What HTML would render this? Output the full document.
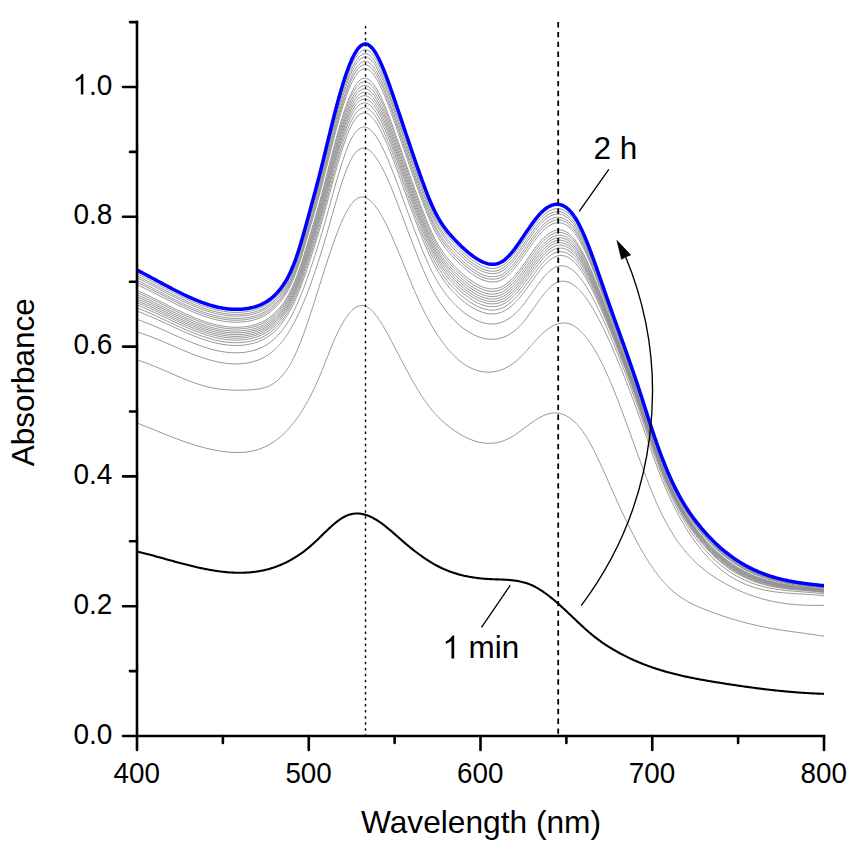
<!DOCTYPE html>
<html><head><meta charset="utf-8"><style>html,body{margin:0;padding:0;background:#fff;width:859px;height:849px;overflow:hidden}svg{display:block}text{font-family:"Liberation Sans",sans-serif}</style></head>
<body><svg width="859" height="849" viewBox="0 0 859 849">
<rect width="859" height="849" fill="#fff"/>
<g fill="none" stroke="#8e8e8e" stroke-width="0.9">
<path d="M137,273.55 L138,274.04 L139,274.54 L140,275.04 L141,275.55 L142,276.05 L143,276.57 L144,277.08 L145,277.60 L146,278.11 L147,278.64 L148,279.16 L149,279.68 L150,280.21 L151,280.74 L152,281.27 L153,281.80 L154,282.33 L155,282.86 L156,283.39 L157,283.92 L158,284.46 L159,284.99 L160,285.52 L161,286.06 L162,286.59 L163,287.12 L164,287.65 L165,288.18 L166,288.71 L167,289.24 L168,289.76 L169,290.29 L170,290.81 L171,291.33 L172,291.85 L173,292.37 L174,292.88 L175,293.39 L176,293.90 L177,294.40 L178,294.90 L179,295.40 L180,295.89 L181,296.39 L182,296.87 L183,297.35 L184,297.83 L185,298.31 L186,298.77 L187,299.24 L188,299.70 L189,300.15 L190,300.60 L191,301.04 L192,301.48 L193,301.91 L194,302.34 L195,302.76 L196,303.17 L197,303.57 L198,303.97 L199,304.37 L200,304.75 L201,305.13 L202,305.50 L203,305.86 L204,306.22 L205,306.56 L206,306.90 L207,307.23 L208,307.55 L209,307.87 L210,308.17 L211,308.47 L212,308.75 L213,309.03 L214,309.30 L215,309.55 L216,309.80 L217,310.04 L218,310.27 L219,310.48 L220,310.69 L221,310.88 L222,311.07 L223,311.24 L224,311.40 L225,311.55 L226,311.69 L227,311.82 L228,311.93 L229,312.03 L230,312.12 L231,312.20 L232,312.27 L233,312.32 L234,312.36 L235,312.38 L236,312.39 L237,312.39 L238,312.38 L239,312.35 L240,312.30 L241,312.25 L242,312.17 L243,312.09 L244,311.99 L245,311.87 L246,311.74 L247,311.59 L248,311.43 L249,311.25 L250,311.06 L251,310.84 L252,310.62 L253,310.37 L254,310.11 L255,309.83 L256,309.52 L257,309.20 L258,308.85 L259,308.47 L260,308.07 L261,307.64 L262,307.18 L263,306.69 L264,306.16 L265,305.61 L266,305.02 L267,304.39 L268,303.73 L269,303.03 L270,302.29 L271,301.50 L272,300.68 L273,299.81 L274,298.90 L275,297.94 L276,296.93 L277,295.88 L278,294.77 L279,293.61 L280,292.40 L281,291.12 L282,289.78 L283,288.37 L284,286.89 L285,285.32 L286,283.68 L287,281.94 L288,280.12 L289,278.19 L290,276.17 L291,274.04 L292,271.79 L293,269.44 L294,266.96 L295,264.36 L296,261.63 L297,258.77 L298,255.80 L299,252.71 L300,249.53 L301,246.26 L302,242.91 L303,239.50 L304,236.02 L305,232.50 L306,228.94 L307,225.36 L308,221.76 L309,218.15 L310,214.54 L311,210.93 L312,207.32 L313,203.70 L314,200.06 L315,196.40 L316,192.72 L317,189.00 L318,185.24 L319,181.44 L320,177.59 L321,173.69 L322,169.74 L323,165.76 L324,161.74 L325,157.70 L326,153.63 L327,149.56 L328,145.49 L329,141.41 L330,137.35 L331,133.31 L332,129.29 L333,125.31 L334,121.37 L335,117.47 L336,113.64 L337,109.86 L338,106.16 L339,102.53 L340,98.99 L341,95.54 L342,92.18 L343,88.92 L344,85.75 L345,82.69 L346,79.74 L347,76.91 L348,74.19 L349,71.59 L350,69.12 L351,66.78 L352,64.57 L353,62.50 L354,60.57 L355,58.79 L356,57.16 L357,55.68 L358,54.35 L359,53.19 L360,52.19 L361,51.36 L362,50.70 L363,50.21 L364,49.90 L365,49.77 L366,49.83 L367,50.06 L368,50.48 L369,51.06 L370,51.81 L371,52.71 L372,53.77 L373,54.98 L374,56.32 L375,57.80 L376,59.41 L377,61.14 L378,62.98 L379,64.94 L380,67.00 L381,69.16 L382,71.41 L383,73.75 L384,76.18 L385,78.67 L386,81.24 L387,83.86 L388,86.55 L389,89.28 L390,92.06 L391,94.89 L392,97.74 L393,100.62 L394,103.52 L395,106.44 L396,109.37 L397,112.31 L398,115.25 L399,118.20 L400,121.15 L401,124.11 L402,127.07 L403,130.03 L404,132.99 L405,135.95 L406,138.91 L407,141.86 L408,144.81 L409,147.75 L410,150.68 L411,153.61 L412,156.52 L413,159.43 L414,162.32 L415,165.20 L416,168.06 L417,170.91 L418,173.74 L419,176.56 L420,179.35 L421,182.12 L422,184.87 L423,187.58 L424,190.26 L425,192.90 L426,195.50 L427,198.05 L428,200.55 L429,203.00 L430,205.39 L431,207.72 L432,209.99 L433,212.18 L434,214.31 L435,216.35 L436,218.32 L437,220.21 L438,222.01 L439,223.74 L440,225.40 L441,227.00 L442,228.53 L443,230.00 L444,231.41 L445,232.78 L446,234.09 L447,235.36 L448,236.59 L449,237.79 L450,238.95 L451,240.09 L452,241.20 L453,242.29 L454,243.36 L455,244.42 L456,245.46 L457,246.49 L458,247.51 L459,248.51 L460,249.49 L461,250.46 L462,251.40 L463,252.34 L464,253.25 L465,254.14 L466,255.02 L467,255.87 L468,256.70 L469,257.52 L470,258.30 L471,259.07 L472,259.82 L473,260.54 L474,261.23 L475,261.90 L476,262.55 L477,263.17 L478,263.76 L479,264.32 L480,264.86 L481,265.37 L482,265.84 L483,266.28 L484,266.69 L485,267.06 L486,267.39 L487,267.68 L488,267.93 L489,268.13 L490,268.29 L491,268.40 L492,268.46 L493,268.46 L494,268.42 L495,268.31 L496,268.15 L497,267.93 L498,267.65 L499,267.31 L500,266.90 L501,266.42 L502,265.88 L503,265.26 L504,264.57 L505,263.81 L506,262.98 L507,262.09 L508,261.14 L509,260.13 L510,259.07 L511,257.95 L512,256.79 L513,255.58 L514,254.33 L515,253.05 L516,251.73 L517,250.37 L518,248.99 L519,247.59 L520,246.17 L521,244.73 L522,243.27 L523,241.80 L524,240.33 L525,238.85 L526,237.37 L527,235.89 L528,234.43 L529,232.97 L530,231.52 L531,230.10 L532,228.69 L533,227.31 L534,225.96 L535,224.64 L536,223.35 L537,222.11 L538,220.91 L539,219.75 L540,218.64 L541,217.58 L542,216.58 L543,215.62 L544,214.73 L545,213.88 L546,213.10 L547,212.37 L548,211.70 L549,211.10 L550,210.56 L551,210.08 L552,209.67 L553,209.32 L554,209.05 L555,208.84 L556,208.71 L557,208.64 L558,208.65 L559,208.74 L560,208.90 L561,209.14 L562,209.46 L563,209.86 L564,210.34 L565,210.90 L566,211.54 L567,212.27 L568,213.08 L569,213.98 L570,214.96 L571,216.04 L572,217.20 L573,218.46 L574,219.81 L575,221.25 L576,222.79 L577,224.42 L578,226.14 L579,227.96 L580,229.86 L581,231.85 L582,233.92 L583,236.06 L584,238.27 L585,240.55 L586,242.89 L587,245.29 L588,247.75 L589,250.26 L590,252.82 L591,255.42 L592,258.06 L593,260.74 L594,263.44 L595,266.18 L596,268.94 L597,271.72 L598,274.53 L599,277.34 L600,280.17 L601,283.01 L602,285.85 L603,288.70 L604,291.55 L605,294.40 L606,297.24 L607,300.08 L608,302.91 L609,305.72 L610,308.53 L611,311.32 L612,314.11 L613,316.89 L614,319.66 L615,322.43 L616,325.20 L617,327.96 L618,330.72 L619,333.48 L620,336.25 L621,339.01 L622,341.78 L623,344.56 L624,347.34 L625,350.12 L626,352.92 L627,355.73 L628,358.55 L629,361.38 L630,364.22 L631,367.08 L632,369.95 L633,372.84 L634,375.75 L635,378.68 L636,381.63 L637,384.60 L638,387.60 L639,390.62 L640,393.67 L641,396.73 L642,399.82 L643,402.92 L644,406.03 L645,409.14 L646,412.25 L647,415.36 L648,418.46 L649,421.55 L650,424.61 L651,427.66 L652,430.67 L653,433.66 L654,436.61 L655,439.52 L656,442.40 L657,445.24 L658,448.03 L659,450.79 L660,453.50 L661,456.18 L662,458.81 L663,461.39 L664,463.93 L665,466.43 L666,468.88 L667,471.28 L668,473.64 L669,475.95 L670,478.21 L671,480.42 L672,482.58 L673,484.69 L674,486.76 L675,488.78 L676,490.76 L677,492.69 L678,494.59 L679,496.44 L680,498.25 L681,500.02 L682,501.75 L683,503.45 L684,505.11 L685,506.74 L686,508.33 L687,509.89 L688,511.42 L689,512.91 L690,514.38 L691,515.82 L692,517.23 L693,518.61 L694,519.97 L695,521.30 L696,522.61 L697,523.90 L698,525.17 L699,526.41 L700,527.64 L701,528.85 L702,530.04 L703,531.21 L704,532.36 L705,533.50 L706,534.62 L707,535.72 L708,536.80 L709,537.87 L710,538.92 L711,539.95 L712,540.97 L713,541.97 L714,542.95 L715,543.92 L716,544.87 L717,545.81 L718,546.73 L719,547.63 L720,548.52 L721,549.39 L722,550.25 L723,551.10 L724,551.93 L725,552.74 L726,553.54 L727,554.33 L728,555.10 L729,555.86 L730,556.61 L731,557.34 L732,558.06 L733,558.77 L734,559.46 L735,560.14 L736,560.81 L737,561.46 L738,562.10 L739,562.73 L740,563.35 L741,563.95 L742,564.55 L743,565.13 L744,565.70 L745,566.26 L746,566.80 L747,567.34 L748,567.86 L749,568.38 L750,568.88 L751,569.37 L752,569.86 L753,570.33 L754,570.79 L755,571.24 L756,571.68 L757,572.11 L758,572.54 L759,572.95 L760,573.35 L761,573.75 L762,574.13 L763,574.51 L764,574.87 L765,575.23 L766,575.58 L767,575.92 L768,576.26 L769,576.58 L770,576.90 L771,577.21 L772,577.51 L773,577.81 L774,578.10 L775,578.38 L776,578.65 L777,578.91 L778,579.17 L779,579.43 L780,579.67 L781,579.91 L782,580.15 L783,580.37 L784,580.60 L785,580.81 L786,581.02 L787,581.23 L788,581.43 L789,581.62 L790,581.81 L791,581.99 L792,582.17 L793,582.35 L794,582.52 L795,582.68 L796,582.85 L797,583.00 L798,583.16 L799,583.31 L800,583.45 L801,583.60 L802,583.74 L803,583.87 L804,584.00 L805,584.13 L806,584.26 L807,584.39 L808,584.51 L809,584.63 L810,584.75 L811,584.86 L812,584.98 L813,585.09 L814,585.20 L815,585.31 L816,585.41 L817,585.52 L818,585.62 L819,585.73 L820,585.83 L821,585.93 L822,586.04 L823,586.14 L824,586.24"/>
<path d="M137,275.84 L138,276.33 L139,276.82 L140,277.31 L141,277.81 L142,278.31 L143,278.81 L144,279.32 L145,279.83 L146,280.34 L147,280.86 L148,281.37 L149,281.89 L150,282.41 L151,282.93 L152,283.46 L153,283.98 L154,284.51 L155,285.03 L156,285.56 L157,286.09 L158,286.62 L159,287.15 L160,287.67 L161,288.20 L162,288.73 L163,289.26 L164,289.78 L165,290.31 L166,290.84 L167,291.36 L168,291.88 L169,292.40 L170,292.92 L171,293.44 L172,293.95 L173,294.46 L174,294.97 L175,295.48 L176,295.99 L177,296.49 L178,296.99 L179,297.48 L180,297.97 L181,298.46 L182,298.95 L183,299.43 L184,299.90 L185,300.37 L186,300.84 L187,301.30 L188,301.76 L189,302.21 L190,302.66 L191,303.10 L192,303.53 L193,303.96 L194,304.39 L195,304.80 L196,305.21 L197,305.62 L198,306.02 L199,306.41 L200,306.79 L201,307.17 L202,307.54 L203,307.90 L204,308.25 L205,308.60 L206,308.94 L207,309.27 L208,309.59 L209,309.90 L210,310.20 L211,310.50 L212,310.78 L213,311.06 L214,311.33 L215,311.58 L216,311.83 L217,312.07 L218,312.29 L219,312.51 L220,312.71 L221,312.91 L222,313.09 L223,313.27 L224,313.43 L225,313.58 L226,313.71 L227,313.84 L228,313.96 L229,314.06 L230,314.15 L231,314.22 L232,314.29 L233,314.34 L234,314.38 L235,314.40 L236,314.42 L237,314.41 L238,314.40 L239,314.37 L240,314.32 L241,314.27 L242,314.19 L243,314.11 L244,314.00 L245,313.89 L246,313.75 L247,313.61 L248,313.44 L249,313.26 L250,313.07 L251,312.86 L252,312.63 L253,312.39 L254,312.12 L255,311.84 L256,311.53 L257,311.21 L258,310.85 L259,310.48 L260,310.07 L261,309.64 L262,309.18 L263,308.69 L264,308.17 L265,307.61 L266,307.02 L267,306.40 L268,305.74 L269,305.04 L270,304.30 L271,303.51 L272,302.69 L273,301.82 L274,300.91 L275,299.96 L276,298.95 L277,297.90 L278,296.79 L279,295.64 L280,294.43 L281,293.16 L282,291.82 L283,290.42 L284,288.94 L285,287.38 L286,285.74 L287,284.02 L288,282.20 L289,280.29 L290,278.28 L291,276.17 L292,273.95 L293,271.61 L294,269.16 L295,266.58 L296,263.88 L297,261.06 L298,258.12 L299,255.07 L300,251.93 L301,248.70 L302,245.39 L303,242.01 L304,238.58 L305,235.10 L306,231.59 L307,228.04 L308,224.48 L309,220.91 L310,217.33 L311,213.76 L312,210.18 L313,206.59 L314,202.98 L315,199.35 L316,195.69 L317,192.00 L318,188.27 L319,184.50 L320,180.68 L321,176.81 L322,172.89 L323,168.93 L324,164.94 L325,160.92 L326,156.89 L327,152.84 L328,148.79 L329,144.74 L330,140.70 L331,136.68 L332,132.68 L333,128.72 L334,124.79 L335,120.92 L336,117.09 L337,113.34 L338,109.65 L339,106.04 L340,102.51 L341,99.07 L342,95.72 L343,92.46 L344,89.31 L345,86.26 L346,83.32 L347,80.50 L348,77.79 L349,75.20 L350,72.74 L351,70.41 L352,68.22 L353,66.17 L354,64.26 L355,62.49 L356,60.88 L357,59.42 L358,58.11 L359,56.97 L360,55.98 L361,55.17 L362,54.52 L363,54.05 L364,53.75 L365,53.63 L366,53.70 L367,53.94 L368,54.36 L369,54.94 L370,55.69 L371,56.59 L372,57.65 L373,58.85 L374,60.18 L375,61.66 L376,63.25 L377,64.97 L378,66.81 L379,68.75 L380,70.80 L381,72.94 L382,75.18 L383,77.50 L384,79.91 L385,82.39 L386,84.93 L387,87.54 L388,90.21 L389,92.93 L390,95.69 L391,98.50 L392,101.33 L393,104.20 L394,107.09 L395,109.99 L396,112.90 L397,115.83 L398,118.76 L399,121.69 L400,124.64 L401,127.58 L402,130.53 L403,133.48 L404,136.43 L405,139.37 L406,142.32 L407,145.26 L408,148.20 L409,151.13 L410,154.05 L411,156.97 L412,159.87 L413,162.76 L414,165.64 L415,168.51 L416,171.36 L417,174.20 L418,177.02 L419,179.82 L420,182.60 L421,185.36 L422,188.09 L423,190.79 L424,193.45 L425,196.08 L426,198.66 L427,201.20 L428,203.69 L429,206.12 L430,208.50 L431,210.81 L432,213.06 L433,215.25 L434,217.36 L435,219.40 L436,221.36 L437,223.23 L438,225.04 L439,226.76 L440,228.42 L441,230.01 L442,231.54 L443,233.01 L444,234.42 L445,235.79 L446,237.10 L447,238.37 L448,239.61 L449,240.80 L450,241.96 L451,243.10 L452,244.21 L453,245.30 L454,246.37 L455,247.43 L456,248.47 L457,249.49 L458,250.51 L459,251.50 L460,252.48 L461,253.44 L462,254.38 L463,255.31 L464,256.21 L465,257.10 L466,257.97 L467,258.81 L468,259.64 L469,260.44 L470,261.22 L471,261.98 L472,262.72 L473,263.43 L474,264.12 L475,264.78 L476,265.42 L477,266.03 L478,266.61 L479,267.17 L480,267.70 L481,268.20 L482,268.67 L483,269.10 L484,269.50 L485,269.87 L486,270.19 L487,270.48 L488,270.72 L489,270.92 L490,271.07 L491,271.18 L492,271.23 L493,271.24 L494,271.19 L495,271.09 L496,270.93 L497,270.72 L498,270.44 L499,270.10 L500,269.70 L501,269.23 L502,268.69 L503,268.09 L504,267.41 L505,266.67 L506,265.85 L507,264.98 L508,264.04 L509,263.05 L510,262.00 L511,260.91 L512,259.76 L513,258.58 L514,257.35 L515,256.08 L516,254.78 L517,253.45 L518,252.08 L519,250.70 L520,249.29 L521,247.86 L522,246.42 L523,244.96 L524,243.50 L525,242.03 L526,240.56 L527,239.09 L528,237.63 L529,236.17 L530,234.73 L531,233.31 L532,231.90 L533,230.52 L534,229.16 L535,227.84 L536,226.55 L537,225.30 L538,224.09 L539,222.92 L540,221.80 L541,220.73 L542,219.71 L543,218.75 L544,217.84 L545,216.98 L546,216.18 L547,215.43 L548,214.75 L549,214.13 L550,213.57 L551,213.08 L552,212.65 L553,212.28 L554,211.99 L555,211.77 L556,211.62 L557,211.54 L558,211.53 L559,211.60 L560,211.75 L561,211.97 L562,212.28 L563,212.66 L564,213.12 L565,213.66 L566,214.28 L567,214.99 L568,215.79 L569,216.66 L570,217.63 L571,218.68 L572,219.82 L573,221.05 L574,222.38 L575,223.79 L576,225.30 L577,226.90 L578,228.60 L579,230.38 L580,232.25 L581,234.20 L582,236.23 L583,238.33 L584,240.51 L585,242.75 L586,245.05 L587,247.42 L588,249.83 L589,252.30 L590,254.82 L591,257.38 L592,259.98 L593,262.62 L594,265.29 L595,267.99 L596,270.71 L597,273.45 L598,276.22 L599,279.00 L600,281.79 L601,284.59 L602,287.41 L603,290.22 L604,293.04 L605,295.86 L606,298.68 L607,301.49 L608,304.29 L609,307.08 L610,309.86 L611,312.63 L612,315.40 L613,318.16 L614,320.92 L615,323.67 L616,326.42 L617,329.17 L618,331.92 L619,334.66 L620,337.41 L621,340.17 L622,342.93 L623,345.69 L624,348.46 L625,351.24 L626,354.02 L627,356.82 L628,359.63 L629,362.45 L630,365.29 L631,368.14 L632,371.00 L633,373.88 L634,376.79 L635,379.71 L636,382.65 L637,385.61 L638,388.60 L639,391.61 L640,394.65 L641,397.70 L642,400.78 L643,403.87 L644,406.97 L645,410.07 L646,413.18 L647,416.27 L648,419.37 L649,422.44 L650,425.50 L651,428.54 L652,431.55 L653,434.53 L654,437.47 L655,440.38 L656,443.25 L657,446.08 L658,448.87 L659,451.62 L660,454.33 L661,457.00 L662,459.62 L663,462.20 L664,464.74 L665,467.23 L666,469.67 L667,472.07 L668,474.43 L669,476.73 L670,478.98 L671,481.19 L672,483.35 L673,485.46 L674,487.53 L675,489.55 L676,491.53 L677,493.46 L678,495.35 L679,497.20 L680,499.02 L681,500.79 L682,502.52 L683,504.22 L684,505.89 L685,507.51 L686,509.11 L687,510.67 L688,512.20 L689,513.70 L690,515.17 L691,516.61 L692,518.02 L693,519.41 L694,520.77 L695,522.10 L696,523.41 L697,524.70 L698,525.97 L699,527.22 L700,528.45 L701,529.66 L702,530.85 L703,532.02 L704,533.17 L705,534.31 L706,535.43 L707,536.53 L708,537.61 L709,538.68 L710,539.73 L711,540.76 L712,541.78 L713,542.77 L714,543.76 L715,544.72 L716,545.67 L717,546.61 L718,547.53 L719,548.43 L720,549.32 L721,550.19 L722,551.04 L723,551.89 L724,552.71 L725,553.53 L726,554.32 L727,555.11 L728,555.88 L729,556.63 L730,557.38 L731,558.10 L732,558.82 L733,559.52 L734,560.21 L735,560.88 L736,561.55 L737,562.20 L738,562.83 L739,563.46 L740,564.07 L741,564.67 L742,565.26 L743,565.84 L744,566.40 L745,566.95 L746,567.50 L747,568.03 L748,568.55 L749,569.06 L750,569.55 L751,570.04 L752,570.52 L753,570.98 L754,571.44 L755,571.88 L756,572.32 L757,572.75 L758,573.16 L759,573.57 L760,573.97 L761,574.35 L762,574.73 L763,575.10 L764,575.47 L765,575.82 L766,576.16 L767,576.50 L768,576.83 L769,577.15 L770,577.46 L771,577.76 L772,578.06 L773,578.35 L774,578.63 L775,578.90 L776,579.17 L777,579.43 L778,579.69 L779,579.93 L780,580.17 L781,580.41 L782,580.64 L783,580.86 L784,581.08 L785,581.29 L786,581.49 L787,581.69 L788,581.89 L789,582.08 L790,582.26 L791,582.44 L792,582.62 L793,582.79 L794,582.95 L795,583.11 L796,583.27 L797,583.43 L798,583.57 L799,583.72 L800,583.86 L801,584.00 L802,584.14 L803,584.27 L804,584.40 L805,584.53 L806,584.65 L807,584.78 L808,584.90 L809,585.01 L810,585.13 L811,585.24 L812,585.36 L813,585.47 L814,585.58 L815,585.68 L816,585.79 L817,585.89 L818,586.00 L819,586.10 L820,586.21 L821,586.31 L822,586.41 L823,586.51 L824,586.62"/>
<path d="M137,277.84 L138,278.32 L139,278.81 L140,279.30 L141,279.79 L142,280.28 L143,280.78 L144,281.28 L145,281.79 L146,282.29 L147,282.80 L148,283.31 L149,283.82 L150,284.34 L151,284.86 L152,285.37 L153,285.89 L154,286.42 L155,286.94 L156,287.46 L157,287.98 L158,288.51 L159,289.03 L160,289.56 L161,290.08 L162,290.60 L163,291.13 L164,291.65 L165,292.17 L166,292.69 L167,293.21 L168,293.73 L169,294.25 L170,294.77 L171,295.28 L172,295.79 L173,296.30 L174,296.81 L175,297.31 L176,297.82 L177,298.31 L178,298.81 L179,299.30 L180,299.79 L181,300.28 L182,300.76 L183,301.24 L184,301.71 L185,302.18 L186,302.65 L187,303.11 L188,303.56 L189,304.01 L190,304.46 L191,304.90 L192,305.33 L193,305.76 L194,306.18 L195,306.60 L196,307.01 L197,307.41 L198,307.81 L199,308.20 L200,308.58 L201,308.95 L202,309.32 L203,309.68 L204,310.04 L205,310.38 L206,310.72 L207,311.05 L208,311.37 L209,311.68 L210,311.98 L211,312.28 L212,312.56 L213,312.84 L214,313.10 L215,313.36 L216,313.61 L217,313.84 L218,314.07 L219,314.28 L220,314.49 L221,314.68 L222,314.87 L223,315.04 L224,315.20 L225,315.35 L226,315.49 L227,315.61 L228,315.73 L229,315.83 L230,315.92 L231,315.99 L232,316.06 L233,316.11 L234,316.15 L235,316.17 L236,316.18 L237,316.18 L238,316.17 L239,316.14 L240,316.09 L241,316.03 L242,315.96 L243,315.87 L244,315.77 L245,315.65 L246,315.52 L247,315.37 L248,315.21 L249,315.03 L250,314.83 L251,314.62 L252,314.39 L253,314.15 L254,313.88 L255,313.60 L256,313.29 L257,312.97 L258,312.61 L259,312.24 L260,311.83 L261,311.40 L262,310.94 L263,310.45 L264,309.93 L265,309.37 L266,308.78 L267,308.16 L268,307.49 L269,306.79 L270,306.05 L271,305.27 L272,304.45 L273,303.59 L274,302.68 L275,301.72 L276,300.72 L277,299.67 L278,298.56 L279,297.41 L280,296.20 L281,294.94 L282,293.60 L283,292.20 L284,290.73 L285,289.18 L286,287.55 L287,285.84 L288,284.03 L289,282.13 L290,280.14 L291,278.04 L292,275.83 L293,273.51 L294,271.08 L295,268.53 L296,265.85 L297,263.06 L298,260.15 L299,257.13 L300,254.02 L301,250.83 L302,247.55 L303,244.22 L304,240.82 L305,237.38 L306,233.90 L307,230.39 L308,226.86 L309,223.32 L310,219.78 L311,216.23 L312,212.68 L313,209.12 L314,205.54 L315,201.93 L316,198.30 L317,194.63 L318,190.93 L319,187.18 L320,183.38 L321,179.53 L322,175.64 L323,171.70 L324,167.74 L325,163.75 L326,159.73 L327,155.71 L328,151.68 L329,147.65 L330,143.63 L331,139.63 L332,135.65 L333,131.70 L334,127.79 L335,123.93 L336,120.12 L337,116.38 L338,112.70 L339,109.10 L340,105.58 L341,102.15 L342,98.81 L343,95.57 L344,92.42 L345,89.38 L346,86.45 L347,83.64 L348,80.94 L349,78.36 L350,75.91 L351,73.60 L352,71.42 L353,69.38 L354,67.48 L355,65.73 L356,64.13 L357,62.69 L358,61.40 L359,60.27 L360,59.30 L361,58.50 L362,57.87 L363,57.41 L364,57.12 L365,57.01 L366,57.08 L367,57.33 L368,57.75 L369,58.34 L370,59.09 L371,59.99 L372,61.04 L373,62.23 L374,63.56 L375,65.03 L376,66.62 L377,68.33 L378,70.15 L379,72.08 L380,74.12 L381,76.25 L382,78.48 L383,80.78 L384,83.17 L385,85.64 L386,88.17 L387,90.77 L388,93.42 L389,96.12 L390,98.87 L391,101.66 L392,104.48 L393,107.33 L394,110.20 L395,113.09 L396,115.99 L397,118.91 L398,121.82 L399,124.75 L400,127.68 L401,130.62 L402,133.55 L403,136.49 L404,139.43 L405,142.37 L406,145.31 L407,148.24 L408,151.16 L409,154.08 L410,157.00 L411,159.90 L412,162.80 L413,165.68 L414,168.55 L415,171.41 L416,174.25 L417,177.08 L418,179.89 L419,182.68 L420,185.44 L421,188.19 L422,190.91 L423,193.60 L424,196.25 L425,198.86 L426,201.43 L427,203.96 L428,206.43 L429,208.85 L430,211.22 L431,213.52 L432,215.76 L433,217.93 L434,220.03 L435,222.06 L436,224.01 L437,225.88 L438,227.68 L439,229.40 L440,231.06 L441,232.65 L442,234.17 L443,235.64 L444,237.05 L445,238.42 L446,239.73 L447,241.01 L448,242.24 L449,243.44 L450,244.60 L451,245.74 L452,246.85 L453,247.93 L454,249.00 L455,250.06 L456,251.10 L457,252.12 L458,253.13 L459,254.12 L460,255.09 L461,256.05 L462,256.99 L463,257.91 L464,258.81 L465,259.69 L466,260.55 L467,261.39 L468,262.21 L469,263.00 L470,263.78 L471,264.53 L472,265.26 L473,265.97 L474,266.65 L475,267.30 L476,267.93 L477,268.54 L478,269.11 L479,269.66 L480,270.19 L481,270.68 L482,271.14 L483,271.57 L484,271.96 L485,272.32 L486,272.64 L487,272.92 L488,273.16 L489,273.35 L490,273.51 L491,273.61 L492,273.66 L493,273.67 L494,273.62 L495,273.52 L496,273.36 L497,273.15 L498,272.88 L499,272.54 L500,272.15 L501,271.69 L502,271.16 L503,270.56 L504,269.90 L505,269.16 L506,268.37 L507,267.50 L508,266.58 L509,265.61 L510,264.58 L511,263.50 L512,262.37 L513,261.20 L514,259.99 L515,258.74 L516,257.45 L517,256.13 L518,254.79 L519,253.42 L520,252.02 L521,250.61 L522,249.18 L523,247.73 L524,246.28 L525,244.81 L526,243.35 L527,241.89 L528,240.43 L529,238.98 L530,237.54 L531,236.11 L532,234.71 L533,233.32 L534,231.97 L535,230.64 L536,229.34 L537,228.09 L538,226.87 L539,225.70 L540,224.57 L541,223.49 L542,222.46 L543,221.48 L544,220.56 L545,219.69 L546,218.87 L547,218.12 L548,217.42 L549,216.78 L550,216.21 L551,215.70 L552,215.25 L553,214.88 L554,214.57 L555,214.33 L556,214.16 L557,214.07 L558,214.05 L559,214.11 L560,214.24 L561,214.45 L562,214.74 L563,215.10 L564,215.55 L565,216.08 L566,216.69 L567,217.38 L568,218.15 L569,219.01 L570,219.96 L571,220.99 L572,222.11 L573,223.32 L574,224.62 L575,226.02 L576,227.50 L577,229.07 L578,230.74 L579,232.50 L580,234.34 L581,236.26 L582,238.26 L583,240.33 L584,242.47 L585,244.68 L586,246.95 L587,249.27 L588,251.66 L589,254.09 L590,256.57 L591,259.10 L592,261.66 L593,264.27 L594,266.90 L595,269.57 L596,272.26 L597,274.97 L598,277.70 L599,280.45 L600,283.21 L601,285.98 L602,288.77 L603,291.55 L604,294.35 L605,297.14 L606,299.93 L607,302.72 L608,305.50 L609,308.27 L610,311.03 L611,313.78 L612,316.53 L613,319.28 L614,322.02 L615,324.75 L616,327.49 L617,330.22 L618,332.96 L619,335.70 L620,338.44 L621,341.18 L622,343.93 L623,346.68 L624,349.44 L625,352.21 L626,354.99 L627,357.78 L628,360.58 L629,363.39 L630,366.22 L631,369.06 L632,371.92 L633,374.80 L634,377.69 L635,380.60 L636,383.54 L637,386.49 L638,389.47 L639,392.48 L640,395.50 L641,398.55 L642,401.62 L643,404.70 L644,407.79 L645,410.89 L646,413.98 L647,417.07 L648,420.16 L649,423.23 L650,426.28 L651,429.31 L652,432.31 L653,435.28 L654,438.22 L655,441.12 L656,443.99 L657,446.81 L658,449.60 L659,452.35 L660,455.05 L661,457.71 L662,460.33 L663,462.91 L664,465.44 L665,467.93 L666,470.37 L667,472.76 L668,475.11 L669,477.41 L670,479.66 L671,481.87 L672,484.03 L673,486.14 L674,488.20 L675,490.22 L676,492.20 L677,494.13 L678,496.02 L679,497.88 L680,499.69 L681,501.46 L682,503.20 L683,504.90 L684,506.56 L685,508.19 L686,509.79 L687,511.35 L688,512.88 L689,514.38 L690,515.85 L691,517.30 L692,518.71 L693,520.10 L694,521.46 L695,522.80 L696,524.11 L697,525.40 L698,526.67 L699,527.92 L700,529.15 L701,530.36 L702,531.55 L703,532.73 L704,533.88 L705,535.02 L706,536.14 L707,537.24 L708,538.32 L709,539.39 L710,540.44 L711,541.47 L712,542.48 L713,543.48 L714,544.46 L715,545.43 L716,546.38 L717,547.31 L718,548.23 L719,549.13 L720,550.01 L721,550.88 L722,551.74 L723,552.58 L724,553.40 L725,554.21 L726,555.01 L727,555.79 L728,556.55 L729,557.31 L730,558.05 L731,558.77 L732,559.48 L733,560.18 L734,560.87 L735,561.54 L736,562.20 L737,562.84 L738,563.48 L739,564.10 L740,564.70 L741,565.30 L742,565.88 L743,566.46 L744,567.02 L745,567.57 L746,568.10 L747,568.63 L748,569.14 L749,569.65 L750,570.14 L751,570.62 L752,571.09 L753,571.56 L754,572.01 L755,572.45 L756,572.88 L757,573.30 L758,573.71 L759,574.11 L760,574.50 L761,574.89 L762,575.26 L763,575.63 L764,575.98 L765,576.33 L766,576.67 L767,577.00 L768,577.32 L769,577.64 L770,577.95 L771,578.24 L772,578.54 L773,578.82 L774,579.10 L775,579.37 L776,579.63 L777,579.88 L778,580.13 L779,580.38 L780,580.61 L781,580.84 L782,581.07 L783,581.28 L784,581.50 L785,581.70 L786,581.90 L787,582.10 L788,582.29 L789,582.47 L790,582.66 L791,582.83 L792,583.00 L793,583.17 L794,583.33 L795,583.49 L796,583.64 L797,583.79 L798,583.94 L799,584.08 L800,584.22 L801,584.36 L802,584.49 L803,584.62 L804,584.75 L805,584.88 L806,585.00 L807,585.12 L808,585.24 L809,585.35 L810,585.47 L811,585.58 L812,585.69 L813,585.80 L814,585.91 L815,586.01 L816,586.12 L817,586.22 L818,586.33 L819,586.43 L820,586.53 L821,586.64 L822,586.74 L823,586.84 L824,586.95"/>
<path d="M137,280.42 L138,280.89 L139,281.37 L140,281.85 L141,282.33 L142,282.82 L143,283.31 L144,283.80 L145,284.30 L146,284.80 L147,285.30 L148,285.80 L149,286.31 L150,286.82 L151,287.33 L152,287.84 L153,288.35 L154,288.87 L155,289.38 L156,289.90 L157,290.42 L158,290.94 L159,291.46 L160,291.97 L161,292.49 L162,293.01 L163,293.53 L164,294.05 L165,294.57 L166,295.08 L167,295.60 L168,296.11 L169,296.63 L170,297.14 L171,297.65 L172,298.16 L173,298.66 L174,299.17 L175,299.67 L176,300.17 L177,300.66 L178,301.15 L179,301.64 L180,302.13 L181,302.61 L182,303.09 L183,303.57 L184,304.04 L185,304.51 L186,304.97 L187,305.43 L188,305.88 L189,306.33 L190,306.77 L191,307.21 L192,307.64 L193,308.07 L194,308.49 L195,308.90 L196,309.31 L197,309.71 L198,310.11 L199,310.49 L200,310.88 L201,311.25 L202,311.62 L203,311.98 L204,312.33 L205,312.67 L206,313.01 L207,313.34 L208,313.66 L209,313.97 L210,314.27 L211,314.56 L212,314.85 L213,315.12 L214,315.39 L215,315.64 L216,315.89 L217,316.12 L218,316.35 L219,316.56 L220,316.77 L221,316.96 L222,317.15 L223,317.32 L224,317.48 L225,317.63 L226,317.76 L227,317.89 L228,318.00 L229,318.10 L230,318.19 L231,318.27 L232,318.33 L233,318.38 L234,318.42 L235,318.45 L236,318.46 L237,318.45 L238,318.44 L239,318.41 L240,318.36 L241,318.30 L242,318.23 L243,318.14 L244,318.04 L245,317.92 L246,317.79 L247,317.64 L248,317.48 L249,317.30 L250,317.10 L251,316.89 L252,316.66 L253,316.41 L254,316.15 L255,315.86 L256,315.56 L257,315.23 L258,314.87 L259,314.50 L260,314.09 L261,313.66 L262,313.20 L263,312.71 L264,312.19 L265,311.63 L266,311.04 L267,310.42 L268,309.75 L269,309.05 L270,308.32 L271,307.54 L272,306.72 L273,305.85 L274,304.94 L275,303.99 L276,302.99 L277,301.94 L278,300.84 L279,299.69 L280,298.49 L281,297.22 L282,295.90 L283,294.50 L284,293.04 L285,291.50 L286,289.88 L287,288.17 L288,286.38 L289,284.50 L290,282.52 L291,280.44 L292,278.25 L293,275.96 L294,273.55 L295,271.03 L296,268.39 L297,265.63 L298,262.76 L299,259.78 L300,256.72 L301,253.57 L302,250.34 L303,247.05 L304,243.70 L305,240.30 L306,236.87 L307,233.41 L308,229.92 L309,226.42 L310,222.92 L311,219.42 L312,215.90 L313,212.37 L314,208.82 L315,205.25 L316,201.65 L317,198.01 L318,194.34 L319,190.62 L320,186.85 L321,183.04 L322,179.17 L323,175.27 L324,171.34 L325,167.38 L326,163.39 L327,159.40 L328,155.40 L329,151.39 L330,147.40 L331,143.42 L332,139.46 L333,135.53 L334,131.65 L335,127.80 L336,124.01 L337,120.28 L338,116.62 L339,113.04 L340,109.53 L341,106.11 L342,102.79 L343,99.56 L344,96.42 L345,93.40 L346,90.48 L347,87.67 L348,84.99 L349,82.43 L350,79.99 L351,77.69 L352,75.53 L353,73.51 L354,71.63 L355,69.90 L356,68.32 L357,66.90 L358,65.63 L359,64.52 L360,63.57 L361,62.79 L362,62.17 L363,61.73 L364,61.45 L365,61.36 L366,61.44 L367,61.69 L368,62.12 L369,62.71 L370,63.45 L371,64.35 L372,65.40 L373,66.59 L374,67.91 L375,69.36 L376,70.94 L377,72.64 L378,74.45 L379,76.37 L380,78.39 L381,80.50 L382,82.71 L383,85.00 L384,87.37 L385,89.82 L386,92.33 L387,94.91 L388,97.54 L389,100.22 L390,102.95 L391,105.72 L392,108.53 L393,111.36 L394,114.21 L395,117.09 L396,119.97 L397,122.87 L398,125.77 L399,128.68 L400,131.60 L401,134.52 L402,137.44 L403,140.37 L404,143.30 L405,146.22 L406,149.14 L407,152.06 L408,154.98 L409,157.89 L410,160.79 L411,163.68 L412,166.56 L413,169.43 L414,172.29 L415,175.13 L416,177.96 L417,180.78 L418,183.57 L419,186.35 L420,189.10 L421,191.83 L422,194.53 L423,197.20 L424,199.84 L425,202.44 L426,204.99 L427,207.50 L428,209.96 L429,212.36 L430,214.71 L431,217.00 L432,219.22 L433,221.38 L434,223.47 L435,225.49 L436,227.43 L437,229.29 L438,231.08 L439,232.80 L440,234.45 L441,236.03 L442,237.56 L443,239.03 L444,240.44 L445,241.80 L446,243.12 L447,244.39 L448,245.63 L449,246.82 L450,247.99 L451,249.12 L452,250.23 L453,251.32 L454,252.39 L455,253.44 L456,254.48 L457,255.50 L458,256.50 L459,257.49 L460,258.46 L461,259.41 L462,260.34 L463,261.25 L464,262.14 L465,263.01 L466,263.87 L467,264.70 L468,265.51 L469,266.30 L470,267.06 L471,267.81 L472,268.53 L473,269.22 L474,269.89 L475,270.54 L476,271.16 L477,271.76 L478,272.33 L479,272.87 L480,273.38 L481,273.87 L482,274.32 L483,274.74 L484,275.13 L485,275.48 L486,275.79 L487,276.06 L488,276.30 L489,276.49 L490,276.63 L491,276.74 L492,276.79 L493,276.79 L494,276.75 L495,276.65 L496,276.49 L497,276.28 L498,276.01 L499,275.69 L500,275.30 L501,274.85 L502,274.33 L503,273.75 L504,273.09 L505,272.38 L506,271.59 L507,270.75 L508,269.85 L509,268.89 L510,267.88 L511,266.82 L512,265.72 L513,264.57 L514,263.38 L515,262.15 L516,260.89 L517,259.59 L518,258.26 L519,256.91 L520,255.53 L521,254.14 L522,252.72 L523,251.29 L524,249.85 L525,248.39 L526,246.94 L527,245.48 L528,244.03 L529,242.58 L530,241.15 L531,239.72 L532,238.32 L533,236.93 L534,235.57 L535,234.24 L536,232.94 L537,231.67 L538,230.45 L539,229.26 L540,228.13 L541,227.03 L542,225.99 L543,225.00 L544,224.06 L545,223.17 L546,222.34 L547,221.56 L548,220.85 L549,220.19 L550,219.60 L551,219.07 L552,218.60 L553,218.21 L554,217.88 L555,217.63 L556,217.44 L557,217.33 L558,217.29 L559,217.33 L560,217.45 L561,217.64 L562,217.90 L563,218.25 L564,218.68 L565,219.19 L566,219.77 L567,220.44 L568,221.20 L569,222.03 L570,222.96 L571,223.97 L572,225.06 L573,226.24 L574,227.51 L575,228.87 L576,230.33 L577,231.87 L578,233.50 L579,235.22 L580,237.02 L581,238.90 L582,240.86 L583,242.89 L584,244.99 L585,247.15 L586,249.38 L587,251.66 L588,254.00 L589,256.39 L590,258.83 L591,261.31 L592,263.83 L593,266.39 L594,268.98 L595,271.60 L596,274.24 L597,276.91 L598,279.60 L599,282.31 L600,285.03 L601,287.77 L602,290.51 L603,293.27 L604,296.02 L605,298.78 L606,301.54 L607,304.30 L608,307.05 L609,309.79 L610,312.53 L611,315.26 L612,317.99 L613,320.71 L614,323.43 L615,326.15 L616,328.87 L617,331.58 L618,334.30 L619,337.03 L620,339.75 L621,342.48 L622,345.21 L623,347.96 L624,350.71 L625,353.46 L626,356.23 L627,359.01 L628,361.80 L629,364.60 L630,367.42 L631,370.25 L632,373.10 L633,375.97 L634,378.85 L635,381.76 L636,384.68 L637,387.63 L638,390.60 L639,393.59 L640,396.61 L641,399.65 L642,402.70 L643,405.77 L644,408.85 L645,411.94 L646,415.02 L647,418.10 L648,421.18 L649,424.24 L650,427.28 L651,430.30 L652,433.29 L653,436.26 L654,439.19 L655,442.08 L656,444.94 L657,447.76 L658,450.54 L659,453.28 L660,455.98 L661,458.63 L662,461.25 L663,463.82 L664,466.34 L665,468.82 L666,471.26 L667,473.65 L668,475.99 L669,478.29 L670,480.54 L671,482.74 L672,484.89 L673,487.00 L674,489.07 L675,491.09 L676,493.06 L677,494.99 L678,496.89 L679,498.74 L680,500.55 L681,502.33 L682,504.07 L683,505.77 L684,507.43 L685,509.06 L686,510.66 L687,512.23 L688,513.76 L689,515.26 L690,516.74 L691,518.18 L692,519.60 L693,520.99 L694,522.35 L695,523.70 L696,525.01 L697,526.31 L698,527.58 L699,528.83 L700,530.06 L701,531.27 L702,532.46 L703,533.64 L704,534.79 L705,535.93 L706,537.05 L707,538.15 L708,539.23 L709,540.30 L710,541.35 L711,542.38 L712,543.39 L713,544.39 L714,545.37 L715,546.33 L716,547.28 L717,548.21 L718,549.13 L719,550.02 L720,550.91 L721,551.77 L722,552.63 L723,553.46 L724,554.28 L725,555.09 L726,555.88 L727,556.66 L728,557.42 L729,558.17 L730,558.91 L731,559.63 L732,560.34 L733,561.03 L734,561.71 L735,562.38 L736,563.03 L737,563.67 L738,564.30 L739,564.91 L740,565.52 L741,566.11 L742,566.69 L743,567.25 L744,567.81 L745,568.35 L746,568.88 L747,569.40 L748,569.91 L749,570.41 L750,570.90 L751,571.37 L752,571.84 L753,572.29 L754,572.74 L755,573.17 L756,573.60 L757,574.01 L758,574.42 L759,574.81 L760,575.20 L761,575.57 L762,575.94 L763,576.30 L764,576.65 L765,576.99 L766,577.32 L767,577.65 L768,577.96 L769,578.27 L770,578.57 L771,578.86 L772,579.15 L773,579.43 L774,579.70 L775,579.96 L776,580.22 L777,580.47 L778,580.71 L779,580.95 L780,581.18 L781,581.40 L782,581.62 L783,581.83 L784,582.04 L785,582.24 L786,582.43 L787,582.62 L788,582.81 L789,582.99 L790,583.16 L791,583.33 L792,583.50 L793,583.66 L794,583.82 L795,583.97 L796,584.12 L797,584.27 L798,584.41 L799,584.55 L800,584.69 L801,584.82 L802,584.95 L803,585.08 L804,585.20 L805,585.32 L806,585.44 L807,585.56 L808,585.67 L809,585.79 L810,585.90 L811,586.01 L812,586.12 L813,586.23 L814,586.33 L815,586.44 L816,586.54 L817,586.65 L818,586.75 L819,586.85 L820,586.96 L821,587.06 L822,587.16 L823,587.27 L824,587.37"/>
<path d="M137,282.43 L138,282.89 L139,283.36 L140,283.84 L141,284.31 L142,284.79 L143,285.28 L144,285.76 L145,286.25 L146,286.75 L147,287.24 L148,287.74 L149,288.24 L150,288.75 L151,289.25 L152,289.76 L153,290.27 L154,290.78 L155,291.29 L156,291.80 L157,292.31 L158,292.83 L159,293.34 L160,293.86 L161,294.37 L162,294.89 L163,295.40 L164,295.91 L165,296.43 L166,296.94 L167,297.45 L168,297.97 L169,298.48 L170,298.98 L171,299.49 L172,300.00 L173,300.50 L174,301.00 L175,301.50 L176,301.99 L177,302.49 L178,302.98 L179,303.47 L180,303.95 L181,304.43 L182,304.91 L183,305.38 L184,305.85 L185,306.31 L186,306.77 L187,307.23 L188,307.68 L189,308.13 L190,308.57 L191,309.01 L192,309.44 L193,309.86 L194,310.28 L195,310.69 L196,311.10 L197,311.50 L198,311.90 L199,312.28 L200,312.66 L201,313.04 L202,313.40 L203,313.76 L204,314.11 L205,314.46 L206,314.79 L207,315.12 L208,315.44 L209,315.75 L210,316.05 L211,316.34 L212,316.62 L213,316.90 L214,317.16 L215,317.42 L216,317.66 L217,317.90 L218,318.12 L219,318.34 L220,318.54 L221,318.74 L222,318.92 L223,319.09 L224,319.25 L225,319.40 L226,319.54 L227,319.66 L228,319.77 L229,319.87 L230,319.96 L231,320.04 L232,320.10 L233,320.15 L234,320.19 L235,320.22 L236,320.23 L237,320.22 L238,320.21 L239,320.18 L240,320.13 L241,320.07 L242,320.00 L243,319.91 L244,319.81 L245,319.69 L246,319.55 L247,319.40 L248,319.24 L249,319.06 L250,318.86 L251,318.65 L252,318.42 L253,318.17 L254,317.91 L255,317.62 L256,317.31 L257,316.99 L258,316.63 L259,316.25 L260,315.85 L261,315.42 L262,314.96 L263,314.46 L264,313.94 L265,313.39 L266,312.80 L267,312.17 L268,311.51 L269,310.81 L270,310.07 L271,309.30 L272,308.48 L273,307.61 L274,306.71 L275,305.75 L276,304.76 L277,303.71 L278,302.61 L279,301.47 L280,300.26 L281,299.00 L282,297.68 L283,296.29 L284,294.83 L285,293.30 L286,291.69 L287,289.99 L288,288.21 L289,286.34 L290,284.37 L291,282.30 L292,280.13 L293,277.86 L294,275.47 L295,272.98 L296,270.36 L297,267.63 L298,264.79 L299,261.84 L300,258.81 L301,255.70 L302,252.51 L303,249.25 L304,245.94 L305,242.58 L306,239.18 L307,235.75 L308,232.30 L309,228.84 L310,225.37 L311,221.89 L312,218.40 L313,214.90 L314,211.38 L315,207.83 L316,204.25 L317,200.64 L318,196.99 L319,193.29 L320,189.55 L321,185.76 L322,181.92 L323,178.05 L324,174.14 L325,170.20 L326,166.24 L327,162.27 L328,158.29 L329,154.30 L330,150.33 L331,146.37 L332,142.43 L333,138.52 L334,134.64 L335,130.82 L336,127.04 L337,123.32 L338,119.67 L339,116.10 L340,112.61 L341,109.20 L342,105.88 L343,102.66 L344,99.54 L345,96.52 L346,93.61 L347,90.81 L348,88.14 L349,85.59 L350,83.16 L351,80.87 L352,78.72 L353,76.72 L354,74.85 L355,73.14 L356,71.58 L357,70.17 L358,68.92 L359,67.82 L360,66.89 L361,66.12 L362,65.52 L363,65.09 L364,64.82 L365,64.74 L366,64.82 L367,65.08 L368,65.51 L369,66.10 L370,66.85 L371,67.75 L372,68.79 L373,69.97 L374,71.29 L375,72.74 L376,74.31 L377,75.99 L378,77.79 L379,79.70 L380,81.71 L381,83.81 L382,86.01 L383,88.28 L384,90.64 L385,93.07 L386,95.57 L387,98.13 L388,100.75 L389,103.41 L390,106.13 L391,108.88 L392,111.67 L393,114.49 L394,117.33 L395,120.19 L396,123.06 L397,125.95 L398,128.84 L399,131.74 L400,134.64 L401,137.56 L402,140.47 L403,143.39 L404,146.30 L405,149.22 L406,152.13 L407,155.04 L408,157.94 L409,160.84 L410,163.74 L411,166.62 L412,169.49 L413,172.35 L414,175.20 L415,178.03 L416,180.85 L417,183.65 L418,186.44 L419,189.20 L420,191.94 L421,194.66 L422,197.35 L423,200.01 L424,202.63 L425,205.22 L426,207.76 L427,210.25 L428,212.70 L429,215.09 L430,217.43 L431,219.70 L432,221.92 L433,224.06 L434,226.14 L435,228.15 L436,230.08 L437,231.94 L438,233.73 L439,235.44 L440,237.09 L441,238.67 L442,240.19 L443,241.66 L444,243.07 L445,244.44 L446,245.75 L447,247.03 L448,248.26 L449,249.46 L450,250.63 L451,251.76 L452,252.87 L453,253.96 L454,255.02 L455,256.08 L456,257.11 L457,258.13 L458,259.13 L459,260.11 L460,261.07 L461,262.02 L462,262.94 L463,263.85 L464,264.73 L465,265.60 L466,266.45 L467,267.27 L468,268.08 L469,268.86 L470,269.62 L471,270.35 L472,271.07 L473,271.76 L474,272.42 L475,273.06 L476,273.68 L477,274.26 L478,274.83 L479,275.36 L480,275.87 L481,276.34 L482,276.79 L483,277.21 L484,277.59 L485,277.93 L486,278.24 L487,278.51 L488,278.74 L489,278.93 L490,279.07 L491,279.17 L492,279.22 L493,279.22 L494,279.17 L495,279.08 L496,278.92 L497,278.72 L498,278.45 L499,278.13 L500,277.75 L501,277.30 L502,276.79 L503,276.22 L504,275.58 L505,274.87 L506,274.11 L507,273.28 L508,272.39 L509,271.45 L510,270.46 L511,269.41 L512,268.32 L513,267.19 L514,266.02 L515,264.81 L516,263.56 L517,262.28 L518,260.97 L519,259.63 L520,258.26 L521,256.88 L522,255.48 L523,254.05 L524,252.62 L525,251.18 L526,249.73 L527,248.28 L528,246.83 L529,245.39 L530,243.95 L531,242.53 L532,241.13 L533,239.74 L534,238.38 L535,237.04 L536,235.74 L537,234.46 L538,233.23 L539,232.04 L540,230.89 L541,229.79 L542,228.74 L543,227.73 L544,226.78 L545,225.88 L546,225.03 L547,224.24 L548,223.51 L549,222.84 L550,222.23 L551,221.69 L552,221.21 L553,220.80 L554,220.46 L555,220.19 L556,219.99 L557,219.86 L558,219.81 L559,219.84 L560,219.94 L561,220.11 L562,220.37 L563,220.70 L564,221.11 L565,221.60 L566,222.17 L567,222.83 L568,223.57 L569,224.38 L570,225.29 L571,226.28 L572,227.35 L573,228.51 L574,229.76 L575,231.10 L576,232.52 L577,234.04 L578,235.65 L579,237.34 L580,239.11 L581,240.96 L582,242.88 L583,244.88 L584,246.95 L585,249.08 L586,251.27 L587,253.52 L588,255.82 L589,258.18 L590,260.58 L591,263.02 L592,265.51 L593,268.03 L594,270.59 L595,273.18 L596,275.79 L597,278.43 L598,281.08 L599,283.76 L600,286.45 L601,289.16 L602,291.87 L603,294.60 L604,297.33 L605,300.06 L606,302.80 L607,305.53 L608,308.26 L609,310.98 L610,313.70 L611,316.41 L612,319.12 L613,321.82 L614,324.53 L615,327.23 L616,329.94 L617,332.64 L618,335.35 L619,338.06 L620,340.77 L621,343.49 L622,346.22 L623,348.95 L624,351.69 L625,354.44 L626,357.20 L627,359.97 L628,362.75 L629,365.54 L630,368.35 L631,371.18 L632,374.02 L633,376.88 L634,379.76 L635,382.65 L636,385.57 L637,388.51 L638,391.47 L639,394.46 L640,397.46 L641,400.49 L642,403.54 L643,406.60 L644,409.68 L645,412.75 L646,415.83 L647,418.90 L648,421.97 L649,425.02 L650,428.05 L651,431.07 L652,434.06 L653,437.02 L654,439.94 L655,442.83 L656,445.68 L657,448.50 L658,451.27 L659,454.01 L660,456.70 L661,459.35 L662,461.96 L663,464.52 L664,467.04 L665,469.52 L666,471.95 L667,474.34 L668,476.68 L669,478.97 L670,481.22 L671,483.42 L672,485.57 L673,487.68 L674,489.74 L675,491.76 L676,493.73 L677,495.67 L678,497.56 L679,499.41 L680,501.23 L681,503.00 L682,504.74 L683,506.44 L684,508.11 L685,509.74 L686,511.34 L687,512.91 L688,514.44 L689,515.95 L690,517.42 L691,518.87 L692,520.29 L693,521.68 L694,523.05 L695,524.39 L696,525.71 L697,527.01 L698,528.28 L699,529.53 L700,530.76 L701,531.98 L702,533.17 L703,534.35 L704,535.50 L705,536.64 L706,537.76 L707,538.86 L708,539.94 L709,541.01 L710,542.06 L711,543.09 L712,544.10 L713,545.10 L714,546.08 L715,547.04 L716,547.98 L717,548.91 L718,549.83 L719,550.72 L720,551.60 L721,552.47 L722,553.32 L723,554.15 L724,554.97 L725,555.78 L726,556.57 L727,557.34 L728,558.10 L729,558.85 L730,559.58 L731,560.30 L732,561.00 L733,561.69 L734,562.37 L735,563.03 L736,563.68 L737,564.32 L738,564.94 L739,565.55 L740,566.15 L741,566.74 L742,567.31 L743,567.87 L744,568.42 L745,568.96 L746,569.49 L747,570.01 L748,570.51 L749,571.00 L750,571.48 L751,571.96 L752,572.42 L753,572.87 L754,573.31 L755,573.74 L756,574.15 L757,574.56 L758,574.96 L759,575.35 L760,575.73 L761,576.11 L762,576.47 L763,576.82 L764,577.17 L765,577.50 L766,577.83 L767,578.15 L768,578.46 L769,578.76 L770,579.06 L771,579.35 L772,579.63 L773,579.90 L774,580.16 L775,580.42 L776,580.67 L777,580.92 L778,581.16 L779,581.39 L780,581.61 L781,581.83 L782,582.05 L783,582.25 L784,582.46 L785,582.65 L786,582.84 L787,583.03 L788,583.21 L789,583.39 L790,583.56 L791,583.72 L792,583.89 L793,584.04 L794,584.20 L795,584.35 L796,584.50 L797,584.64 L798,584.78 L799,584.91 L800,585.05 L801,585.18 L802,585.30 L803,585.43 L804,585.55 L805,585.67 L806,585.79 L807,585.90 L808,586.01 L809,586.13 L810,586.24 L811,586.34 L812,586.45 L813,586.56 L814,586.66 L815,586.77 L816,586.87 L817,586.97 L818,587.08 L819,587.18 L820,587.28 L821,587.39 L822,587.49 L823,587.59 L824,587.70"/>
<path d="M137,284.72 L138,285.18 L139,285.64 L140,286.11 L141,286.57 L142,287.05 L143,287.52 L144,288.01 L145,288.49 L146,288.98 L147,289.46 L148,289.96 L149,290.45 L150,290.95 L151,291.45 L152,291.95 L153,292.45 L154,292.96 L155,293.46 L156,293.97 L157,294.48 L158,294.99 L159,295.50 L160,296.01 L161,296.52 L162,297.03 L163,297.54 L164,298.05 L165,298.56 L166,299.07 L167,299.57 L168,300.08 L169,300.59 L170,301.09 L171,301.60 L172,302.10 L173,302.60 L174,303.10 L175,303.59 L176,304.08 L177,304.57 L178,305.06 L179,305.55 L180,306.03 L181,306.51 L182,306.98 L183,307.45 L184,307.92 L185,308.38 L186,308.84 L187,309.29 L188,309.74 L189,310.19 L190,310.63 L191,311.06 L192,311.49 L193,311.91 L194,312.33 L195,312.74 L196,313.15 L197,313.55 L198,313.94 L199,314.33 L200,314.71 L201,315.08 L202,315.44 L203,315.80 L204,316.15 L205,316.49 L206,316.83 L207,317.15 L208,317.47 L209,317.78 L210,318.08 L211,318.37 L212,318.66 L213,318.93 L214,319.19 L215,319.45 L216,319.69 L217,319.93 L218,320.15 L219,320.37 L220,320.57 L221,320.76 L222,320.94 L223,321.11 L224,321.27 L225,321.42 L226,321.56 L227,321.68 L228,321.80 L229,321.90 L230,321.99 L231,322.06 L232,322.13 L233,322.18 L234,322.21 L235,322.24 L236,322.25 L237,322.24 L238,322.23 L239,322.20 L240,322.15 L241,322.09 L242,322.02 L243,321.93 L244,321.82 L245,321.70 L246,321.57 L247,321.42 L248,321.25 L249,321.07 L250,320.88 L251,320.66 L252,320.43 L253,320.19 L254,319.92 L255,319.63 L256,319.33 L257,319.00 L258,318.64 L259,318.26 L260,317.86 L261,317.43 L262,316.96 L263,316.47 L264,315.95 L265,315.39 L266,314.80 L267,314.18 L268,313.52 L269,312.82 L270,312.08 L271,311.31 L272,310.49 L273,309.63 L274,308.72 L275,307.77 L276,306.77 L277,305.73 L278,304.64 L279,303.49 L280,302.29 L281,301.04 L282,299.72 L283,298.34 L284,296.88 L285,295.36 L286,293.75 L287,292.07 L288,290.30 L289,288.44 L290,286.49 L291,284.44 L292,282.29 L293,280.03 L294,277.67 L295,275.20 L296,272.61 L297,269.91 L298,267.11 L299,264.20 L300,261.21 L301,258.13 L302,254.98 L303,251.77 L304,248.50 L305,245.18 L306,241.82 L307,238.43 L308,235.02 L309,231.60 L310,228.16 L311,224.72 L312,221.26 L313,217.79 L314,214.30 L315,210.78 L316,207.23 L317,203.64 L318,200.02 L319,196.35 L320,192.64 L321,188.87 L322,185.07 L323,181.22 L324,177.34 L325,173.43 L326,169.49 L327,165.55 L328,161.59 L329,157.63 L330,153.68 L331,149.74 L332,145.82 L333,141.93 L334,138.07 L335,134.26 L336,130.50 L337,126.80 L338,123.16 L339,119.60 L340,116.12 L341,112.72 L342,109.42 L343,106.20 L344,103.09 L345,100.08 L346,97.19 L347,94.40 L348,91.74 L349,89.20 L350,86.79 L351,84.51 L352,82.38 L353,80.38 L354,78.54 L355,76.84 L356,75.30 L357,73.91 L358,72.68 L359,71.60 L360,70.68 L361,69.93 L362,69.35 L363,68.93 L364,68.68 L365,68.60 L366,68.69 L367,68.96 L368,69.39 L369,69.98 L370,70.73 L371,71.63 L372,72.66 L373,73.84 L374,75.15 L375,76.59 L376,78.15 L377,79.83 L378,81.62 L379,83.51 L380,85.50 L381,87.59 L382,89.77 L383,92.03 L384,94.37 L385,96.79 L386,99.27 L387,101.81 L388,104.41 L389,107.06 L390,109.76 L391,112.50 L392,115.27 L393,118.07 L394,120.89 L395,123.74 L396,126.60 L397,129.47 L398,132.34 L399,135.23 L400,138.13 L401,141.02 L402,143.93 L403,146.83 L404,149.74 L405,152.64 L406,155.54 L407,158.44 L408,161.34 L409,164.22 L410,167.10 L411,169.97 L412,172.84 L413,175.69 L414,178.52 L415,181.34 L416,184.15 L417,186.94 L418,189.71 L419,192.46 L420,195.19 L421,197.90 L422,200.57 L423,203.22 L424,205.83 L425,208.40 L426,210.92 L427,213.40 L428,215.83 L429,218.21 L430,220.53 L431,222.79 L432,224.99 L433,227.13 L434,229.20 L435,231.20 L436,233.12 L437,234.97 L438,236.75 L439,238.46 L440,240.10 L441,241.68 L442,243.20 L443,244.67 L444,246.08 L445,247.45 L446,248.76 L447,250.04 L448,251.27 L449,252.47 L450,253.64 L451,254.77 L452,255.88 L453,256.97 L454,258.04 L455,259.08 L456,260.12 L457,261.13 L458,262.12 L459,263.10 L460,264.06 L461,265.00 L462,265.92 L463,266.82 L464,267.70 L465,268.56 L466,269.40 L467,270.21 L468,271.01 L469,271.78 L470,272.54 L471,273.26 L472,273.97 L473,274.65 L474,275.31 L475,275.94 L476,276.55 L477,277.13 L478,277.68 L479,278.21 L480,278.71 L481,279.18 L482,279.62 L483,280.02 L484,280.40 L485,280.74 L486,281.04 L487,281.30 L488,281.53 L489,281.71 L490,281.85 L491,281.95 L492,282.00 L493,282.00 L494,281.95 L495,281.85 L496,281.70 L497,281.50 L498,281.24 L499,280.92 L500,280.55 L501,280.11 L502,279.61 L503,279.05 L504,278.42 L505,277.73 L506,276.98 L507,276.16 L508,275.29 L509,274.37 L510,273.40 L511,272.37 L512,271.30 L513,270.19 L514,269.03 L515,267.84 L516,266.61 L517,265.35 L518,264.06 L519,262.73 L520,261.39 L521,260.02 L522,258.63 L523,257.22 L524,255.79 L525,254.36 L526,252.92 L527,251.48 L528,250.03 L529,248.59 L530,247.16 L531,245.74 L532,244.33 L533,242.95 L534,241.58 L535,240.24 L536,238.93 L537,237.65 L538,236.41 L539,235.21 L540,234.05 L541,232.94 L542,231.87 L543,230.86 L544,229.89 L545,228.97 L546,228.11 L547,227.31 L548,226.56 L549,225.87 L550,225.25 L551,224.69 L552,224.19 L553,223.76 L554,223.40 L555,223.12 L556,222.90 L557,222.76 L558,222.69 L559,222.70 L560,222.78 L561,222.94 L562,223.18 L563,223.50 L564,223.89 L565,224.36 L566,224.92 L567,225.55 L568,226.27 L569,227.07 L570,227.95 L571,228.92 L572,229.97 L573,231.11 L574,232.33 L575,233.64 L576,235.04 L577,236.52 L578,238.10 L579,239.75 L580,241.49 L581,243.31 L582,245.20 L583,247.16 L584,249.19 L585,251.28 L586,253.43 L587,255.64 L588,257.91 L589,260.22 L590,262.58 L591,264.99 L592,267.43 L593,269.92 L594,272.43 L595,274.98 L596,277.56 L597,280.15 L598,282.78 L599,285.42 L600,288.07 L601,290.74 L602,293.43 L603,296.12 L604,298.82 L605,301.52 L606,304.23 L607,306.93 L608,309.64 L609,312.34 L610,315.03 L611,317.72 L612,320.41 L613,323.10 L614,325.79 L615,328.47 L616,331.16 L617,333.85 L618,336.54 L619,339.24 L620,341.94 L621,344.65 L622,347.36 L623,350.08 L624,352.81 L625,355.55 L626,358.30 L627,361.06 L628,363.83 L629,366.62 L630,369.42 L631,372.24 L632,375.07 L633,377.92 L634,380.79 L635,383.68 L636,386.59 L637,389.52 L638,392.47 L639,395.45 L640,398.44 L641,401.47 L642,404.50 L643,407.56 L644,410.62 L645,413.68 L646,416.75 L647,419.82 L648,422.87 L649,425.92 L650,428.94 L651,431.95 L652,434.93 L653,437.88 L654,440.80 L655,443.68 L656,446.53 L657,449.34 L658,452.11 L659,454.84 L660,457.52 L661,460.17 L662,462.77 L663,465.33 L664,467.85 L665,470.32 L666,472.75 L667,475.13 L668,477.46 L669,479.75 L670,482.00 L671,484.19 L672,486.34 L673,488.45 L674,490.51 L675,492.53 L676,494.50 L677,496.43 L678,498.33 L679,500.18 L680,501.99 L681,503.77 L682,505.51 L683,507.21 L684,508.88 L685,510.52 L686,512.12 L687,513.69 L688,515.22 L689,516.73 L690,518.21 L691,519.66 L692,521.08 L693,522.48 L694,523.84 L695,525.19 L696,526.51 L697,527.81 L698,529.08 L699,530.34 L700,531.57 L701,532.78 L702,533.98 L703,535.16 L704,536.31 L705,537.45 L706,538.57 L707,539.67 L708,540.75 L709,541.82 L710,542.87 L711,543.90 L712,544.91 L713,545.90 L714,546.88 L715,547.84 L716,548.79 L717,549.71 L718,550.63 L719,551.52 L720,552.40 L721,553.26 L722,554.11 L723,554.94 L724,555.76 L725,556.56 L726,557.34 L727,558.12 L728,558.87 L729,559.62 L730,560.34 L731,561.06 L732,561.76 L733,562.44 L734,563.12 L735,563.77 L736,564.42 L737,565.05 L738,565.67 L739,566.28 L740,566.87 L741,567.46 L742,568.03 L743,568.58 L744,569.13 L745,569.66 L746,570.18 L747,570.69 L748,571.19 L749,571.68 L750,572.16 L751,572.62 L752,573.08 L753,573.52 L754,573.96 L755,574.38 L756,574.79 L757,575.20 L758,575.59 L759,575.98 L760,576.35 L761,576.72 L762,577.07 L763,577.42 L764,577.76 L765,578.09 L766,578.41 L767,578.72 L768,579.03 L769,579.33 L770,579.62 L771,579.90 L772,580.17 L773,580.44 L774,580.70 L775,580.95 L776,581.20 L777,581.44 L778,581.67 L779,581.90 L780,582.12 L781,582.33 L782,582.54 L783,582.74 L784,582.94 L785,583.13 L786,583.31 L787,583.49 L788,583.67 L789,583.84 L790,584.01 L791,584.17 L792,584.33 L793,584.48 L794,584.63 L795,584.78 L796,584.92 L797,585.06 L798,585.19 L799,585.33 L800,585.46 L801,585.58 L802,585.71 L803,585.83 L804,585.95 L805,586.06 L806,586.18 L807,586.29 L808,586.40 L809,586.51 L810,586.62 L811,586.73 L812,586.83 L813,586.94 L814,587.04 L815,587.14 L816,587.25 L817,587.35 L818,587.45 L819,587.56 L820,587.66 L821,587.76 L822,587.87 L823,587.97 L824,588.08"/>
<path d="M137,290.45 L138,290.89 L139,291.33 L140,291.78 L141,292.23 L142,292.69 L143,293.15 L144,293.61 L145,294.07 L146,294.54 L147,295.02 L148,295.49 L149,295.97 L150,296.46 L151,296.94 L152,297.43 L153,297.92 L154,298.41 L155,298.90 L156,299.39 L157,299.89 L158,300.38 L159,300.88 L160,301.38 L161,301.88 L162,302.38 L163,302.88 L164,303.38 L165,303.88 L166,304.38 L167,304.87 L168,305.37 L169,305.87 L170,306.37 L171,306.86 L172,307.35 L173,307.85 L174,308.33 L175,308.82 L176,309.31 L177,309.79 L178,310.27 L179,310.75 L180,311.22 L181,311.70 L182,312.16 L183,312.63 L184,313.09 L185,313.55 L186,314.00 L187,314.45 L188,314.89 L189,315.33 L190,315.77 L191,316.20 L192,316.62 L193,317.04 L194,317.46 L195,317.86 L196,318.27 L197,318.66 L198,319.05 L199,319.43 L200,319.81 L201,320.18 L202,320.54 L203,320.90 L204,321.24 L205,321.58 L206,321.92 L207,322.24 L208,322.56 L209,322.86 L210,323.16 L211,323.45 L212,323.73 L213,324.01 L214,324.27 L215,324.52 L216,324.76 L217,325.00 L218,325.22 L219,325.43 L220,325.64 L221,325.83 L222,326.01 L223,326.18 L224,326.34 L225,326.49 L226,326.62 L227,326.75 L228,326.86 L229,326.96 L230,327.04 L231,327.12 L232,327.18 L233,327.23 L234,327.27 L235,327.29 L236,327.30 L237,327.30 L238,327.28 L239,327.25 L240,327.20 L241,327.14 L242,327.06 L243,326.97 L244,326.87 L245,326.75 L246,326.61 L247,326.46 L248,326.29 L249,326.11 L250,325.91 L251,325.70 L252,325.47 L253,325.22 L254,324.95 L255,324.66 L256,324.35 L257,324.02 L258,323.67 L259,323.28 L260,322.88 L261,322.45 L262,321.98 L263,321.49 L264,320.97 L265,320.41 L266,319.82 L267,319.20 L268,318.54 L269,317.84 L270,317.11 L271,316.33 L272,315.52 L273,314.66 L274,313.76 L275,312.81 L276,311.82 L277,310.78 L278,309.70 L279,308.56 L280,307.37 L281,306.12 L282,304.82 L283,303.45 L284,302.01 L285,300.50 L286,298.92 L287,297.26 L288,295.52 L289,293.69 L290,291.78 L291,289.77 L292,287.67 L293,285.47 L294,283.17 L295,280.76 L296,278.25 L297,275.63 L298,272.91 L299,270.09 L300,267.19 L301,264.22 L302,261.17 L303,258.06 L304,254.90 L305,251.68 L306,248.43 L307,245.14 L308,241.83 L309,238.49 L310,235.15 L311,231.79 L312,228.41 L313,225.02 L314,221.60 L315,218.15 L316,214.67 L317,211.15 L318,207.60 L319,204.00 L320,200.35 L321,196.66 L322,192.92 L323,189.14 L324,185.33 L325,181.49 L326,177.63 L327,173.74 L328,169.85 L329,165.95 L330,162.05 L331,158.16 L332,154.29 L333,150.45 L334,146.64 L335,142.87 L336,139.15 L337,135.48 L338,131.88 L339,128.35 L340,124.90 L341,121.53 L342,118.26 L343,115.07 L344,111.98 L345,109.00 L346,106.13 L347,103.38 L348,100.74 L349,98.23 L350,95.85 L351,93.61 L352,91.51 L353,89.56 L354,87.75 L355,86.10 L356,84.60 L357,83.26 L358,82.07 L359,81.04 L360,80.17 L361,79.46 L362,78.91 L363,78.52 L364,78.30 L365,78.25 L366,78.37 L367,78.65 L368,79.09 L369,79.69 L370,80.43 L371,81.32 L372,82.35 L373,83.52 L374,84.81 L375,86.23 L376,87.76 L377,89.41 L378,91.17 L379,93.03 L380,94.99 L381,97.05 L382,99.18 L383,101.41 L384,103.71 L385,106.08 L386,108.51 L387,111.01 L388,113.57 L389,116.18 L390,118.83 L391,121.53 L392,124.26 L393,127.02 L394,129.80 L395,132.61 L396,135.43 L397,138.27 L398,141.11 L399,143.97 L400,146.83 L401,149.70 L402,152.57 L403,155.45 L404,158.32 L405,161.20 L406,164.07 L407,166.94 L408,169.81 L409,172.67 L410,175.52 L411,178.37 L412,181.20 L413,184.02 L414,186.83 L415,189.62 L416,192.40 L417,195.16 L418,197.90 L419,200.62 L420,203.31 L421,205.99 L422,208.63 L423,211.24 L424,213.81 L425,216.34 L426,218.83 L427,221.28 L428,223.67 L429,226.01 L430,228.29 L431,230.52 L432,232.69 L433,234.79 L434,236.84 L435,238.81 L436,240.71 L437,242.54 L438,244.31 L439,246.00 L440,247.64 L441,249.21 L442,250.73 L443,252.19 L444,253.60 L445,254.97 L446,256.29 L447,257.56 L448,258.80 L449,260.00 L450,261.17 L451,262.31 L452,263.41 L453,264.50 L454,265.56 L455,266.61 L456,267.63 L457,268.64 L458,269.62 L459,270.59 L460,271.53 L461,272.46 L462,273.36 L463,274.25 L464,275.11 L465,275.95 L466,276.77 L467,277.57 L468,278.35 L469,279.10 L470,279.83 L471,280.54 L472,281.23 L473,281.89 L474,282.53 L475,283.14 L476,283.73 L477,284.29 L478,284.82 L479,285.33 L480,285.81 L481,286.26 L482,286.68 L483,287.07 L484,287.43 L485,287.75 L486,288.04 L487,288.29 L488,288.50 L489,288.67 L490,288.81 L491,288.89 L492,288.94 L493,288.94 L494,288.89 L495,288.80 L496,288.65 L497,288.46 L498,288.21 L499,287.90 L500,287.55 L501,287.13 L502,286.66 L503,286.12 L504,285.52 L505,284.87 L506,284.15 L507,283.38 L508,282.55 L509,281.67 L510,280.74 L511,279.77 L512,278.74 L513,277.68 L514,276.57 L515,275.43 L516,274.25 L517,273.03 L518,271.78 L519,270.50 L520,269.19 L521,267.86 L522,266.50 L523,265.12 L524,263.73 L525,262.32 L526,260.90 L527,259.47 L528,258.04 L529,256.61 L530,255.18 L531,253.76 L532,252.36 L533,250.97 L534,249.59 L535,248.24 L536,246.92 L537,245.62 L538,244.36 L539,243.14 L540,241.96 L541,240.81 L542,239.72 L543,238.67 L544,237.66 L545,236.71 L546,235.81 L547,234.97 L548,234.18 L549,233.45 L550,232.78 L551,232.18 L552,231.64 L553,231.17 L554,230.77 L555,230.44 L556,230.18 L557,230.00 L558,229.89 L559,229.86 L560,229.90 L561,230.02 L562,230.22 L563,230.49 L564,230.84 L565,231.27 L566,231.78 L567,232.37 L568,233.04 L569,233.78 L570,234.61 L571,235.52 L572,236.52 L573,237.59 L574,238.75 L575,239.99 L576,241.32 L577,242.73 L578,244.23 L579,245.80 L580,247.46 L581,249.19 L582,250.98 L583,252.85 L584,254.79 L585,256.78 L586,258.84 L587,260.95 L588,263.11 L589,265.33 L590,267.59 L591,269.90 L592,272.24 L593,274.63 L594,277.04 L595,279.49 L596,281.97 L597,284.48 L598,287.01 L599,289.56 L600,292.13 L601,294.71 L602,297.31 L603,299.92 L604,302.55 L605,305.18 L606,307.81 L607,310.45 L608,313.09 L609,315.73 L610,318.36 L611,321.00 L612,323.64 L613,326.28 L614,328.93 L615,331.57 L616,334.22 L617,336.87 L618,339.53 L619,342.19 L620,344.86 L621,347.54 L622,350.22 L623,352.91 L624,355.62 L625,358.33 L626,361.06 L627,363.79 L628,366.55 L629,369.31 L630,372.09 L631,374.89 L632,377.70 L633,380.53 L634,383.38 L635,386.24 L636,389.13 L637,392.04 L638,394.97 L639,397.92 L640,400.90 L641,403.89 L642,406.91 L643,409.93 L644,412.97 L645,416.02 L646,419.06 L647,422.10 L648,425.13 L649,428.16 L650,431.16 L651,434.15 L652,437.11 L653,440.05 L654,442.95 L655,445.82 L656,448.65 L657,451.44 L658,454.20 L659,456.91 L660,459.59 L661,462.22 L662,464.81 L663,467.35 L664,469.85 L665,472.31 L666,474.73 L667,477.10 L668,479.43 L669,481.71 L670,483.94 L671,486.13 L672,488.27 L673,490.37 L674,492.43 L675,494.45 L676,496.42 L677,498.35 L678,500.24 L679,502.10 L680,503.91 L681,505.69 L682,507.44 L683,509.14 L684,510.81 L685,512.45 L686,514.06 L687,515.63 L688,517.18 L689,518.69 L690,520.17 L691,521.63 L692,523.06 L693,524.46 L694,525.83 L695,527.18 L696,528.51 L697,529.81 L698,531.09 L699,532.35 L700,533.59 L701,534.80 L702,536.00 L703,537.18 L704,538.34 L705,539.48 L706,540.60 L707,541.70 L708,542.78 L709,543.85 L710,544.89 L711,545.92 L712,546.93 L713,547.92 L714,548.90 L715,549.86 L716,550.80 L717,551.72 L718,552.63 L719,553.52 L720,554.39 L721,555.25 L722,556.09 L723,556.91 L724,557.72 L725,558.52 L726,559.29 L727,560.06 L728,560.81 L729,561.54 L730,562.26 L731,562.96 L732,563.65 L733,564.33 L734,564.99 L735,565.64 L736,566.27 L737,566.90 L738,567.50 L739,568.10 L740,568.68 L741,569.25 L742,569.81 L743,570.35 L744,570.89 L745,571.41 L746,571.92 L747,572.41 L748,572.90 L749,573.37 L750,573.84 L751,574.29 L752,574.73 L753,575.16 L754,575.58 L755,575.99 L756,576.39 L757,576.78 L758,577.16 L759,577.53 L760,577.89 L761,578.24 L762,578.58 L763,578.91 L764,579.24 L765,579.55 L766,579.86 L767,580.16 L768,580.45 L769,580.73 L770,581.01 L771,581.28 L772,581.54 L773,581.79 L774,582.03 L775,582.27 L776,582.50 L777,582.73 L778,582.95 L779,583.16 L780,583.37 L781,583.57 L782,583.76 L783,583.95 L784,584.14 L785,584.32 L786,584.49 L787,584.66 L788,584.82 L789,584.98 L790,585.14 L791,585.29 L792,585.43 L793,585.58 L794,585.72 L795,585.85 L796,585.98 L797,586.11 L798,586.24 L799,586.36 L800,586.48 L801,586.60 L802,586.72 L803,586.83 L804,586.94 L805,587.05 L806,587.16 L807,587.27 L808,587.37 L809,587.48 L810,587.58 L811,587.68 L812,587.78 L813,587.89 L814,587.99 L815,588.09 L816,588.19 L817,588.29 L818,588.39 L819,588.49 L820,588.60 L821,588.70 L822,588.80 L823,588.91 L824,589.02"/>
<path d="M137,292.46 L138,292.89 L139,293.33 L140,293.77 L141,294.21 L142,294.66 L143,295.11 L144,295.57 L145,296.03 L146,296.49 L147,296.96 L148,297.43 L149,297.91 L150,298.38 L151,298.86 L152,299.34 L153,299.83 L154,300.31 L155,300.80 L156,301.29 L157,301.78 L158,302.27 L159,302.77 L160,303.26 L161,303.76 L162,304.25 L163,304.75 L164,305.24 L165,305.74 L166,306.23 L167,306.73 L168,307.22 L169,307.72 L170,308.21 L171,308.70 L172,309.19 L173,309.68 L174,310.17 L175,310.65 L176,311.14 L177,311.62 L178,312.10 L179,312.57 L180,313.04 L181,313.51 L182,313.98 L183,314.44 L184,314.90 L185,315.36 L186,315.81 L187,316.25 L188,316.70 L189,317.14 L190,317.57 L191,318.00 L192,318.42 L193,318.84 L194,319.25 L195,319.66 L196,320.06 L197,320.45 L198,320.84 L199,321.22 L200,321.60 L201,321.97 L202,322.33 L203,322.68 L204,323.03 L205,323.37 L206,323.70 L207,324.02 L208,324.34 L209,324.64 L210,324.94 L211,325.23 L212,325.51 L213,325.78 L214,326.04 L215,326.30 L216,326.54 L217,326.77 L218,327.00 L219,327.21 L220,327.41 L221,327.60 L222,327.78 L223,327.95 L224,328.11 L225,328.26 L226,328.39 L227,328.52 L228,328.63 L229,328.73 L230,328.81 L231,328.89 L232,328.95 L233,329.00 L234,329.04 L235,329.06 L236,329.07 L237,329.06 L238,329.05 L239,329.01 L240,328.97 L241,328.91 L242,328.83 L243,328.74 L244,328.63 L245,328.51 L246,328.38 L247,328.23 L248,328.06 L249,327.87 L250,327.68 L251,327.46 L252,327.23 L253,326.98 L254,326.71 L255,326.42 L256,326.11 L257,325.78 L258,325.42 L259,325.04 L260,324.64 L261,324.20 L262,323.74 L263,323.25 L264,322.72 L265,322.17 L266,321.58 L267,320.96 L268,320.30 L269,319.60 L270,318.87 L271,318.09 L272,317.28 L273,316.42 L274,315.52 L275,314.58 L276,313.59 L277,312.55 L278,311.47 L279,310.33 L280,309.15 L281,307.90 L282,306.60 L283,305.24 L284,303.80 L285,302.30 L286,300.73 L287,299.08 L288,297.34 L289,295.53 L290,293.63 L291,291.64 L292,289.55 L293,287.37 L294,285.09 L295,282.71 L296,280.22 L297,277.63 L298,274.93 L299,272.15 L300,269.29 L301,266.35 L302,263.34 L303,260.26 L304,257.14 L305,253.96 L306,250.74 L307,247.49 L308,244.21 L309,240.91 L310,237.59 L311,234.26 L312,230.91 L313,227.55 L314,224.15 L315,220.73 L316,217.27 L317,213.78 L318,210.25 L319,206.68 L320,203.05 L321,199.39 L322,195.67 L323,191.92 L324,188.13 L325,184.31 L326,180.47 L327,176.61 L328,172.74 L329,168.86 L330,164.98 L331,161.11 L332,157.26 L333,153.43 L334,149.64 L335,145.88 L336,142.17 L337,138.52 L338,134.93 L339,131.42 L340,127.98 L341,124.62 L342,121.35 L343,118.17 L344,115.10 L345,112.12 L346,109.26 L347,106.52 L348,103.89 L349,101.39 L350,99.02 L351,96.79 L352,94.71 L353,92.77 L354,90.98 L355,89.34 L356,87.86 L357,86.53 L358,85.36 L359,84.34 L360,83.49 L361,82.79 L362,82.26 L363,81.88 L364,81.67 L365,81.63 L366,81.75 L367,82.04 L368,82.48 L369,83.08 L370,83.83 L371,84.72 L372,85.74 L373,86.90 L374,88.19 L375,89.60 L376,91.13 L377,92.77 L378,94.52 L379,96.37 L380,98.31 L381,100.35 L382,102.48 L383,104.69 L384,106.97 L385,109.33 L386,111.75 L387,114.24 L388,116.78 L389,119.37 L390,122.01 L391,124.69 L392,127.40 L393,130.15 L394,132.92 L395,135.71 L396,138.52 L397,141.34 L398,144.18 L399,147.02 L400,149.88 L401,152.73 L402,155.60 L403,158.46 L404,161.33 L405,164.19 L406,167.06 L407,169.92 L408,172.78 L409,175.63 L410,178.47 L411,181.31 L412,184.13 L413,186.94 L414,189.74 L415,192.52 L416,195.29 L417,198.04 L418,200.77 L419,203.47 L420,206.16 L421,208.82 L422,211.45 L423,214.04 L424,216.60 L425,219.12 L426,221.60 L427,224.03 L428,226.41 L429,228.74 L430,231.01 L431,233.23 L432,235.38 L433,237.48 L434,239.51 L435,241.47 L436,243.37 L437,245.19 L438,246.95 L439,248.64 L440,250.28 L441,251.85 L442,253.36 L443,254.83 L444,256.24 L445,257.60 L446,258.92 L447,260.20 L448,261.44 L449,262.64 L450,263.80 L451,264.94 L452,266.05 L453,267.14 L454,268.20 L455,269.24 L456,270.26 L457,271.26 L458,272.25 L459,273.21 L460,274.15 L461,275.07 L462,275.97 L463,276.85 L464,277.70 L465,278.54 L466,279.35 L467,280.14 L468,280.91 L469,281.66 L470,282.39 L471,283.09 L472,283.77 L473,284.42 L474,285.05 L475,285.66 L476,286.24 L477,286.79 L478,287.32 L479,287.82 L480,288.29 L481,288.74 L482,289.15 L483,289.54 L484,289.89 L485,290.21 L486,290.49 L487,290.73 L488,290.94 L489,291.11 L490,291.24 L491,291.33 L492,291.37 L493,291.37 L494,291.32 L495,291.23 L496,291.08 L497,290.89 L498,290.65 L499,290.35 L500,290.00 L501,289.59 L502,289.12 L503,288.60 L504,288.01 L505,287.36 L506,286.66 L507,285.90 L508,285.09 L509,284.23 L510,283.32 L511,282.36 L512,281.35 L513,280.30 L514,279.21 L515,278.08 L516,276.92 L517,275.72 L518,274.48 L519,273.22 L520,271.92 L521,270.60 L522,269.26 L523,267.89 L524,266.50 L525,265.10 L526,263.69 L527,262.26 L528,260.84 L529,259.41 L530,257.99 L531,256.57 L532,255.16 L533,253.77 L534,252.40 L535,251.04 L536,249.71 L537,248.41 L538,247.15 L539,245.91 L540,244.72 L541,243.57 L542,242.46 L543,241.40 L544,240.38 L545,239.42 L546,238.51 L547,237.65 L548,236.85 L549,236.10 L550,235.42 L551,234.80 L552,234.25 L553,233.76 L554,233.34 L555,233.00 L556,232.73 L557,232.53 L558,232.41 L559,232.36 L560,232.39 L561,232.50 L562,232.68 L563,232.94 L564,233.27 L565,233.69 L566,234.18 L567,234.75 L568,235.40 L569,236.13 L570,236.94 L571,237.84 L572,238.81 L573,239.86 L574,241.00 L575,242.22 L576,243.52 L577,244.91 L578,246.37 L579,247.92 L580,249.54 L581,251.24 L582,253.01 L583,254.85 L584,256.75 L585,258.71 L586,260.73 L587,262.81 L588,264.94 L589,267.12 L590,269.34 L591,271.61 L592,273.92 L593,276.27 L594,278.66 L595,281.07 L596,283.52 L597,285.99 L598,288.49 L599,291.01 L600,293.54 L601,296.10 L602,298.67 L603,301.26 L604,303.85 L605,306.45 L606,309.06 L607,311.68 L608,314.30 L609,316.91 L610,319.53 L611,322.15 L612,324.77 L613,327.40 L614,330.03 L615,332.66 L616,335.29 L617,337.93 L618,340.57 L619,343.22 L620,345.88 L621,348.55 L622,351.22 L623,353.91 L624,356.60 L625,359.31 L626,362.02 L627,364.75 L628,367.49 L629,370.25 L630,373.02 L631,375.81 L632,378.62 L633,381.44 L634,384.28 L635,387.14 L636,390.02 L637,392.92 L638,395.84 L639,398.79 L640,401.75 L641,404.74 L642,407.75 L643,410.77 L644,413.80 L645,416.83 L646,419.87 L647,422.90 L648,425.93 L649,428.94 L650,431.94 L651,434.92 L652,437.88 L653,440.80 L654,443.70 L655,446.56 L656,449.39 L657,452.18 L658,454.93 L659,457.64 L660,460.31 L661,462.93 L662,465.52 L663,468.06 L664,470.56 L665,473.01 L666,475.42 L667,477.79 L668,480.11 L669,482.39 L670,484.62 L671,486.81 L672,488.95 L673,491.05 L674,493.10 L675,495.12 L676,497.09 L677,499.02 L678,500.92 L679,502.77 L680,504.59 L681,506.37 L682,508.11 L683,509.82 L684,511.49 L685,513.13 L686,514.74 L687,516.32 L688,517.86 L689,519.38 L690,520.86 L691,522.32 L692,523.75 L693,525.15 L694,526.53 L695,527.88 L696,529.21 L697,530.51 L698,531.79 L699,533.05 L700,534.29 L701,535.51 L702,536.71 L703,537.89 L704,539.05 L705,540.19 L706,541.31 L707,542.41 L708,543.49 L709,544.56 L710,545.60 L711,546.63 L712,547.64 L713,548.63 L714,549.60 L715,550.56 L716,551.50 L717,552.42 L718,553.33 L719,554.21 L720,555.09 L721,555.94 L722,556.78 L723,557.60 L724,558.41 L725,559.20 L726,559.98 L727,560.74 L728,561.48 L729,562.21 L730,562.93 L731,563.63 L732,564.32 L733,564.99 L734,565.65 L735,566.29 L736,566.92 L737,567.54 L738,568.15 L739,568.74 L740,569.32 L741,569.88 L742,570.43 L743,570.97 L744,571.50 L745,572.02 L746,572.52 L747,573.02 L748,573.50 L749,573.97 L750,574.42 L751,574.87 L752,575.31 L753,575.73 L754,576.15 L755,576.55 L756,576.95 L757,577.33 L758,577.71 L759,578.07 L760,578.43 L761,578.77 L762,579.11 L763,579.44 L764,579.76 L765,580.07 L766,580.37 L767,580.66 L768,580.95 L769,581.23 L770,581.50 L771,581.76 L772,582.01 L773,582.26 L774,582.50 L775,582.74 L776,582.96 L777,583.18 L778,583.40 L779,583.60 L780,583.81 L781,584.00 L782,584.19 L783,584.38 L784,584.56 L785,584.73 L786,584.90 L787,585.07 L788,585.22 L789,585.38 L790,585.53 L791,585.68 L792,585.82 L793,585.96 L794,586.10 L795,586.23 L796,586.36 L797,586.48 L798,586.61 L799,586.73 L800,586.84 L801,586.96 L802,587.07 L803,587.18 L804,587.29 L805,587.40 L806,587.51 L807,587.61 L808,587.71 L809,587.82 L810,587.92 L811,588.02 L812,588.12 L813,588.22 L814,588.32 L815,588.42 L816,588.52 L817,588.62 L818,588.72 L819,588.82 L820,588.92 L821,589.03 L822,589.13 L823,589.24 L824,589.35"/>
<path d="M137,294.75 L138,295.18 L139,295.60 L140,296.04 L141,296.47 L142,296.91 L143,297.36 L144,297.81 L145,298.26 L146,298.72 L147,299.18 L148,299.65 L149,300.12 L150,300.59 L151,301.06 L152,301.54 L153,302.01 L154,302.49 L155,302.98 L156,303.46 L157,303.95 L158,304.43 L159,304.92 L160,305.41 L161,305.90 L162,306.39 L163,306.88 L164,307.38 L165,307.87 L166,308.36 L167,308.85 L168,309.34 L169,309.83 L170,310.32 L171,310.81 L172,311.30 L173,311.78 L174,312.26 L175,312.75 L176,313.23 L177,313.70 L178,314.18 L179,314.65 L180,315.12 L181,315.59 L182,316.05 L183,316.51 L184,316.97 L185,317.42 L186,317.87 L187,318.32 L188,318.76 L189,319.19 L190,319.63 L191,320.05 L192,320.47 L193,320.89 L194,321.30 L195,321.71 L196,322.10 L197,322.50 L198,322.88 L199,323.27 L200,323.64 L201,324.01 L202,324.37 L203,324.72 L204,325.07 L205,325.40 L206,325.73 L207,326.06 L208,326.37 L209,326.68 L210,326.97 L211,327.26 L212,327.54 L213,327.81 L214,328.07 L215,328.33 L216,328.57 L217,328.80 L218,329.02 L219,329.24 L220,329.44 L221,329.63 L222,329.81 L223,329.98 L224,330.14 L225,330.28 L226,330.42 L227,330.54 L228,330.65 L229,330.75 L230,330.84 L231,330.91 L232,330.97 L233,331.02 L234,331.06 L235,331.08 L236,331.09 L237,331.08 L238,331.07 L239,331.03 L240,330.99 L241,330.92 L242,330.85 L243,330.76 L244,330.65 L245,330.53 L246,330.39 L247,330.24 L248,330.07 L249,329.89 L250,329.69 L251,329.47 L252,329.24 L253,328.99 L254,328.72 L255,328.43 L256,328.12 L257,327.79 L258,327.43 L259,327.05 L260,326.64 L261,326.21 L262,325.75 L263,325.26 L264,324.73 L265,324.18 L266,323.59 L267,322.97 L268,322.31 L269,321.61 L270,320.88 L271,320.10 L272,319.29 L273,318.44 L274,317.54 L275,316.60 L276,315.61 L277,314.57 L278,313.49 L279,312.36 L280,311.18 L281,309.94 L282,308.64 L283,307.28 L284,305.85 L285,304.36 L286,302.79 L287,301.15 L288,299.43 L289,297.63 L290,295.74 L291,293.77 L292,291.70 L293,289.54 L294,287.29 L295,284.93 L296,282.47 L297,279.91 L298,277.25 L299,274.51 L300,271.68 L301,268.78 L302,265.81 L303,262.78 L304,259.69 L305,256.56 L306,253.38 L307,250.17 L308,246.93 L309,243.66 L310,240.39 L311,237.09 L312,233.77 L313,230.44 L314,227.07 L315,223.68 L316,220.25 L317,216.78 L318,213.28 L319,209.73 L320,206.14 L321,202.50 L322,198.81 L323,195.09 L324,191.33 L325,187.54 L326,183.73 L327,179.89 L328,176.04 L329,172.18 L330,168.33 L331,164.48 L332,160.65 L333,156.84 L334,153.06 L335,149.32 L336,145.63 L337,142.00 L338,138.42 L339,134.92 L340,131.49 L341,128.14 L342,124.89 L343,121.72 L344,118.65 L345,115.69 L346,112.84 L347,110.10 L348,107.49 L349,105.00 L350,102.65 L351,100.43 L352,98.36 L353,96.44 L354,94.67 L355,93.05 L356,91.58 L357,90.27 L358,89.12 L359,88.12 L360,87.28 L361,86.60 L362,86.08 L363,85.72 L364,85.53 L365,85.49 L366,85.62 L367,85.92 L368,86.36 L369,86.96 L370,87.71 L371,88.60 L372,89.62 L373,90.77 L374,92.05 L375,93.46 L376,94.97 L377,96.60 L378,98.34 L379,100.18 L380,102.11 L381,104.13 L382,106.24 L383,108.44 L384,110.70 L385,113.04 L386,115.45 L387,117.92 L388,120.44 L389,123.02 L390,125.64 L391,128.30 L392,131.00 L393,133.73 L394,136.48 L395,139.26 L396,142.06 L397,144.86 L398,147.69 L399,150.52 L400,153.36 L401,156.20 L402,159.05 L403,161.91 L404,164.76 L405,167.62 L406,170.47 L407,173.32 L408,176.17 L409,179.01 L410,181.84 L411,184.66 L412,187.48 L413,190.28 L414,193.06 L415,195.83 L416,198.59 L417,201.32 L418,204.04 L419,206.74 L420,209.41 L421,212.05 L422,214.67 L423,217.25 L424,219.80 L425,222.30 L426,224.76 L427,227.18 L428,229.54 L429,231.86 L430,234.12 L431,236.32 L432,238.46 L433,240.54 L434,242.56 L435,244.52 L436,246.40 L437,248.22 L438,249.97 L439,251.66 L440,253.29 L441,254.86 L442,256.37 L443,257.83 L444,259.25 L445,260.61 L446,261.93 L447,263.21 L448,264.45 L449,265.65 L450,266.82 L451,267.95 L452,269.06 L453,270.15 L454,271.21 L455,272.25 L456,273.27 L457,274.27 L458,275.24 L459,276.20 L460,277.14 L461,278.05 L462,278.94 L463,279.82 L464,280.67 L465,281.49 L466,282.30 L467,283.09 L468,283.85 L469,284.59 L470,285.31 L471,286.00 L472,286.67 L473,287.32 L474,287.94 L475,288.54 L476,289.11 L477,289.66 L478,290.18 L479,290.67 L480,291.14 L481,291.57 L482,291.98 L483,292.36 L484,292.70 L485,293.01 L486,293.29 L487,293.53 L488,293.73 L489,293.90 L490,294.02 L491,294.11 L492,294.15 L493,294.14 L494,294.10 L495,294.00 L496,293.86 L497,293.67 L498,293.43 L499,293.14 L500,292.80 L501,292.40 L502,291.94 L503,291.42 L504,290.85 L505,290.22 L506,289.53 L507,288.79 L508,287.99 L509,287.15 L510,286.25 L511,285.31 L512,284.33 L513,283.30 L514,282.23 L515,281.12 L516,279.97 L517,278.79 L518,277.57 L519,276.32 L520,275.05 L521,273.74 L522,272.41 L523,271.05 L524,269.68 L525,268.28 L526,266.88 L527,265.46 L528,264.04 L529,262.62 L530,261.20 L531,259.78 L532,258.37 L533,256.98 L534,255.60 L535,254.24 L536,252.91 L537,251.60 L538,250.33 L539,249.09 L540,247.88 L541,246.72 L542,245.60 L543,244.52 L544,243.49 L545,242.51 L546,241.59 L547,240.71 L548,239.89 L549,239.13 L550,238.43 L551,237.80 L552,237.23 L553,236.72 L554,236.29 L555,235.93 L556,235.64 L557,235.43 L558,235.29 L559,235.23 L560,235.24 L561,235.33 L562,235.49 L563,235.74 L564,236.05 L565,236.45 L566,236.93 L567,237.48 L568,238.11 L569,238.82 L570,239.61 L571,240.48 L572,241.43 L573,242.46 L574,243.57 L575,244.76 L576,246.03 L577,247.39 L578,248.83 L579,250.34 L580,251.93 L581,253.59 L582,255.32 L583,257.12 L584,258.99 L585,260.91 L586,262.89 L587,264.93 L588,267.02 L589,269.16 L590,271.35 L591,273.58 L592,275.85 L593,278.16 L594,280.50 L595,282.88 L596,285.29 L597,287.72 L598,290.18 L599,292.66 L600,295.16 L601,297.69 L602,300.22 L603,302.78 L604,305.34 L605,307.92 L606,310.50 L607,313.09 L608,315.68 L609,318.27 L610,320.87 L611,323.46 L612,326.07 L613,328.67 L614,331.28 L615,333.90 L616,336.51 L617,339.14 L618,341.77 L619,344.41 L620,347.05 L621,349.70 L622,352.37 L623,355.04 L624,357.72 L625,360.42 L626,363.13 L627,365.85 L628,368.58 L629,371.33 L630,374.09 L631,376.87 L632,379.67 L633,382.48 L634,385.31 L635,388.17 L636,391.04 L637,393.93 L638,396.84 L639,399.78 L640,402.73 L641,405.71 L642,408.71 L643,411.72 L644,414.74 L645,417.76 L646,420.79 L647,423.81 L648,426.83 L649,429.84 L650,432.83 L651,435.80 L652,438.75 L653,441.67 L654,444.56 L655,447.41 L656,450.24 L657,453.02 L658,455.76 L659,458.47 L660,461.13 L661,463.75 L662,466.33 L663,468.87 L664,471.36 L665,473.81 L666,476.22 L667,478.58 L668,480.90 L669,483.17 L670,485.40 L671,487.58 L672,489.72 L673,491.82 L674,493.87 L675,495.89 L676,497.86 L677,499.79 L678,501.68 L679,503.54 L680,505.35 L681,507.14 L682,508.88 L683,510.59 L684,512.26 L685,513.91 L686,515.52 L687,517.09 L688,518.64 L689,520.16 L690,521.65 L691,523.11 L692,524.54 L693,525.94 L694,527.32 L695,528.67 L696,530.00 L697,531.31 L698,532.59 L699,533.86 L700,535.10 L701,536.32 L702,537.52 L703,538.70 L704,539.86 L705,541.00 L706,542.12 L707,543.22 L708,544.30 L709,545.37 L710,546.41 L711,547.44 L712,548.45 L713,549.44 L714,550.41 L715,551.37 L716,552.30 L717,553.22 L718,554.13 L719,555.01 L720,555.88 L721,556.73 L722,557.57 L723,558.39 L724,559.19 L725,559.98 L726,560.76 L727,561.51 L728,562.25 L729,562.98 L730,563.69 L731,564.39 L732,565.07 L733,565.74 L734,566.40 L735,567.04 L736,567.67 L737,568.28 L738,568.88 L739,569.47 L740,570.04 L741,570.60 L742,571.15 L743,571.68 L744,572.21 L745,572.72 L746,573.22 L747,573.70 L748,574.18 L749,574.64 L750,575.10 L751,575.54 L752,575.97 L753,576.39 L754,576.80 L755,577.20 L756,577.59 L757,577.96 L758,578.33 L759,578.69 L760,579.04 L761,579.38 L762,579.71 L763,580.03 L764,580.35 L765,580.65 L766,580.95 L767,581.24 L768,581.52 L769,581.79 L770,582.05 L771,582.31 L772,582.56 L773,582.80 L774,583.04 L775,583.26 L776,583.49 L777,583.70 L778,583.91 L779,584.11 L780,584.31 L781,584.50 L782,584.68 L783,584.86 L784,585.04 L785,585.21 L786,585.37 L787,585.53 L788,585.69 L789,585.84 L790,585.98 L791,586.12 L792,586.26 L793,586.40 L794,586.53 L795,586.66 L796,586.78 L797,586.90 L798,587.02 L799,587.14 L800,587.25 L801,587.37 L802,587.48 L803,587.58 L804,587.69 L805,587.80 L806,587.90 L807,588.00 L808,588.10 L809,588.20 L810,588.30 L811,588.40 L812,588.50 L813,588.60 L814,588.70 L815,588.80 L816,588.89 L817,588.99 L818,589.10 L819,589.20 L820,589.30 L821,589.40 L822,589.51 L823,589.62 L824,589.72"/>
<path d="M137,296.76 L138,297.17 L139,297.60 L140,298.02 L141,298.45 L142,298.89 L143,299.33 L144,299.77 L145,300.22 L146,300.67 L147,301.13 L148,301.59 L149,302.05 L150,302.51 L151,302.98 L152,303.45 L153,303.93 L154,304.40 L155,304.88 L156,305.36 L157,305.84 L158,306.32 L159,306.81 L160,307.29 L161,307.78 L162,308.27 L163,308.75 L164,309.24 L165,309.73 L166,310.22 L167,310.71 L168,311.19 L169,311.68 L170,312.17 L171,312.65 L172,313.13 L173,313.62 L174,314.10 L175,314.58 L176,315.05 L177,315.53 L178,316.00 L179,316.47 L180,316.94 L181,317.41 L182,317.87 L183,318.33 L184,318.78 L185,319.23 L186,319.68 L187,320.12 L188,320.56 L189,321.00 L190,321.42 L191,321.85 L192,322.27 L193,322.68 L194,323.09 L195,323.50 L196,323.90 L197,324.29 L198,324.67 L199,325.05 L200,325.43 L201,325.79 L202,326.15 L203,326.50 L204,326.85 L205,327.19 L206,327.52 L207,327.84 L208,328.15 L209,328.46 L210,328.75 L211,329.04 L212,329.32 L213,329.59 L214,329.85 L215,330.10 L216,330.34 L217,330.58 L218,330.80 L219,331.01 L220,331.21 L221,331.40 L222,331.58 L223,331.75 L224,331.91 L225,332.05 L226,332.19 L227,332.31 L228,332.42 L229,332.52 L230,332.61 L231,332.68 L232,332.74 L233,332.79 L234,332.83 L235,332.85 L236,332.86 L237,332.85 L238,332.83 L239,332.80 L240,332.75 L241,332.69 L242,332.61 L243,332.52 L244,332.42 L245,332.30 L246,332.16 L247,332.01 L248,331.84 L249,331.65 L250,331.45 L251,331.24 L252,331.00 L253,330.75 L254,330.48 L255,330.19 L256,329.88 L257,329.55 L258,329.19 L259,328.81 L260,328.40 L261,327.97 L262,327.50 L263,327.01 L264,326.49 L265,325.93 L266,325.35 L267,324.72 L268,324.06 L269,323.37 L270,322.64 L271,321.86 L272,321.05 L273,320.20 L274,319.30 L275,318.36 L276,317.37 L277,316.34 L278,315.26 L279,314.13 L280,312.95 L281,311.72 L282,310.42 L283,309.07 L284,307.65 L285,306.16 L286,304.60 L287,302.97 L288,301.26 L289,299.47 L290,297.60 L291,295.64 L292,293.59 L293,291.45 L294,289.21 L295,286.88 L296,284.44 L297,281.91 L298,279.28 L299,276.57 L300,273.78 L301,270.91 L302,267.98 L303,264.98 L304,261.93 L305,258.83 L306,255.69 L307,252.52 L308,249.31 L309,246.08 L310,242.83 L311,239.56 L312,236.28 L313,232.97 L314,229.63 L315,226.26 L316,222.85 L317,219.41 L318,215.93 L319,212.41 L320,208.84 L321,205.22 L322,201.56 L323,197.86 L324,194.13 L325,190.36 L326,186.57 L327,182.76 L328,178.93 L329,175.10 L330,171.26 L331,167.43 L332,163.61 L333,159.82 L334,156.06 L335,152.34 L336,148.66 L337,145.04 L338,141.47 L339,137.98 L340,134.56 L341,131.23 L342,127.98 L343,124.82 L344,121.77 L345,118.81 L346,115.97 L347,113.24 L348,110.64 L349,108.16 L350,105.82 L351,103.62 L352,101.56 L353,99.65 L354,97.89 L355,96.29 L356,94.84 L357,93.55 L358,92.41 L359,91.43 L360,90.60 L361,89.94 L362,89.43 L363,89.08 L364,88.90 L365,88.87 L366,89.01 L367,89.31 L368,89.76 L369,90.36 L370,91.11 L371,91.99 L372,93.01 L373,94.16 L374,95.43 L375,96.83 L376,98.34 L377,99.96 L378,101.68 L379,103.51 L380,105.43 L381,107.44 L382,109.54 L383,111.72 L384,113.97 L385,116.30 L386,118.69 L387,121.14 L388,123.65 L389,126.21 L390,128.81 L391,131.46 L392,134.14 L393,136.86 L394,139.60 L395,142.37 L396,145.15 L397,147.94 L398,150.75 L399,153.57 L400,156.40 L401,159.24 L402,162.08 L403,164.92 L404,167.77 L405,170.61 L406,173.46 L407,176.30 L408,179.13 L409,181.96 L410,184.79 L411,187.60 L412,190.40 L413,193.19 L414,195.97 L415,198.73 L416,201.48 L417,204.20 L418,206.91 L419,209.59 L420,212.25 L421,214.88 L422,217.49 L423,220.06 L424,222.59 L425,225.08 L426,227.53 L427,229.93 L428,232.29 L429,234.59 L430,236.83 L431,239.02 L432,241.16 L433,243.23 L434,245.24 L435,247.18 L436,249.06 L437,250.87 L438,252.62 L439,254.30 L440,255.93 L441,257.49 L442,259.01 L443,260.47 L444,261.88 L445,263.24 L446,264.56 L447,265.84 L448,267.08 L449,268.28 L450,269.45 L451,270.59 L452,271.70 L453,272.78 L454,273.84 L455,274.88 L456,275.90 L457,276.89 L458,277.87 L459,278.82 L460,279.75 L461,280.66 L462,281.55 L463,282.42 L464,283.26 L465,284.08 L466,284.88 L467,285.66 L468,286.42 L469,287.15 L470,287.86 L471,288.55 L472,289.21 L473,289.85 L474,290.47 L475,291.06 L476,291.62 L477,292.16 L478,292.68 L479,293.16 L480,293.62 L481,294.05 L482,294.45 L483,294.82 L484,295.16 L485,295.47 L486,295.74 L487,295.97 L488,296.17 L489,296.33 L490,296.46 L491,296.54 L492,296.58 L493,296.57 L494,296.53 L495,296.43 L496,296.30 L497,296.11 L498,295.87 L499,295.58 L500,295.25 L501,294.85 L502,294.40 L503,293.90 L504,293.34 L505,292.72 L506,292.04 L507,291.31 L508,290.53 L509,289.70 L510,288.83 L511,287.90 L512,286.93 L513,285.92 L514,284.87 L515,283.77 L516,282.64 L517,281.48 L518,280.27 L519,279.04 L520,277.78 L521,276.48 L522,275.16 L523,273.82 L524,272.45 L525,271.07 L526,269.67 L527,268.26 L528,266.84 L529,265.42 L530,264.00 L531,262.59 L532,261.18 L533,259.79 L534,258.41 L535,257.04 L536,255.71 L537,254.39 L538,253.11 L539,251.86 L540,250.65 L541,249.48 L542,248.35 L543,247.26 L544,246.22 L545,245.22 L546,244.28 L547,243.39 L548,242.56 L549,241.78 L550,241.07 L551,240.42 L552,239.83 L553,239.31 L554,238.87 L555,238.49 L556,238.19 L557,237.96 L558,237.81 L559,237.73 L560,237.73 L561,237.81 L562,237.96 L563,238.18 L564,238.49 L565,238.87 L566,239.33 L567,239.86 L568,240.48 L569,241.17 L570,241.94 L571,242.79 L572,243.72 L573,244.73 L574,245.82 L575,246.98 L576,248.23 L577,249.56 L578,250.97 L579,252.46 L580,254.02 L581,255.65 L582,257.35 L583,259.12 L584,260.95 L585,262.84 L586,264.78 L587,266.79 L588,268.84 L589,270.95 L590,273.10 L591,275.29 L592,277.53 L593,279.80 L594,282.11 L595,284.46 L596,286.83 L597,289.23 L598,291.66 L599,294.11 L600,296.58 L601,299.07 L602,301.58 L603,304.11 L604,306.65 L605,309.19 L606,311.75 L607,314.32 L608,316.88 L609,319.46 L610,322.03 L611,324.61 L612,327.20 L613,329.79 L614,332.38 L615,334.98 L616,337.58 L617,340.20 L618,342.81 L619,345.44 L620,348.07 L621,350.72 L622,353.37 L623,356.03 L624,358.71 L625,361.39 L626,364.09 L627,366.80 L628,369.53 L629,372.27 L630,375.03 L631,377.80 L632,380.59 L633,383.39 L634,386.22 L635,389.06 L636,391.93 L637,394.81 L638,397.72 L639,400.64 L640,403.59 L641,406.56 L642,409.55 L643,412.55 L644,415.56 L645,418.58 L646,421.60 L647,424.61 L648,427.62 L649,430.62 L650,433.61 L651,436.57 L652,439.51 L653,442.43 L654,445.31 L655,448.16 L656,450.98 L657,453.76 L658,456.50 L659,459.20 L660,461.85 L661,464.47 L662,467.04 L663,469.57 L664,472.06 L665,474.51 L666,476.91 L667,479.27 L668,481.58 L669,483.85 L670,486.08 L671,488.26 L672,490.40 L673,492.49 L674,494.55 L675,496.56 L676,498.53 L677,500.46 L678,502.35 L679,504.21 L680,506.03 L681,507.81 L682,509.55 L683,511.26 L684,512.94 L685,514.59 L686,516.20 L687,517.78 L688,519.32 L689,520.84 L690,522.33 L691,523.79 L692,525.23 L693,526.64 L694,528.02 L695,529.37 L696,530.70 L697,532.01 L698,533.30 L699,534.56 L700,535.80 L701,537.02 L702,538.22 L703,539.40 L704,540.57 L705,541.71 L706,542.83 L707,543.93 L708,545.01 L709,546.08 L710,547.12 L711,548.15 L712,549.16 L713,550.14 L714,551.12 L715,552.07 L716,553.01 L717,553.92 L718,554.83 L719,555.71 L720,556.58 L721,557.43 L722,558.26 L723,559.08 L724,559.88 L725,560.67 L726,561.44 L727,562.19 L728,562.93 L729,563.65 L730,564.36 L731,565.06 L732,565.74 L733,566.40 L734,567.05 L735,567.69 L736,568.31 L737,568.92 L738,569.52 L739,570.10 L740,570.67 L741,571.23 L742,571.77 L743,572.30 L744,572.82 L745,573.33 L746,573.82 L747,574.31 L748,574.78 L749,575.24 L750,575.68 L751,576.12 L752,576.55 L753,576.96 L754,577.37 L755,577.76 L756,578.14 L757,578.52 L758,578.88 L759,579.23 L760,579.58 L761,579.91 L762,580.24 L763,580.56 L764,580.87 L765,581.17 L766,581.46 L767,581.74 L768,582.01 L769,582.28 L770,582.54 L771,582.79 L772,583.04 L773,583.27 L774,583.50 L775,583.73 L776,583.94 L777,584.15 L778,584.36 L779,584.55 L780,584.75 L781,584.93 L782,585.11 L783,585.29 L784,585.46 L785,585.62 L786,585.78 L787,585.94 L788,586.09 L789,586.23 L790,586.38 L791,586.52 L792,586.65 L793,586.78 L794,586.91 L795,587.03 L796,587.16 L797,587.27 L798,587.39 L799,587.50 L800,587.61 L801,587.72 L802,587.83 L803,587.94 L804,588.04 L805,588.14 L806,588.24 L807,588.34 L808,588.44 L809,588.54 L810,588.64 L811,588.74 L812,588.83 L813,588.93 L814,589.03 L815,589.13 L816,589.22 L817,589.32 L818,589.42 L819,589.52 L820,589.63 L821,589.73 L822,589.84 L823,589.95 L824,590.05"/>
<path d="M137,298.76 L138,299.17 L139,299.59 L140,300.01 L141,300.43 L142,300.86 L143,301.29 L144,301.73 L145,302.17 L146,302.62 L147,303.07 L148,303.52 L149,303.98 L150,304.44 L151,304.90 L152,305.37 L153,305.84 L154,306.31 L155,306.78 L156,307.26 L157,307.73 L158,308.21 L159,308.69 L160,309.17 L161,309.66 L162,310.14 L163,310.62 L164,311.11 L165,311.59 L166,312.08 L167,312.56 L168,313.04 L169,313.53 L170,314.01 L171,314.49 L172,314.97 L173,315.45 L174,315.93 L175,316.41 L176,316.88 L177,317.36 L178,317.83 L179,318.29 L180,318.76 L181,319.22 L182,319.68 L183,320.14 L184,320.59 L185,321.04 L186,321.48 L187,321.93 L188,322.36 L189,322.80 L190,323.22 L191,323.65 L192,324.07 L193,324.48 L194,324.89 L195,325.29 L196,325.69 L197,326.08 L198,326.46 L199,326.84 L200,327.21 L201,327.58 L202,327.94 L203,328.29 L204,328.63 L205,328.97 L206,329.30 L207,329.62 L208,329.93 L209,330.23 L210,330.53 L211,330.82 L212,331.10 L213,331.37 L214,331.63 L215,331.88 L216,332.12 L217,332.35 L218,332.57 L219,332.78 L220,332.98 L221,333.17 L222,333.35 L223,333.52 L224,333.68 L225,333.83 L226,333.96 L227,334.08 L228,334.19 L229,334.29 L230,334.38 L231,334.45 L232,334.51 L233,334.56 L234,334.60 L235,334.62 L236,334.63 L237,334.62 L238,334.60 L239,334.57 L240,334.52 L241,334.46 L242,334.38 L243,334.29 L244,334.18 L245,334.06 L246,333.92 L247,333.77 L248,333.60 L249,333.42 L250,333.22 L251,333.00 L252,332.76 L253,332.51 L254,332.24 L255,331.95 L256,331.64 L257,331.31 L258,330.95 L259,330.57 L260,330.16 L261,329.72 L262,329.26 L263,328.77 L264,328.25 L265,327.69 L266,327.10 L267,326.48 L268,325.82 L269,325.13 L270,324.40 L271,323.62 L272,322.81 L273,321.96 L274,321.06 L275,320.13 L276,319.14 L277,318.11 L278,317.03 L279,315.91 L280,314.73 L281,313.50 L282,312.21 L283,310.86 L284,309.44 L285,307.96 L286,306.41 L287,304.79 L288,303.09 L289,301.31 L290,299.45 L291,297.50 L292,295.47 L293,293.35 L294,291.13 L295,288.82 L296,286.41 L297,283.91 L298,281.31 L299,278.63 L300,275.88 L301,273.04 L302,270.15 L303,267.19 L304,264.17 L305,261.11 L306,258.00 L307,254.86 L308,251.69 L309,248.49 L310,245.28 L311,242.04 L312,238.78 L313,235.49 L314,232.18 L315,228.84 L316,225.46 L317,222.04 L318,218.59 L319,215.09 L320,211.54 L321,207.95 L322,204.31 L323,200.64 L324,196.93 L325,193.19 L326,189.42 L327,185.63 L328,181.82 L329,178.01 L330,174.19 L331,170.38 L332,166.58 L333,162.80 L334,159.06 L335,155.35 L336,151.69 L337,148.08 L338,144.53 L339,141.04 L340,137.64 L341,134.31 L342,131.07 L343,127.93 L344,124.88 L345,121.93 L346,119.10 L347,116.39 L348,113.79 L349,111.32 L350,108.99 L351,106.80 L352,104.75 L353,102.86 L354,101.12 L355,99.53 L356,98.10 L357,96.82 L358,95.70 L359,94.73 L360,93.92 L361,93.27 L362,92.78 L363,92.44 L364,92.27 L365,92.25 L366,92.40 L367,92.70 L368,93.15 L369,93.76 L370,94.50 L371,95.38 L372,96.40 L373,97.55 L374,98.81 L375,100.20 L376,101.70 L377,103.31 L378,105.03 L379,106.84 L380,108.75 L381,110.75 L382,112.83 L383,115.00 L384,117.24 L385,119.55 L386,121.92 L387,124.36 L388,126.85 L389,129.40 L390,131.99 L391,134.62 L392,137.29 L393,139.99 L394,142.72 L395,145.47 L396,148.24 L397,151.02 L398,153.82 L399,156.63 L400,159.45 L401,162.27 L402,165.10 L403,167.94 L404,170.77 L405,173.61 L406,176.44 L407,179.27 L408,182.10 L409,184.92 L410,187.73 L411,190.54 L412,193.33 L413,196.11 L414,198.88 L415,201.63 L416,204.36 L417,207.08 L418,209.77 L419,212.44 L420,215.09 L421,217.71 L422,220.31 L423,222.86 L424,225.38 L425,227.86 L426,230.30 L427,232.69 L428,235.03 L429,237.32 L430,239.55 L431,241.73 L432,243.85 L433,245.91 L434,247.91 L435,249.85 L436,251.72 L437,253.52 L438,255.26 L439,256.94 L440,258.57 L441,260.13 L442,261.64 L443,263.10 L444,264.51 L445,265.88 L446,267.20 L447,268.48 L448,269.72 L449,270.92 L450,272.09 L451,273.23 L452,274.34 L453,275.42 L454,276.48 L455,277.51 L456,278.53 L457,279.52 L458,280.49 L459,281.44 L460,282.37 L461,283.27 L462,284.15 L463,285.01 L464,285.85 L465,286.67 L466,287.46 L467,288.23 L468,288.98 L469,289.71 L470,290.42 L471,291.10 L472,291.75 L473,292.39 L474,293.00 L475,293.58 L476,294.14 L477,294.67 L478,295.18 L479,295.65 L480,296.11 L481,296.53 L482,296.93 L483,297.29 L484,297.62 L485,297.92 L486,298.19 L487,298.42 L488,298.61 L489,298.77 L490,298.89 L491,298.97 L492,299.01 L493,299.00 L494,298.96 L495,298.86 L496,298.73 L497,298.54 L498,298.31 L499,298.03 L500,297.70 L501,297.31 L502,296.87 L503,296.37 L504,295.82 L505,295.22 L506,294.55 L507,293.84 L508,293.07 L509,292.26 L510,291.40 L511,290.49 L512,289.54 L513,288.54 L514,287.51 L515,286.43 L516,285.31 L517,284.16 L518,282.98 L519,281.76 L520,280.51 L521,279.23 L522,277.92 L523,276.59 L524,275.23 L525,273.85 L526,272.46 L527,271.05 L528,269.64 L529,268.23 L530,266.81 L531,265.40 L532,263.99 L533,262.59 L534,261.21 L535,259.84 L536,258.50 L537,257.18 L538,255.89 L539,254.64 L540,253.42 L541,252.23 L542,251.09 L543,249.99 L544,248.94 L545,247.93 L546,246.98 L547,246.07 L548,245.23 L549,244.44 L550,243.71 L551,243.04 L552,242.44 L553,241.91 L554,241.44 L555,241.05 L556,240.74 L557,240.49 L558,240.33 L559,240.24 L560,240.22 L561,240.28 L562,240.42 L563,240.63 L564,240.92 L565,241.29 L566,241.73 L567,242.25 L568,242.84 L569,243.52 L570,244.27 L571,245.10 L572,246.01 L573,247.00 L574,248.06 L575,249.21 L576,250.43 L577,251.73 L578,253.12 L579,254.57 L580,256.10 L581,257.71 L582,259.37 L583,261.11 L584,262.91 L585,264.76 L586,266.68 L587,268.64 L588,270.67 L589,272.73 L590,274.85 L591,277.01 L592,279.21 L593,281.45 L594,283.73 L595,286.04 L596,288.38 L597,290.75 L598,293.14 L599,295.56 L600,298.00 L601,300.46 L602,302.94 L603,305.44 L604,307.95 L605,310.47 L606,313.01 L607,315.55 L608,318.09 L609,320.64 L610,323.20 L611,325.76 L612,328.33 L613,330.90 L614,333.48 L615,336.06 L616,338.65 L617,341.25 L618,343.86 L619,346.47 L620,349.09 L621,351.73 L622,354.37 L623,357.02 L624,359.69 L625,362.37 L626,365.06 L627,367.76 L628,370.48 L629,373.21 L630,375.96 L631,378.72 L632,381.51 L633,384.31 L634,387.12 L635,389.96 L636,392.82 L637,395.69 L638,398.59 L639,401.51 L640,404.45 L641,407.41 L642,410.39 L643,413.38 L644,416.39 L645,419.39 L646,422.41 L647,425.41 L648,428.42 L649,431.41 L650,434.38 L651,437.34 L652,440.28 L653,443.18 L654,446.06 L655,448.91 L656,451.72 L657,454.49 L658,457.23 L659,459.92 L660,462.57 L661,465.19 L662,467.75 L663,470.28 L664,472.76 L665,475.20 L666,477.60 L667,479.96 L668,482.27 L669,484.54 L670,486.76 L671,488.94 L672,491.07 L673,493.17 L674,495.22 L675,497.23 L676,499.20 L677,501.13 L678,503.03 L679,504.88 L680,506.70 L681,508.48 L682,510.23 L683,511.94 L684,513.62 L685,515.26 L686,516.88 L687,518.46 L688,520.01 L689,521.53 L690,523.02 L691,524.48 L692,525.92 L693,527.33 L694,528.71 L695,530.07 L696,531.40 L697,532.71 L698,534.00 L699,535.26 L700,536.51 L701,537.73 L702,538.93 L703,540.11 L704,541.27 L705,542.42 L706,543.54 L707,544.64 L708,545.72 L709,546.79 L710,547.83 L711,548.86 L712,549.86 L713,550.85 L714,551.82 L715,552.77 L716,553.71 L717,554.63 L718,555.53 L719,556.41 L720,557.27 L721,558.12 L722,558.95 L723,559.77 L724,560.57 L725,561.35 L726,562.12 L727,562.87 L728,563.61 L729,564.33 L730,565.03 L731,565.73 L732,566.40 L733,567.06 L734,567.71 L735,568.34 L736,568.96 L737,569.57 L738,570.16 L739,570.74 L740,571.30 L741,571.86 L742,572.40 L743,572.92 L744,573.44 L745,573.94 L746,574.43 L747,574.91 L748,575.37 L749,575.83 L750,576.27 L751,576.70 L752,577.12 L753,577.53 L754,577.93 L755,578.32 L756,578.70 L757,579.07 L758,579.43 L759,579.78 L760,580.12 L761,580.45 L762,580.77 L763,581.08 L764,581.38 L765,581.68 L766,581.96 L767,582.24 L768,582.51 L769,582.77 L770,583.03 L771,583.27 L772,583.51 L773,583.75 L774,583.97 L775,584.19 L776,584.40 L777,584.61 L778,584.80 L779,585.00 L780,585.18 L781,585.37 L782,585.54 L783,585.71 L784,585.88 L785,586.04 L786,586.19 L787,586.34 L788,586.49 L789,586.63 L790,586.77 L791,586.91 L792,587.04 L793,587.16 L794,587.29 L795,587.41 L796,587.53 L797,587.64 L798,587.76 L799,587.87 L800,587.97 L801,588.08 L802,588.18 L803,588.29 L804,588.39 L805,588.49 L806,588.59 L807,588.68 L808,588.78 L809,588.88 L810,588.97 L811,589.07 L812,589.17 L813,589.26 L814,589.36 L815,589.46 L816,589.55 L817,589.65 L818,589.75 L819,589.85 L820,589.96 L821,590.06 L822,590.17 L823,590.27 L824,590.38"/>
<path d="M137,300.77 L138,301.17 L139,301.58 L140,301.99 L141,302.41 L142,302.83 L143,303.26 L144,303.69 L145,304.13 L146,304.57 L147,305.01 L148,305.46 L149,305.91 L150,306.37 L151,306.83 L152,307.29 L153,307.75 L154,308.22 L155,308.68 L156,309.16 L157,309.63 L158,310.10 L159,310.58 L160,311.05 L161,311.53 L162,312.01 L163,312.49 L164,312.97 L165,313.45 L166,313.93 L167,314.42 L168,314.90 L169,315.38 L170,315.86 L171,316.34 L172,316.81 L173,317.29 L174,317.77 L175,318.24 L176,318.71 L177,319.18 L178,319.65 L179,320.12 L180,320.58 L181,321.04 L182,321.50 L183,321.95 L184,322.40 L185,322.85 L186,323.29 L187,323.73 L188,324.17 L189,324.60 L190,325.02 L191,325.45 L192,325.86 L193,326.28 L194,326.68 L195,327.08 L196,327.48 L197,327.87 L198,328.25 L199,328.63 L200,329.00 L201,329.36 L202,329.72 L203,330.07 L204,330.41 L205,330.75 L206,331.08 L207,331.40 L208,331.71 L209,332.01 L210,332.31 L211,332.60 L212,332.87 L213,333.14 L214,333.40 L215,333.65 L216,333.89 L217,334.13 L218,334.35 L219,334.56 L220,334.76 L221,334.95 L222,335.13 L223,335.29 L224,335.45 L225,335.60 L226,335.73 L227,335.85 L228,335.96 L229,336.06 L230,336.15 L231,336.22 L232,336.28 L233,336.33 L234,336.37 L235,336.39 L236,336.39 L237,336.39 L238,336.37 L239,336.34 L240,336.29 L241,336.22 L242,336.15 L243,336.06 L244,335.95 L245,335.83 L246,335.69 L247,335.53 L248,335.37 L249,335.18 L250,334.98 L251,334.76 L252,334.53 L253,334.27 L254,334.00 L255,333.71 L256,333.40 L257,333.07 L258,332.71 L259,332.33 L260,331.92 L261,331.48 L262,331.02 L263,330.53 L264,330.00 L265,329.45 L266,328.86 L267,328.24 L268,327.58 L269,326.89 L270,326.15 L271,325.38 L272,324.57 L273,323.72 L274,322.83 L275,321.89 L276,320.91 L277,319.88 L278,318.81 L279,317.68 L280,316.51 L281,315.28 L282,313.99 L283,312.65 L284,311.24 L285,309.76 L286,308.22 L287,306.60 L288,304.91 L289,303.15 L290,301.30 L291,299.37 L292,297.35 L293,295.25 L294,293.05 L295,290.77 L296,288.38 L297,285.91 L298,283.34 L299,280.70 L300,277.97 L301,275.17 L302,272.31 L303,269.39 L304,266.41 L305,263.39 L306,260.32 L307,257.21 L308,254.07 L309,250.91 L310,247.72 L311,244.51 L312,241.28 L313,238.02 L314,234.74 L315,231.42 L316,228.06 L317,224.67 L318,221.24 L319,217.76 L320,214.24 L321,210.68 L322,207.06 L323,203.41 L324,199.73 L325,196.01 L326,192.27 L327,188.50 L328,184.71 L329,180.92 L330,177.12 L331,173.33 L332,169.55 L333,165.79 L334,162.06 L335,158.36 L336,154.71 L337,151.12 L338,147.58 L339,144.11 L340,140.71 L341,137.40 L342,134.17 L343,131.03 L344,127.99 L345,125.06 L346,122.23 L347,119.53 L348,116.94 L349,114.49 L350,112.16 L351,109.98 L352,107.95 L353,106.07 L354,104.34 L355,102.77 L356,101.35 L357,100.09 L358,98.98 L359,98.03 L360,97.24 L361,96.60 L362,96.12 L363,95.80 L364,95.64 L365,95.63 L366,95.78 L367,96.09 L368,96.55 L369,97.15 L370,97.90 L371,98.78 L372,99.79 L373,100.93 L374,102.19 L375,103.57 L376,105.07 L377,106.67 L378,108.37 L379,110.18 L380,112.07 L381,114.06 L382,116.13 L383,118.28 L384,120.50 L385,122.80 L386,125.16 L387,127.58 L388,130.06 L389,132.59 L390,135.16 L391,137.78 L392,140.44 L393,143.12 L394,145.84 L395,148.58 L396,151.33 L397,154.10 L398,156.89 L399,159.69 L400,162.50 L401,165.31 L402,168.13 L403,170.95 L404,173.78 L405,176.60 L406,179.43 L407,182.25 L408,185.07 L409,187.88 L410,190.68 L411,193.48 L412,196.26 L413,199.03 L414,201.79 L415,204.53 L416,207.25 L417,209.95 L418,212.64 L419,215.30 L420,217.94 L421,220.55 L422,223.12 L423,225.67 L424,228.18 L425,230.64 L426,233.07 L427,235.45 L428,237.77 L429,240.05 L430,242.27 L431,244.43 L432,246.54 L433,248.59 L434,250.58 L435,252.51 L436,254.37 L437,256.17 L438,257.91 L439,259.58 L440,261.20 L441,262.77 L442,264.28 L443,265.73 L444,267.14 L445,268.51 L446,269.83 L447,271.11 L448,272.35 L449,273.55 L450,274.72 L451,275.86 L452,276.97 L453,278.05 L454,279.11 L455,280.15 L456,281.16 L457,282.15 L458,283.11 L459,284.06 L460,284.98 L461,285.88 L462,286.76 L463,287.61 L464,288.45 L465,289.26 L466,290.04 L467,290.81 L468,291.55 L469,292.27 L470,292.97 L471,293.64 L472,294.29 L473,294.92 L474,295.52 L475,296.10 L476,296.65 L477,297.18 L478,297.67 L479,298.15 L480,298.59 L481,299.01 L482,299.40 L483,299.76 L484,300.08 L485,300.38 L486,300.64 L487,300.86 L488,301.05 L489,301.21 L490,301.32 L491,301.40 L492,301.44 L493,301.43 L494,301.39 L495,301.30 L496,301.16 L497,300.98 L498,300.75 L499,300.47 L500,300.14 L501,299.77 L502,299.33 L503,298.85 L504,298.31 L505,297.71 L506,297.07 L507,296.37 L508,295.62 L509,294.82 L510,293.97 L511,293.08 L512,292.14 L513,291.16 L514,290.14 L515,289.08 L516,287.99 L517,286.85 L518,285.68 L519,284.48 L520,283.24 L521,281.97 L522,280.68 L523,279.35 L524,278.00 L525,276.64 L526,275.25 L527,273.85 L528,272.44 L529,271.03 L530,269.62 L531,268.20 L532,266.80 L533,265.40 L534,264.01 L535,262.64 L536,261.30 L537,259.97 L538,258.68 L539,257.41 L540,256.18 L541,254.99 L542,253.84 L543,252.72 L544,251.66 L545,250.64 L546,249.67 L547,248.75 L548,247.89 L549,247.09 L550,246.34 L551,245.66 L552,245.05 L553,244.50 L554,244.02 L555,243.61 L556,243.28 L557,243.03 L558,242.85 L559,242.74 L560,242.71 L561,242.76 L562,242.88 L563,243.08 L564,243.35 L565,243.70 L566,244.13 L567,244.63 L568,245.21 L569,245.87 L570,246.60 L571,247.41 L572,248.30 L573,249.27 L574,250.31 L575,251.43 L576,252.63 L577,253.91 L578,255.26 L579,256.69 L580,258.19 L581,259.76 L582,261.40 L583,263.10 L584,264.87 L585,266.69 L586,268.57 L587,270.50 L588,272.49 L589,274.52 L590,276.60 L591,278.73 L592,280.89 L593,283.10 L594,285.34 L595,287.62 L596,289.92 L597,292.26 L598,294.62 L599,297.01 L600,299.42 L601,301.85 L602,304.30 L603,306.77 L604,309.25 L605,311.75 L606,314.26 L607,316.78 L608,319.30 L609,321.83 L610,324.37 L611,326.91 L612,329.46 L613,332.02 L614,334.58 L615,337.15 L616,339.73 L617,342.31 L618,344.90 L619,347.50 L620,350.12 L621,352.74 L622,355.37 L623,358.01 L624,360.67 L625,363.34 L626,366.02 L627,368.72 L628,371.43 L629,374.15 L630,376.89 L631,379.65 L632,382.43 L633,385.22 L634,388.03 L635,390.86 L636,393.71 L637,396.58 L638,399.46 L639,402.38 L640,405.31 L641,408.26 L642,411.23 L643,414.22 L644,417.21 L645,420.21 L646,423.21 L647,426.21 L648,429.21 L649,432.19 L650,435.16 L651,438.11 L652,441.04 L653,443.94 L654,446.81 L655,449.65 L656,452.46 L657,455.23 L658,457.96 L659,460.65 L660,463.30 L661,465.90 L662,468.47 L663,470.99 L664,473.47 L665,475.90 L666,478.30 L667,480.65 L668,482.95 L669,485.22 L670,487.44 L671,489.62 L672,491.75 L673,493.84 L674,495.89 L675,497.90 L676,499.87 L677,501.80 L678,503.70 L679,505.55 L680,507.37 L681,509.15 L682,510.90 L683,512.62 L684,514.29 L685,515.94 L686,517.56 L687,519.14 L688,520.69 L689,522.21 L690,523.71 L691,525.17 L692,526.61 L693,528.02 L694,529.41 L695,530.77 L696,532.10 L697,533.41 L698,534.70 L699,535.97 L700,537.21 L701,538.44 L702,539.64 L703,540.82 L704,541.98 L705,543.12 L706,544.25 L707,545.35 L708,546.43 L709,547.49 L710,548.54 L711,549.56 L712,550.57 L713,551.56 L714,552.53 L715,553.48 L716,554.41 L717,555.33 L718,556.23 L719,557.11 L720,557.97 L721,558.82 L722,559.65 L723,560.46 L724,561.26 L725,562.04 L726,562.80 L727,563.55 L728,564.28 L729,565.00 L730,565.70 L731,566.39 L732,567.06 L733,567.72 L734,568.37 L735,569.00 L736,569.61 L737,570.21 L738,570.80 L739,571.38 L740,571.94 L741,572.49 L742,573.02 L743,573.54 L744,574.05 L745,574.55 L746,575.04 L747,575.51 L748,575.97 L749,576.42 L750,576.86 L751,577.29 L752,577.70 L753,578.11 L754,578.50 L755,578.89 L756,579.26 L757,579.62 L758,579.98 L759,580.32 L760,580.66 L761,580.98 L762,581.30 L763,581.60 L764,581.90 L765,582.19 L766,582.47 L767,582.74 L768,583.01 L769,583.27 L770,583.51 L771,583.76 L772,583.99 L773,584.22 L774,584.44 L775,584.65 L776,584.86 L777,585.06 L778,585.25 L779,585.44 L780,585.62 L781,585.80 L782,585.97 L783,586.14 L784,586.30 L785,586.45 L786,586.60 L787,586.75 L788,586.89 L789,587.03 L790,587.17 L791,587.30 L792,587.42 L793,587.55 L794,587.67 L795,587.79 L796,587.90 L797,588.01 L798,588.12 L799,588.23 L800,588.33 L801,588.44 L802,588.54 L803,588.64 L804,588.74 L805,588.83 L806,588.93 L807,589.03 L808,589.12 L809,589.22 L810,589.31 L811,589.40 L812,589.50 L813,589.59 L814,589.69 L815,589.79 L816,589.88 L817,589.98 L818,590.08 L819,590.18 L820,590.28 L821,590.39 L822,590.49 L823,590.60 L824,590.71"/>
<path d="M137,302.78 L138,303.17 L139,303.57 L140,303.98 L141,304.39 L142,304.81 L143,305.23 L144,305.65 L145,306.08 L146,306.52 L147,306.96 L148,307.40 L149,307.85 L150,308.30 L151,308.75 L152,309.20 L153,309.66 L154,310.12 L155,310.59 L156,311.05 L157,311.52 L158,311.99 L159,312.46 L160,312.94 L161,313.41 L162,313.89 L163,314.36 L164,314.84 L165,315.32 L166,315.79 L167,316.27 L168,316.75 L169,317.23 L170,317.70 L171,318.18 L172,318.65 L173,319.13 L174,319.60 L175,320.07 L176,320.54 L177,321.01 L178,321.47 L179,321.94 L180,322.40 L181,322.85 L182,323.31 L183,323.76 L184,324.21 L185,324.66 L186,325.10 L187,325.54 L188,325.97 L189,326.40 L190,326.82 L191,327.24 L192,327.66 L193,328.07 L194,328.48 L195,328.88 L196,329.27 L197,329.66 L198,330.04 L199,330.42 L200,330.79 L201,331.15 L202,331.51 L203,331.86 L204,332.20 L205,332.53 L206,332.86 L207,333.18 L208,333.49 L209,333.79 L210,334.09 L211,334.37 L212,334.65 L213,334.92 L214,335.18 L215,335.43 L216,335.67 L217,335.90 L218,336.12 L219,336.33 L220,336.53 L221,336.72 L222,336.90 L223,337.07 L224,337.22 L225,337.37 L226,337.50 L227,337.63 L228,337.74 L229,337.83 L230,337.92 L231,337.99 L232,338.05 L233,338.10 L234,338.13 L235,338.16 L236,338.16 L237,338.16 L238,338.14 L239,338.10 L240,338.05 L241,337.99 L242,337.91 L243,337.82 L244,337.71 L245,337.59 L246,337.45 L247,337.30 L248,337.13 L249,336.94 L250,336.74 L251,336.52 L252,336.29 L253,336.03 L254,335.76 L255,335.47 L256,335.16 L257,334.82 L258,334.47 L259,334.08 L260,333.67 L261,333.24 L262,332.77 L263,332.28 L264,331.76 L265,331.20 L266,330.62 L267,329.99 L268,329.34 L269,328.64 L270,327.91 L271,327.14 L272,326.33 L273,325.48 L274,324.59 L275,323.66 L276,322.68 L277,321.65 L278,320.58 L279,319.45 L280,318.28 L281,317.06 L282,315.78 L283,314.43 L284,313.03 L285,311.56 L286,310.03 L287,308.42 L288,306.74 L289,304.99 L290,303.15 L291,301.24 L292,299.24 L293,297.15 L294,294.98 L295,292.71 L296,290.36 L297,287.91 L298,285.37 L299,282.76 L300,280.07 L301,277.31 L302,274.48 L303,271.59 L304,268.65 L305,265.66 L306,262.63 L307,259.56 L308,256.45 L309,253.32 L310,250.17 L311,246.99 L312,243.78 L313,240.55 L314,237.29 L315,234.00 L316,230.67 L317,227.30 L318,223.89 L319,220.44 L320,216.94 L321,213.40 L322,209.81 L323,206.19 L324,202.53 L325,198.83 L326,195.11 L327,191.37 L328,187.60 L329,183.83 L330,180.05 L331,176.27 L332,172.51 L333,168.77 L334,165.05 L335,161.38 L336,157.74 L337,154.15 L338,150.63 L339,147.17 L340,143.79 L341,140.48 L342,137.26 L343,134.13 L344,131.10 L345,128.18 L346,125.36 L347,122.67 L348,120.09 L349,117.65 L350,115.34 L351,113.17 L352,111.15 L353,109.28 L354,107.57 L355,106.01 L356,104.61 L357,103.36 L358,102.27 L359,101.34 L360,100.56 L361,99.94 L362,99.47 L363,99.16 L364,99.01 L365,99.01 L366,99.17 L367,99.48 L368,99.94 L369,100.55 L370,101.29 L371,102.17 L372,103.18 L373,104.32 L374,105.57 L375,106.95 L376,108.43 L377,110.02 L378,111.72 L379,113.51 L380,115.39 L381,117.37 L382,119.42 L383,121.56 L384,123.77 L385,126.05 L386,128.40 L387,130.80 L388,133.27 L389,135.78 L390,138.34 L391,140.94 L392,143.58 L393,146.25 L394,148.96 L395,151.68 L396,154.42 L397,157.18 L398,159.96 L399,162.75 L400,165.54 L401,168.35 L402,171.15 L403,173.97 L404,176.78 L405,179.60 L406,182.41 L407,185.23 L408,188.03 L409,190.84 L410,193.63 L411,196.41 L412,199.19 L413,201.95 L414,204.69 L415,207.43 L416,210.14 L417,212.83 L418,215.50 L419,218.15 L420,220.78 L421,223.38 L422,225.94 L423,228.48 L424,230.97 L425,233.43 L426,235.84 L427,238.20 L428,240.51 L429,242.78 L430,244.99 L431,247.14 L432,249.24 L433,251.28 L434,253.25 L435,255.17 L436,257.03 L437,258.82 L438,260.55 L439,262.23 L440,263.84 L441,265.40 L442,266.91 L443,268.37 L444,269.78 L445,271.14 L446,272.46 L447,273.74 L448,274.98 L449,276.19 L450,277.36 L451,278.50 L452,279.61 L453,280.69 L454,281.75 L455,282.78 L456,283.79 L457,284.78 L458,285.74 L459,286.68 L460,287.60 L461,288.49 L462,289.36 L463,290.21 L464,291.04 L465,291.84 L466,292.63 L467,293.38 L468,294.12 L469,294.83 L470,295.52 L471,296.19 L472,296.83 L473,297.45 L474,298.05 L475,298.62 L476,299.16 L477,299.68 L478,300.17 L479,300.64 L480,301.08 L481,301.49 L482,301.87 L483,302.22 L484,302.54 L485,302.83 L486,303.09 L487,303.31 L488,303.50 L489,303.65 L490,303.76 L491,303.83 L492,303.87 L493,303.86 L494,303.81 L495,303.73 L496,303.59 L497,303.41 L498,303.19 L499,302.92 L500,302.59 L501,302.22 L502,301.80 L503,301.32 L504,300.79 L505,300.21 L506,299.58 L507,298.89 L508,298.16 L509,297.37 L510,296.54 L511,295.67 L512,294.75 L513,293.79 L514,292.78 L515,291.74 L516,290.66 L517,289.54 L518,288.38 L519,287.20 L520,285.97 L521,284.72 L522,283.43 L523,282.12 L524,280.78 L525,279.42 L526,278.04 L527,276.65 L528,275.25 L529,273.84 L530,272.42 L531,271.01 L532,269.60 L533,268.20 L534,266.82 L535,265.45 L536,264.09 L537,262.76 L538,261.46 L539,260.19 L540,258.95 L541,257.75 L542,256.58 L543,255.46 L544,254.38 L545,253.35 L546,252.37 L547,251.44 L548,250.56 L549,249.74 L550,248.98 L551,248.29 L552,247.65 L553,247.09 L554,246.60 L555,246.18 L556,245.83 L557,245.56 L558,245.37 L559,245.25 L560,245.20 L561,245.24 L562,245.34 L563,245.53 L564,245.79 L565,246.12 L566,246.53 L567,247.02 L568,247.58 L569,248.22 L570,248.93 L571,249.72 L572,250.59 L573,251.54 L574,252.56 L575,253.66 L576,254.83 L577,256.08 L578,257.41 L579,258.81 L580,260.28 L581,261.82 L582,263.43 L583,265.09 L584,266.83 L585,268.61 L586,270.46 L587,272.36 L588,274.31 L589,276.31 L590,278.36 L591,280.45 L592,282.58 L593,284.75 L594,286.96 L595,289.20 L596,291.47 L597,293.77 L598,296.10 L599,298.46 L600,300.84 L601,303.24 L602,305.66 L603,308.10 L604,310.56 L605,313.03 L606,315.51 L607,318.01 L608,320.51 L609,323.02 L610,325.54 L611,328.06 L612,330.59 L613,333.13 L614,335.68 L615,338.23 L616,340.80 L617,343.37 L618,345.95 L619,348.54 L620,351.14 L621,353.75 L622,356.37 L623,359.01 L624,361.65 L625,364.31 L626,366.99 L627,369.67 L628,372.38 L629,375.09 L630,377.83 L631,380.58 L632,383.34 L633,386.13 L634,388.93 L635,391.75 L636,394.60 L637,397.46 L638,400.34 L639,403.24 L640,406.17 L641,409.11 L642,412.07 L643,415.05 L644,418.03 L645,421.03 L646,424.02 L647,427.01 L648,430.00 L649,432.97 L650,435.94 L651,438.88 L652,441.80 L653,444.70 L654,447.57 L655,450.40 L656,453.20 L657,455.96 L658,458.69 L659,461.37 L660,464.02 L661,466.62 L662,469.18 L663,471.69 L664,474.17 L665,476.60 L666,478.99 L667,481.34 L668,483.64 L669,485.90 L670,488.12 L671,490.29 L672,492.43 L673,494.52 L674,496.57 L675,498.57 L676,500.54 L677,502.48 L678,504.37 L679,506.22 L680,508.04 L681,509.83 L682,511.58 L683,513.29 L684,514.97 L685,516.62 L686,518.24 L687,519.82 L688,521.37 L689,522.90 L690,524.40 L691,525.86 L692,527.30 L693,528.71 L694,530.10 L695,531.46 L696,532.80 L697,534.11 L698,535.40 L699,536.67 L700,537.92 L701,539.14 L702,540.35 L703,541.53 L704,542.69 L705,543.83 L706,544.96 L707,546.06 L708,547.14 L709,548.20 L710,549.25 L711,550.27 L712,551.28 L713,552.26 L714,553.23 L715,554.18 L716,555.12 L717,556.03 L718,556.93 L719,557.80 L720,558.67 L721,559.51 L722,560.34 L723,561.15 L724,561.94 L725,562.72 L726,563.48 L727,564.23 L728,564.96 L729,565.67 L730,566.37 L731,567.06 L732,567.73 L733,568.38 L734,569.02 L735,569.65 L736,570.26 L737,570.86 L738,571.44 L739,572.01 L740,572.57 L741,573.11 L742,573.65 L743,574.16 L744,574.67 L745,575.16 L746,575.64 L747,576.11 L748,576.57 L749,577.01 L750,577.45 L751,577.87 L752,578.28 L753,578.68 L754,579.07 L755,579.45 L756,579.82 L757,580.18 L758,580.53 L759,580.86 L760,581.19 L761,581.51 L762,581.82 L763,582.13 L764,582.42 L765,582.70 L766,582.98 L767,583.25 L768,583.51 L769,583.76 L770,584.00 L771,584.24 L772,584.47 L773,584.69 L774,584.91 L775,585.11 L776,585.32 L777,585.51 L778,585.70 L779,585.88 L780,586.06 L781,586.23 L782,586.40 L783,586.56 L784,586.72 L785,586.87 L786,587.02 L787,587.16 L788,587.30 L789,587.43 L790,587.56 L791,587.69 L792,587.81 L793,587.93 L794,588.05 L795,588.16 L796,588.27 L797,588.38 L798,588.49 L799,588.59 L800,588.69 L801,588.79 L802,588.89 L803,588.99 L804,589.09 L805,589.18 L806,589.27 L807,589.37 L808,589.46 L809,589.55 L810,589.65 L811,589.74 L812,589.83 L813,589.93 L814,590.02 L815,590.12 L816,590.21 L817,590.31 L818,590.41 L819,590.51 L820,590.61 L821,590.72 L822,590.82 L823,590.93 L824,591.04"/>
<path d="M137,305.07 L138,305.46 L139,305.85 L140,306.25 L141,306.65 L142,307.06 L143,307.48 L144,307.90 L145,308.32 L146,308.75 L147,309.18 L148,309.62 L149,310.06 L150,310.50 L151,310.95 L152,311.40 L153,311.85 L154,312.30 L155,312.76 L156,313.22 L157,313.69 L158,314.15 L159,314.62 L160,315.09 L161,315.56 L162,316.03 L163,316.50 L164,316.97 L165,317.44 L166,317.92 L167,318.39 L168,318.86 L169,319.34 L170,319.81 L171,320.28 L172,320.75 L173,321.23 L174,321.69 L175,322.16 L176,322.63 L177,323.09 L178,323.56 L179,324.02 L180,324.48 L181,324.93 L182,325.38 L183,325.83 L184,326.28 L185,326.72 L186,327.16 L187,327.60 L188,328.03 L189,328.46 L190,328.88 L191,329.30 L192,329.71 L193,330.12 L194,330.53 L195,330.92 L196,331.32 L197,331.70 L198,332.09 L199,332.46 L200,332.83 L201,333.19 L202,333.55 L203,333.89 L204,334.24 L205,334.57 L206,334.90 L207,335.21 L208,335.52 L209,335.83 L210,336.12 L211,336.41 L212,336.68 L213,336.95 L214,337.21 L215,337.46 L216,337.70 L217,337.93 L218,338.15 L219,338.36 L220,338.56 L221,338.75 L222,338.93 L223,339.09 L224,339.25 L225,339.39 L226,339.53 L227,339.65 L228,339.76 L229,339.86 L230,339.94 L231,340.01 L232,340.07 L233,340.12 L234,340.16 L235,340.18 L236,340.18 L237,340.18 L238,340.16 L239,340.12 L240,340.07 L241,340.01 L242,339.93 L243,339.84 L244,339.73 L245,339.61 L246,339.47 L247,339.32 L248,339.15 L249,338.96 L250,338.76 L251,338.54 L252,338.30 L253,338.05 L254,337.77 L255,337.48 L256,337.17 L257,336.83 L258,336.48 L259,336.09 L260,335.68 L261,335.25 L262,334.78 L263,334.29 L264,333.77 L265,333.21 L266,332.62 L267,332.00 L268,331.35 L269,330.65 L270,329.92 L271,329.15 L272,328.35 L273,327.50 L274,326.61 L275,325.67 L276,324.69 L277,323.67 L278,322.60 L279,321.48 L280,320.31 L281,319.09 L282,317.81 L283,316.48 L284,315.08 L285,313.62 L286,312.09 L287,310.50 L288,308.83 L289,307.09 L290,305.27 L291,303.37 L292,301.39 L293,299.33 L294,297.17 L295,294.94 L296,292.61 L297,290.19 L298,287.69 L299,285.11 L300,282.46 L301,279.74 L302,276.95 L303,274.11 L304,271.21 L305,268.26 L306,265.27 L307,262.24 L308,259.17 L309,256.08 L310,252.96 L311,249.82 L312,246.64 L313,243.44 L314,240.21 L315,236.95 L316,233.64 L317,230.30 L318,226.92 L319,223.50 L320,220.03 L321,216.51 L322,212.96 L323,209.36 L324,205.73 L325,202.06 L326,198.37 L327,194.65 L328,190.91 L329,187.16 L330,183.40 L331,179.64 L332,175.90 L333,172.18 L334,168.48 L335,164.82 L336,161.20 L337,157.63 L338,154.12 L339,150.67 L340,147.30 L341,144.00 L342,140.80 L343,137.68 L344,134.66 L345,131.75 L346,128.94 L347,126.25 L348,123.69 L349,121.26 L350,118.96 L351,116.81 L352,114.80 L353,112.95 L354,111.25 L355,109.71 L356,108.33 L357,107.10 L358,106.03 L359,105.11 L360,104.35 L361,103.75 L362,103.30 L363,103.00 L364,102.86 L365,102.87 L366,103.04 L367,103.36 L368,103.82 L369,104.43 L370,105.17 L371,106.05 L372,107.06 L373,108.19 L374,109.44 L375,110.80 L376,112.28 L377,113.86 L378,115.54 L379,117.32 L380,119.19 L381,121.15 L382,123.19 L383,125.31 L384,127.50 L385,129.77 L386,132.10 L387,134.48 L388,136.93 L389,139.43 L390,141.97 L391,144.55 L392,147.18 L393,149.83 L394,152.52 L395,155.23 L396,157.96 L397,160.70 L398,163.47 L399,166.24 L400,169.02 L401,171.81 L402,174.61 L403,177.41 L404,180.22 L405,183.02 L406,185.83 L407,188.63 L408,191.42 L409,194.21 L410,197.00 L411,199.77 L412,202.53 L413,205.28 L414,208.02 L415,210.74 L416,213.44 L417,216.12 L418,218.78 L419,221.42 L420,224.03 L421,226.61 L422,229.16 L423,231.68 L424,234.16 L425,236.60 L426,239.00 L427,241.35 L428,243.65 L429,245.90 L430,248.09 L431,250.23 L432,252.31 L433,254.34 L434,256.31 L435,258.22 L436,260.07 L437,261.85 L438,263.58 L439,265.24 L440,266.86 L441,268.41 L442,269.92 L443,271.38 L444,272.79 L445,274.15 L446,275.47 L447,276.75 L448,278.00 L449,279.20 L450,280.37 L451,281.51 L452,282.62 L453,283.70 L454,284.76 L455,285.79 L456,286.79 L457,287.78 L458,288.74 L459,289.67 L460,290.59 L461,291.48 L462,292.34 L463,293.18 L464,294.00 L465,294.80 L466,295.58 L467,296.33 L468,297.05 L469,297.76 L470,298.44 L471,299.10 L472,299.74 L473,300.35 L474,300.94 L475,301.50 L476,302.03 L477,302.55 L478,303.03 L479,303.49 L480,303.92 L481,304.32 L482,304.70 L483,305.04 L484,305.36 L485,305.64 L486,305.89 L487,306.10 L488,306.28 L489,306.43 L490,306.54 L491,306.61 L492,306.64 L493,306.64 L494,306.59 L495,306.50 L496,306.37 L497,306.20 L498,305.98 L499,305.71 L500,305.39 L501,305.03 L502,304.62 L503,304.15 L504,303.64 L505,303.07 L506,302.45 L507,301.78 L508,301.06 L509,300.29 L510,299.48 L511,298.63 L512,297.73 L513,296.78 L514,295.80 L515,294.77 L516,293.71 L517,292.61 L518,291.47 L519,290.30 L520,289.09 L521,287.85 L522,286.58 L523,285.28 L524,283.95 L525,282.60 L526,281.23 L527,279.84 L528,278.45 L529,277.04 L530,275.63 L531,274.22 L532,272.81 L533,271.41 L534,270.02 L535,268.65 L536,267.29 L537,265.95 L538,264.64 L539,263.36 L540,262.11 L541,260.90 L542,259.72 L543,258.58 L544,257.49 L545,256.44 L546,255.45 L547,254.50 L548,253.61 L549,252.77 L550,252.00 L551,251.28 L552,250.63 L553,250.05 L554,249.54 L555,249.11 L556,248.74 L557,248.46 L558,248.25 L559,248.11 L560,248.05 L561,248.07 L562,248.16 L563,248.32 L564,248.57 L565,248.88 L566,249.27 L567,249.74 L568,250.29 L569,250.90 L570,251.60 L571,252.37 L572,253.21 L573,254.13 L574,255.13 L575,256.20 L576,257.34 L577,258.56 L578,259.86 L579,261.23 L580,262.67 L581,264.17 L582,265.74 L583,267.37 L584,269.07 L585,270.82 L586,272.62 L587,274.48 L588,276.39 L589,278.35 L590,280.36 L591,282.41 L592,284.50 L593,286.63 L594,288.80 L595,291.00 L596,293.24 L597,295.50 L598,297.79 L599,300.11 L600,302.46 L601,304.83 L602,307.22 L603,309.62 L604,312.05 L605,314.49 L606,316.95 L607,319.41 L608,321.89 L609,324.37 L610,326.87 L611,329.37 L612,331.88 L613,334.40 L614,336.93 L615,339.47 L616,342.02 L617,344.58 L618,347.14 L619,349.72 L620,352.31 L621,354.91 L622,357.52 L623,360.14 L624,362.78 L625,365.43 L626,368.09 L627,370.77 L628,373.46 L629,376.17 L630,378.89 L631,381.64 L632,384.40 L633,387.17 L634,389.97 L635,392.78 L636,395.61 L637,398.47 L638,401.34 L639,404.23 L640,407.15 L641,410.08 L642,413.03 L643,416.00 L644,418.98 L645,421.96 L646,424.94 L647,427.93 L648,430.90 L649,433.87 L650,436.83 L651,439.76 L652,442.68 L653,445.57 L654,448.43 L655,451.25 L656,454.05 L657,456.81 L658,459.53 L659,462.20 L660,464.84 L661,467.44 L662,469.99 L663,472.50 L664,474.97 L665,477.40 L666,479.78 L667,482.13 L668,484.43 L669,486.68 L670,488.90 L671,491.07 L672,493.20 L673,495.29 L674,497.33 L675,499.34 L676,501.31 L677,503.24 L678,505.14 L679,506.99 L680,508.81 L681,510.60 L682,512.35 L683,514.06 L684,515.74 L685,517.39 L686,519.01 L687,520.60 L688,522.16 L689,523.68 L690,525.18 L691,526.65 L692,528.09 L693,529.51 L694,530.90 L695,532.26 L696,533.60 L697,534.91 L698,536.21 L699,537.48 L700,538.72 L701,539.95 L702,541.15 L703,542.34 L704,543.50 L705,544.64 L706,545.77 L707,546.87 L708,547.95 L709,549.01 L710,550.06 L711,551.08 L712,552.09 L713,553.07 L714,554.04 L715,554.99 L716,555.92 L717,556.83 L718,557.73 L719,558.60 L720,559.46 L721,560.30 L722,561.13 L723,561.94 L724,562.73 L725,563.50 L726,564.26 L727,565.01 L728,565.73 L729,566.44 L730,567.14 L731,567.82 L732,568.49 L733,569.14 L734,569.77 L735,570.40 L736,571.00 L737,571.60 L738,572.18 L739,572.74 L740,573.29 L741,573.83 L742,574.36 L743,574.87 L744,575.37 L745,575.86 L746,576.34 L747,576.80 L748,577.25 L749,577.69 L750,578.12 L751,578.54 L752,578.94 L753,579.34 L754,579.72 L755,580.09 L756,580.46 L757,580.81 L758,581.15 L759,581.49 L760,581.81 L761,582.12 L762,582.43 L763,582.72 L764,583.01 L765,583.29 L766,583.56 L767,583.82 L768,584.08 L769,584.32 L770,584.56 L771,584.79 L772,585.01 L773,585.23 L774,585.44 L775,585.64 L776,585.84 L777,586.03 L778,586.21 L779,586.39 L780,586.56 L781,586.73 L782,586.89 L783,587.05 L784,587.20 L785,587.34 L786,587.49 L787,587.62 L788,587.76 L789,587.89 L790,588.01 L791,588.13 L792,588.25 L793,588.37 L794,588.48 L795,588.59 L796,588.70 L797,588.80 L798,588.91 L799,589.01 L800,589.10 L801,589.20 L802,589.30 L803,589.39 L804,589.48 L805,589.58 L806,589.67 L807,589.76 L808,589.85 L809,589.94 L810,590.03 L811,590.12 L812,590.21 L813,590.31 L814,590.40 L815,590.49 L816,590.59 L817,590.69 L818,590.78 L819,590.88 L820,590.99 L821,591.09 L822,591.20 L823,591.31 L824,591.42"/>
<path d="M137,307.94 L138,308.31 L139,308.70 L140,309.09 L141,309.48 L142,309.88 L143,310.29 L144,310.70 L145,311.11 L146,311.53 L147,311.96 L148,312.38 L149,312.82 L150,313.25 L151,313.69 L152,314.13 L153,314.58 L154,315.03 L155,315.48 L156,315.94 L157,316.39 L158,316.85 L159,317.31 L160,317.77 L161,318.24 L162,318.70 L163,319.17 L164,319.64 L165,320.10 L166,320.57 L167,321.04 L168,321.51 L169,321.98 L170,322.45 L171,322.92 L172,323.38 L173,323.85 L174,324.31 L175,324.78 L176,325.24 L177,325.70 L178,326.16 L179,326.62 L180,327.07 L181,327.53 L182,327.98 L183,328.42 L184,328.87 L185,329.31 L186,329.74 L187,330.18 L188,330.61 L189,331.03 L190,331.45 L191,331.87 L192,332.28 L193,332.69 L194,333.09 L195,333.49 L196,333.88 L197,334.26 L198,334.64 L199,335.01 L200,335.38 L201,335.74 L202,336.10 L203,336.44 L204,336.78 L205,337.12 L206,337.44 L207,337.76 L208,338.07 L209,338.37 L210,338.66 L211,338.95 L212,339.22 L213,339.49 L214,339.75 L215,340.00 L216,340.23 L217,340.46 L218,340.68 L219,340.89 L220,341.09 L221,341.28 L222,341.46 L223,341.63 L224,341.78 L225,341.93 L226,342.06 L227,342.18 L228,342.29 L229,342.39 L230,342.47 L231,342.54 L232,342.60 L233,342.65 L234,342.68 L235,342.70 L236,342.71 L237,342.70 L238,342.68 L239,342.65 L240,342.60 L241,342.53 L242,342.46 L243,342.36 L244,342.25 L245,342.13 L246,341.99 L247,341.84 L248,341.66 L249,341.48 L250,341.27 L251,341.05 L252,340.82 L253,340.56 L254,340.29 L255,340.00 L256,339.68 L257,339.35 L258,338.99 L259,338.60 L260,338.19 L261,337.76 L262,337.29 L263,336.80 L264,336.28 L265,335.72 L266,335.13 L267,334.51 L268,333.86 L269,333.16 L270,332.44 L271,331.67 L272,330.86 L273,330.01 L274,329.13 L275,328.19 L276,327.22 L277,326.20 L278,325.13 L279,324.02 L280,322.85 L281,321.63 L282,320.36 L283,319.03 L284,317.64 L285,316.19 L286,314.68 L287,313.09 L288,311.44 L289,309.71 L290,307.91 L291,306.04 L292,304.08 L293,302.04 L294,299.92 L295,297.72 L296,295.43 L297,293.05 L298,290.59 L299,288.06 L300,285.46 L301,282.78 L302,280.05 L303,277.26 L304,274.41 L305,271.51 L306,268.57 L307,265.59 L308,262.57 L309,259.53 L310,256.45 L311,253.35 L312,250.22 L313,247.06 L314,243.86 L315,240.63 L316,237.36 L317,234.06 L318,230.71 L319,227.32 L320,223.89 L321,220.41 L322,216.89 L323,213.32 L324,209.73 L325,206.09 L326,202.43 L327,198.75 L328,195.04 L329,191.31 L330,187.58 L331,183.86 L332,180.14 L333,176.44 L334,172.76 L335,169.12 L336,165.52 L337,161.97 L338,158.48 L339,155.05 L340,151.69 L341,148.41 L342,145.21 L343,142.11 L344,139.11 L345,136.20 L346,133.41 L347,130.74 L348,128.19 L349,125.77 L350,123.49 L351,121.35 L352,119.37 L353,117.53 L354,115.86 L355,114.34 L356,112.98 L357,111.78 L358,110.73 L359,109.83 L360,109.10 L361,108.51 L362,108.08 L363,107.80 L364,107.67 L365,107.70 L366,107.88 L367,108.20 L368,108.67 L369,109.28 L370,110.03 L371,110.90 L372,111.90 L373,113.03 L374,114.27 L375,115.62 L376,117.08 L377,118.65 L378,120.32 L379,122.08 L380,123.93 L381,125.87 L382,127.90 L383,130.00 L384,132.17 L385,134.41 L386,136.72 L387,139.09 L388,141.51 L389,143.98 L390,146.51 L391,149.07 L392,151.67 L393,154.31 L394,156.97 L395,159.66 L396,162.37 L397,165.10 L398,167.85 L399,170.61 L400,173.37 L401,176.15 L402,178.93 L403,181.72 L404,184.51 L405,187.30 L406,190.09 L407,192.88 L408,195.66 L409,198.44 L410,201.21 L411,203.97 L412,206.72 L413,209.45 L414,212.17 L415,214.88 L416,217.56 L417,220.23 L418,222.87 L419,225.49 L420,228.09 L421,230.66 L422,233.19 L423,235.69 L424,238.15 L425,240.58 L426,242.95 L427,245.29 L428,247.57 L429,249.80 L430,251.97 L431,254.09 L432,256.16 L433,258.17 L434,260.13 L435,262.02 L436,263.86 L437,265.64 L438,267.36 L439,269.02 L440,270.62 L441,272.18 L442,273.68 L443,275.14 L444,276.55 L445,277.91 L446,279.23 L447,280.52 L448,281.76 L449,282.97 L450,284.14 L451,285.28 L452,286.39 L453,287.47 L454,288.52 L455,289.55 L456,290.55 L457,291.53 L458,292.49 L459,293.42 L460,294.32 L461,295.20 L462,296.06 L463,296.90 L464,297.71 L465,298.50 L466,299.26 L467,300.00 L468,300.72 L469,301.42 L470,302.09 L471,302.74 L472,303.37 L473,303.97 L474,304.55 L475,305.10 L476,305.62 L477,306.13 L478,306.60 L479,307.05 L480,307.47 L481,307.86 L482,308.23 L483,308.56 L484,308.87 L485,309.14 L486,309.39 L487,309.60 L488,309.77 L489,309.91 L490,310.02 L491,310.09 L492,310.12 L493,310.11 L494,310.06 L495,309.97 L496,309.85 L497,309.67 L498,309.46 L499,309.20 L500,308.89 L501,308.54 L502,308.14 L503,307.69 L504,307.19 L505,306.63 L506,306.03 L507,305.38 L508,304.69 L509,303.94 L510,303.16 L511,302.32 L512,301.45 L513,300.53 L514,299.57 L515,298.57 L516,297.53 L517,296.45 L518,295.34 L519,294.18 L520,293.00 L521,291.78 L522,290.52 L523,289.23 L524,287.92 L525,286.58 L526,285.22 L527,283.84 L528,282.45 L529,281.05 L530,279.64 L531,278.23 L532,276.82 L533,275.42 L534,274.03 L535,272.65 L536,271.28 L537,269.94 L538,268.62 L539,267.32 L540,266.06 L541,264.83 L542,263.64 L543,262.49 L544,261.38 L545,260.31 L546,259.30 L547,258.33 L548,257.42 L549,256.56 L550,255.76 L551,255.03 L552,254.36 L553,253.76 L554,253.22 L555,252.77 L556,252.38 L557,252.08 L558,251.85 L559,251.69 L560,251.61 L561,251.61 L562,251.68 L563,251.82 L564,252.04 L565,252.34 L566,252.70 L567,253.15 L568,253.67 L569,254.26 L570,254.93 L571,255.67 L572,256.48 L573,257.37 L574,258.34 L575,259.37 L576,260.48 L577,261.67 L578,262.93 L579,264.25 L580,265.65 L581,267.11 L582,268.63 L583,270.22 L584,271.86 L585,273.57 L586,275.33 L587,277.14 L588,279.00 L589,280.91 L590,282.86 L591,284.86 L592,286.90 L593,288.99 L594,291.10 L595,293.26 L596,295.44 L597,297.66 L598,299.91 L599,302.19 L600,304.49 L601,306.81 L602,309.16 L603,311.53 L604,313.91 L605,316.32 L606,318.74 L607,321.17 L608,323.61 L609,326.07 L610,328.54 L611,331.01 L612,333.50 L613,336.00 L614,338.50 L615,341.02 L616,343.55 L617,346.09 L618,348.64 L619,351.19 L620,353.77 L621,356.35 L622,358.95 L623,361.56 L624,364.18 L625,366.82 L626,369.47 L627,372.13 L628,374.82 L629,377.51 L630,380.23 L631,382.96 L632,385.71 L633,388.47 L634,391.26 L635,394.06 L636,396.88 L637,399.73 L638,402.59 L639,405.47 L640,408.37 L641,411.29 L642,414.23 L643,417.19 L644,420.15 L645,423.12 L646,426.10 L647,429.07 L648,432.03 L649,434.99 L650,437.94 L651,440.86 L652,443.77 L653,446.65 L654,449.50 L655,452.32 L656,455.11 L657,457.86 L658,460.57 L659,463.24 L660,465.87 L661,468.46 L662,471.01 L663,473.51 L664,475.97 L665,478.40 L666,480.77 L667,483.11 L668,485.41 L669,487.66 L670,489.87 L671,492.04 L672,494.16 L673,496.25 L674,498.30 L675,500.30 L676,502.27 L677,504.20 L678,506.10 L679,507.95 L680,509.77 L681,511.56 L682,513.31 L683,515.03 L684,516.71 L685,518.36 L686,519.98 L687,521.57 L688,523.13 L689,524.66 L690,526.16 L691,527.63 L692,529.08 L693,530.50 L694,531.89 L695,533.26 L696,534.60 L697,535.92 L698,537.21 L699,538.48 L700,539.73 L701,540.96 L702,542.17 L703,543.35 L704,544.51 L705,545.66 L706,546.78 L707,547.88 L708,548.97 L709,550.03 L710,551.07 L711,552.09 L712,553.10 L713,554.08 L714,555.05 L715,556.00 L716,556.92 L717,557.83 L718,558.73 L719,559.60 L720,560.46 L721,561.30 L722,562.12 L723,562.92 L724,563.71 L725,564.48 L726,565.24 L727,565.98 L728,566.70 L729,567.41 L730,568.10 L731,568.77 L732,569.43 L733,570.08 L734,570.71 L735,571.33 L736,571.93 L737,572.52 L738,573.09 L739,573.65 L740,574.20 L741,574.73 L742,575.25 L743,575.76 L744,576.25 L745,576.73 L746,577.20 L747,577.66 L748,578.10 L749,578.54 L750,578.96 L751,579.37 L752,579.77 L753,580.16 L754,580.53 L755,580.90 L756,581.25 L757,581.60 L758,581.94 L759,582.26 L760,582.58 L761,582.89 L762,583.18 L763,583.47 L764,583.75 L765,584.02 L766,584.28 L767,584.54 L768,584.79 L769,585.02 L770,585.26 L771,585.48 L772,585.70 L773,585.90 L774,586.11 L775,586.30 L776,586.49 L777,586.67 L778,586.85 L779,587.02 L780,587.19 L781,587.35 L782,587.50 L783,587.65 L784,587.80 L785,587.94 L786,588.07 L787,588.21 L788,588.33 L789,588.46 L790,588.58 L791,588.69 L792,588.81 L793,588.92 L794,589.02 L795,589.13 L796,589.23 L797,589.33 L798,589.43 L799,589.52 L800,589.62 L801,589.71 L802,589.80 L803,589.89 L804,589.98 L805,590.07 L806,590.16 L807,590.25 L808,590.34 L809,590.42 L810,590.51 L811,590.60 L812,590.69 L813,590.78 L814,590.87 L815,590.96 L816,591.06 L817,591.16 L818,591.25 L819,591.35 L820,591.46 L821,591.56 L822,591.67 L823,591.78 L824,591.89"/>
<path d="M137,311.09 L138,311.45 L139,311.83 L140,312.21 L141,312.59 L142,312.98 L143,313.38 L144,313.78 L145,314.18 L146,314.60 L147,315.01 L148,315.43 L149,315.85 L150,316.28 L151,316.71 L152,317.15 L153,317.59 L154,318.03 L155,318.47 L156,318.92 L157,319.37 L158,319.82 L159,320.27 L160,320.73 L161,321.19 L162,321.65 L163,322.11 L164,322.57 L165,323.03 L166,323.49 L167,323.96 L168,324.42 L169,324.88 L170,325.35 L171,325.81 L172,326.27 L173,326.74 L174,327.20 L175,327.66 L176,328.11 L177,328.57 L178,329.03 L179,329.48 L180,329.93 L181,330.38 L182,330.83 L183,331.27 L184,331.71 L185,332.15 L186,332.58 L187,333.01 L188,333.44 L189,333.86 L190,334.28 L191,334.69 L192,335.10 L193,335.51 L194,335.91 L195,336.30 L196,336.69 L197,337.07 L198,337.45 L199,337.82 L200,338.19 L201,338.55 L202,338.90 L203,339.25 L204,339.58 L205,339.92 L206,340.24 L207,340.56 L208,340.86 L209,341.16 L210,341.46 L211,341.74 L212,342.02 L213,342.28 L214,342.54 L215,342.79 L216,343.02 L217,343.25 L218,343.47 L219,343.68 L220,343.88 L221,344.07 L222,344.24 L223,344.41 L224,344.57 L225,344.71 L226,344.84 L227,344.96 L228,345.07 L229,345.17 L230,345.25 L231,345.32 L232,345.38 L233,345.43 L234,345.46 L235,345.48 L236,345.49 L237,345.48 L238,345.46 L239,345.43 L240,345.38 L241,345.31 L242,345.23 L243,345.14 L244,345.03 L245,344.90 L246,344.76 L247,344.61 L248,344.44 L249,344.25 L250,344.04 L251,343.82 L252,343.59 L253,343.33 L254,343.06 L255,342.76 L256,342.45 L257,342.11 L258,341.75 L259,341.37 L260,340.95 L261,340.52 L262,340.05 L263,339.56 L264,339.04 L265,338.48 L266,337.89 L267,337.27 L268,336.62 L269,335.93 L270,335.20 L271,334.43 L272,333.63 L273,332.78 L274,331.90 L275,330.97 L276,329.99 L277,328.98 L278,327.91 L279,326.80 L280,325.64 L281,324.43 L282,323.17 L283,321.84 L284,320.46 L285,319.02 L286,317.52 L287,315.95 L288,314.31 L289,312.60 L290,310.82 L291,308.97 L292,307.04 L293,305.03 L294,302.94 L295,300.77 L296,298.52 L297,296.19 L298,293.78 L299,291.30 L300,288.75 L301,286.13 L302,283.45 L303,280.72 L304,277.93 L305,275.09 L306,272.20 L307,269.28 L308,266.32 L309,263.32 L310,260.29 L311,257.24 L312,254.15 L313,251.03 L314,247.88 L315,244.69 L316,241.46 L317,238.19 L318,234.88 L319,231.53 L320,228.13 L321,224.69 L322,221.21 L323,217.68 L324,214.12 L325,210.53 L326,206.91 L327,203.25 L328,199.58 L329,195.89 L330,192.19 L331,188.49 L332,184.80 L333,181.13 L334,177.48 L335,173.86 L336,170.28 L337,166.75 L338,163.27 L339,159.86 L340,156.52 L341,153.26 L342,150.08 L343,146.99 L344,144.00 L345,141.11 L346,138.33 L347,135.68 L348,133.14 L349,130.74 L350,128.48 L351,126.36 L352,124.39 L353,122.58 L354,120.93 L355,119.44 L356,118.10 L357,116.92 L358,115.90 L359,115.03 L360,114.31 L361,113.75 L362,113.34 L363,113.08 L364,112.97 L365,113.01 L366,113.20 L367,113.53 L368,114.01 L369,114.62 L370,115.36 L371,116.23 L372,117.23 L373,118.35 L374,119.58 L375,120.92 L376,122.37 L377,123.92 L378,125.57 L379,127.32 L380,129.15 L381,131.07 L382,133.07 L383,135.15 L384,137.30 L385,139.52 L386,141.81 L387,144.15 L388,146.55 L389,149.00 L390,151.50 L391,154.04 L392,156.62 L393,159.23 L394,161.87 L395,164.54 L396,167.23 L397,169.94 L398,172.67 L399,175.41 L400,178.16 L401,180.92 L402,183.69 L403,186.46 L404,189.23 L405,192.01 L406,194.78 L407,197.56 L408,200.32 L409,203.09 L410,205.84 L411,208.58 L412,211.32 L413,214.04 L414,216.74 L415,219.43 L416,222.10 L417,224.75 L418,227.38 L419,229.98 L420,232.56 L421,235.11 L422,237.62 L423,240.10 L424,242.55 L425,244.95 L426,247.30 L427,249.62 L428,251.88 L429,254.08 L430,256.24 L431,258.35 L432,260.40 L433,262.39 L434,264.33 L435,266.21 L436,268.04 L437,269.80 L438,271.51 L439,273.17 L440,274.77 L441,276.32 L442,277.82 L443,279.28 L444,280.69 L445,282.05 L446,283.37 L447,284.66 L448,285.90 L449,287.11 L450,288.28 L451,289.42 L452,290.53 L453,291.61 L454,292.66 L455,293.69 L456,294.69 L457,295.66 L458,296.61 L459,297.53 L460,298.43 L461,299.31 L462,300.16 L463,300.98 L464,301.78 L465,302.56 L466,303.32 L467,304.05 L468,304.76 L469,305.44 L470,306.11 L471,306.74 L472,307.36 L473,307.95 L474,308.52 L475,309.06 L476,309.57 L477,310.06 L478,310.53 L479,310.96 L480,311.38 L481,311.76 L482,312.11 L483,312.44 L484,312.74 L485,313.00 L486,313.24 L487,313.44 L488,313.61 L489,313.74 L490,313.84 L491,313.91 L492,313.93 L493,313.93 L494,313.88 L495,313.79 L496,313.67 L497,313.50 L498,313.29 L499,313.04 L500,312.74 L501,312.40 L502,312.01 L503,311.58 L504,311.09 L505,310.56 L506,309.98 L507,309.35 L508,308.68 L509,307.96 L510,307.20 L511,306.39 L512,305.54 L513,304.65 L514,303.72 L515,302.74 L516,301.73 L517,300.67 L518,299.58 L519,298.45 L520,297.29 L521,296.09 L522,294.85 L523,293.58 L524,292.28 L525,290.95 L526,289.60 L527,288.24 L528,286.85 L529,285.46 L530,284.05 L531,282.64 L532,281.24 L533,279.83 L534,278.43 L535,277.05 L536,275.68 L537,274.32 L538,272.99 L539,271.68 L540,270.41 L541,269.16 L542,267.95 L543,266.78 L544,265.65 L545,264.57 L546,263.53 L547,262.54 L548,261.61 L549,260.73 L550,259.91 L551,259.15 L552,258.45 L553,257.83 L554,257.27 L555,256.79 L556,256.39 L557,256.06 L558,255.81 L559,255.63 L560,255.53 L561,255.50 L562,255.55 L563,255.67 L564,255.86 L565,256.13 L566,256.48 L567,256.90 L568,257.39 L569,257.95 L570,258.59 L571,259.30 L572,260.09 L573,260.94 L574,261.87 L575,262.87 L576,263.94 L577,265.08 L578,266.30 L579,267.58 L580,268.93 L581,270.34 L582,271.82 L583,273.35 L584,274.94 L585,276.59 L586,278.30 L587,280.06 L588,281.86 L589,283.72 L590,285.62 L591,287.56 L592,289.55 L593,291.58 L594,293.64 L595,295.74 L596,297.87 L597,300.04 L598,302.24 L599,304.46 L600,306.72 L601,308.99 L602,311.29 L603,313.62 L604,315.96 L605,318.33 L606,320.71 L607,323.10 L608,325.51 L609,327.94 L610,330.37 L611,332.82 L612,335.28 L613,337.75 L614,340.23 L615,342.73 L616,345.23 L617,347.75 L618,350.28 L619,352.82 L620,355.37 L621,357.94 L622,360.52 L623,363.11 L624,365.72 L625,368.35 L626,370.98 L627,373.64 L628,376.31 L629,378.99 L630,381.70 L631,384.42 L632,387.15 L633,389.91 L634,392.68 L635,395.47 L636,398.28 L637,401.11 L638,403.96 L639,406.83 L640,409.72 L641,412.63 L642,415.56 L643,418.50 L644,421.45 L645,424.41 L646,427.37 L647,430.33 L648,433.28 L649,436.22 L650,439.16 L651,442.07 L652,444.97 L653,447.84 L654,450.68 L655,453.49 L656,456.27 L657,459.02 L658,461.72 L659,464.38 L660,467.01 L661,469.59 L662,472.13 L663,474.62 L664,477.08 L665,479.49 L666,481.86 L667,484.20 L668,486.48 L669,488.73 L670,490.94 L671,493.10 L672,495.23 L673,497.31 L674,499.35 L675,501.36 L676,503.33 L677,505.26 L678,507.15 L679,509.01 L680,510.83 L681,512.62 L682,514.37 L683,516.09 L684,517.77 L685,519.43 L686,521.05 L687,522.64 L688,524.21 L689,525.74 L690,527.24 L691,528.72 L692,530.17 L693,531.59 L694,532.98 L695,534.35 L696,535.70 L697,537.02 L698,538.31 L699,539.59 L700,540.84 L701,542.07 L702,543.28 L703,544.46 L704,545.63 L705,546.77 L706,547.90 L707,549.00 L708,550.08 L709,551.14 L710,552.18 L711,553.21 L712,554.21 L713,555.19 L714,556.16 L715,557.10 L716,558.03 L717,558.94 L718,559.83 L719,560.70 L720,561.55 L721,562.39 L722,563.21 L723,564.01 L724,564.79 L725,565.56 L726,566.31 L727,567.04 L728,567.76 L729,568.46 L730,569.15 L731,569.82 L732,570.48 L733,571.12 L734,571.74 L735,572.35 L736,572.95 L737,573.53 L738,574.10 L739,574.65 L740,575.19 L741,575.72 L742,576.23 L743,576.73 L744,577.22 L745,577.69 L746,578.16 L747,578.61 L748,579.04 L749,579.47 L750,579.88 L751,580.28 L752,580.68 L753,581.06 L754,581.43 L755,581.78 L756,582.13 L757,582.47 L758,582.80 L759,583.12 L760,583.42 L761,583.72 L762,584.01 L763,584.29 L764,584.56 L765,584.83 L766,585.08 L767,585.33 L768,585.57 L769,585.80 L770,586.02 L771,586.24 L772,586.45 L773,586.65 L774,586.84 L775,587.03 L776,587.21 L777,587.39 L778,587.56 L779,587.72 L780,587.88 L781,588.03 L782,588.18 L783,588.32 L784,588.46 L785,588.59 L786,588.72 L787,588.85 L788,588.97 L789,589.08 L790,589.20 L791,589.31 L792,589.41 L793,589.52 L794,589.62 L795,589.72 L796,589.82 L797,589.91 L798,590.00 L799,590.09 L800,590.18 L801,590.27 L802,590.36 L803,590.44 L804,590.53 L805,590.61 L806,590.70 L807,590.78 L808,590.87 L809,590.95 L810,591.04 L811,591.13 L812,591.21 L813,591.30 L814,591.39 L815,591.48 L816,591.58 L817,591.67 L818,591.77 L819,591.87 L820,591.97 L821,592.08 L822,592.18 L823,592.30 L824,592.41"/>
<path d="M137,319.40 L138,319.74 L139,320.08 L140,320.43 L141,320.79 L142,321.16 L143,321.53 L144,321.90 L145,322.28 L146,322.67 L147,323.06 L148,323.46 L149,323.86 L150,324.27 L151,324.68 L152,325.09 L153,325.51 L154,325.93 L155,326.36 L156,326.78 L157,327.21 L158,327.65 L159,328.08 L160,328.52 L161,328.96 L162,329.41 L163,329.85 L164,330.30 L165,330.74 L166,331.19 L167,331.64 L168,332.09 L169,332.54 L170,332.99 L171,333.44 L172,333.89 L173,334.34 L174,334.79 L175,335.24 L176,335.69 L177,336.14 L178,336.58 L179,337.02 L180,337.47 L181,337.91 L182,338.34 L183,338.78 L184,339.21 L185,339.64 L186,340.07 L187,340.49 L188,340.91 L189,341.32 L190,341.74 L191,342.14 L192,342.55 L193,342.95 L194,343.34 L195,343.73 L196,344.11 L197,344.49 L198,344.86 L199,345.23 L200,345.59 L201,345.95 L202,346.30 L203,346.64 L204,346.97 L205,347.30 L206,347.62 L207,347.93 L208,348.24 L209,348.54 L210,348.83 L211,349.11 L212,349.38 L213,349.64 L214,349.90 L215,350.14 L216,350.38 L217,350.61 L218,350.82 L219,351.03 L220,351.23 L221,351.41 L222,351.59 L223,351.75 L224,351.91 L225,352.05 L226,352.18 L227,352.30 L228,352.41 L229,352.50 L230,352.59 L231,352.66 L232,352.72 L233,352.76 L234,352.79 L235,352.81 L236,352.82 L237,352.81 L238,352.78 L239,352.75 L240,352.70 L241,352.63 L242,352.55 L243,352.45 L244,352.34 L245,352.22 L246,352.08 L247,351.92 L248,351.74 L249,351.55 L250,351.35 L251,351.12 L252,350.88 L253,350.63 L254,350.35 L255,350.05 L256,349.74 L257,349.40 L258,349.03 L259,348.65 L260,348.24 L261,347.80 L262,347.33 L263,346.84 L264,346.31 L265,345.76 L266,345.17 L267,344.55 L268,343.90 L269,343.21 L270,342.48 L271,341.72 L272,340.92 L273,340.08 L274,339.20 L275,338.28 L276,337.31 L277,336.30 L278,335.25 L279,334.15 L280,333.00 L281,331.80 L282,330.56 L283,329.25 L284,327.90 L285,326.48 L286,325.01 L287,323.48 L288,321.88 L289,320.22 L290,318.50 L291,316.70 L292,314.84 L293,312.91 L294,310.91 L295,308.84 L296,306.69 L297,304.48 L298,302.19 L299,299.84 L300,297.43 L301,294.96 L302,292.43 L303,289.84 L304,287.20 L305,284.52 L306,281.78 L307,279.00 L308,276.18 L309,273.32 L310,270.42 L311,267.49 L312,264.52 L313,261.51 L314,258.46 L315,255.37 L316,252.25 L317,249.08 L318,245.87 L319,242.61 L320,239.32 L321,235.98 L322,232.60 L323,229.18 L324,225.72 L325,222.23 L326,218.70 L327,215.14 L328,211.55 L329,207.95 L330,204.33 L331,200.71 L332,197.09 L333,193.48 L334,189.90 L335,186.34 L336,182.82 L337,179.34 L338,175.92 L339,172.55 L340,169.25 L341,166.03 L342,162.89 L343,159.84 L344,156.89 L345,154.04 L346,151.30 L347,148.69 L348,146.19 L349,143.84 L350,141.62 L351,139.55 L352,137.63 L353,135.88 L354,134.29 L355,132.86 L356,131.59 L357,130.48 L358,129.52 L359,128.72 L360,128.06 L361,127.56 L362,127.21 L363,127.00 L364,126.93 L365,127.01 L366,127.23 L367,127.58 L368,128.07 L369,128.69 L370,129.43 L371,130.30 L372,131.28 L373,132.38 L374,133.58 L375,134.89 L376,136.31 L377,137.82 L378,139.43 L379,141.13 L380,142.91 L381,144.78 L382,146.72 L383,148.74 L384,150.83 L385,152.99 L386,155.21 L387,157.49 L388,159.83 L389,162.22 L390,164.65 L391,167.13 L392,169.65 L393,172.20 L394,174.79 L395,177.40 L396,180.04 L397,182.70 L398,185.38 L399,188.08 L400,190.78 L401,193.50 L402,196.22 L403,198.95 L404,201.68 L405,204.42 L406,207.15 L407,209.89 L408,212.61 L409,215.34 L410,218.05 L411,220.75 L412,223.45 L413,226.13 L414,228.79 L415,231.44 L416,234.06 L417,236.67 L418,239.25 L419,241.81 L420,244.34 L421,246.83 L422,249.30 L423,251.73 L424,254.12 L425,256.47 L426,258.77 L427,261.03 L428,263.24 L429,265.39 L430,267.50 L431,269.55 L432,271.55 L433,273.50 L434,275.40 L435,277.25 L436,279.04 L437,280.78 L438,282.47 L439,284.11 L440,285.70 L441,287.24 L442,288.73 L443,290.19 L444,291.59 L445,292.96 L446,294.28 L447,295.57 L448,296.81 L449,298.03 L450,299.20 L451,300.34 L452,301.45 L453,302.53 L454,303.57 L455,304.59 L456,305.58 L457,306.54 L458,307.48 L459,308.39 L460,309.27 L461,310.12 L462,310.95 L463,311.75 L464,312.53 L465,313.28 L466,314.01 L467,314.72 L468,315.40 L469,316.05 L470,316.69 L471,317.30 L472,317.88 L473,318.45 L474,318.98 L475,319.50 L476,319.98 L477,320.44 L478,320.88 L479,321.29 L480,321.67 L481,322.03 L482,322.36 L483,322.66 L484,322.93 L485,323.17 L486,323.39 L487,323.57 L488,323.72 L489,323.84 L490,323.93 L491,323.98 L492,324.00 L493,323.99 L494,323.94 L495,323.86 L496,323.74 L497,323.59 L498,323.40 L499,323.16 L500,322.89 L501,322.58 L502,322.23 L503,321.83 L504,321.39 L505,320.91 L506,320.38 L507,319.81 L508,319.20 L509,318.55 L510,317.85 L511,317.11 L512,316.33 L513,315.51 L514,314.65 L515,313.74 L516,312.80 L517,311.81 L518,310.78 L519,309.71 L520,308.61 L521,307.46 L522,306.27 L523,305.04 L524,303.78 L525,302.49 L526,301.17 L527,299.82 L528,298.46 L529,297.08 L530,295.68 L531,294.28 L532,292.87 L533,291.46 L534,290.05 L535,288.65 L536,287.26 L537,285.88 L538,284.52 L539,283.18 L540,281.87 L541,280.58 L542,279.33 L543,278.11 L544,276.93 L545,275.79 L546,274.69 L547,273.65 L548,272.65 L549,271.71 L550,270.83 L551,270.01 L552,269.25 L553,268.57 L554,267.95 L555,267.41 L556,266.94 L557,266.56 L558,266.24 L559,266.01 L560,265.85 L561,265.76 L562,265.75 L563,265.81 L564,265.94 L565,266.15 L566,266.43 L567,266.78 L568,267.20 L569,267.69 L570,268.25 L571,268.88 L572,269.58 L573,270.35 L574,271.18 L575,272.08 L576,273.05 L577,274.09 L578,275.19 L579,276.35 L580,277.58 L581,278.86 L582,280.21 L583,281.61 L584,283.06 L585,284.57 L586,286.14 L587,287.75 L588,289.41 L589,291.12 L590,292.88 L591,294.68 L592,296.52 L593,298.40 L594,300.32 L595,302.28 L596,304.28 L597,306.31 L598,308.37 L599,310.47 L600,312.59 L601,314.75 L602,316.93 L603,319.13 L604,321.37 L605,323.62 L606,325.90 L607,328.20 L608,330.52 L609,332.85 L610,335.21 L611,337.58 L612,339.96 L613,342.37 L614,344.79 L615,347.22 L616,349.67 L617,352.13 L618,354.61 L619,357.10 L620,359.61 L621,362.13 L622,364.67 L623,367.22 L624,369.79 L625,372.38 L626,374.98 L627,377.60 L628,380.24 L629,382.89 L630,385.57 L631,388.25 L632,390.96 L633,393.69 L634,396.43 L635,399.19 L636,401.97 L637,404.77 L638,407.58 L639,410.42 L640,413.27 L641,416.15 L642,419.04 L643,421.95 L644,424.86 L645,427.78 L646,430.71 L647,433.64 L648,436.56 L649,439.47 L650,442.38 L651,445.26 L652,448.13 L653,450.98 L654,453.80 L655,456.59 L656,459.34 L657,462.07 L658,464.75 L659,467.39 L660,470.00 L661,472.56 L662,475.07 L663,477.55 L664,479.99 L665,482.38 L666,484.74 L667,487.05 L668,489.33 L669,491.56 L670,493.76 L671,495.91 L672,498.03 L673,500.10 L674,502.14 L675,504.14 L676,506.11 L677,508.04 L678,509.93 L679,511.79 L680,513.61 L681,515.40 L682,517.16 L683,518.89 L684,520.58 L685,522.24 L686,523.87 L687,525.47 L688,527.04 L689,528.58 L690,530.09 L691,531.57 L692,533.03 L693,534.46 L694,535.86 L695,537.24 L696,538.59 L697,539.92 L698,541.22 L699,542.50 L700,543.76 L701,545.00 L702,546.21 L703,547.40 L704,548.56 L705,549.71 L706,550.84 L707,551.94 L708,553.02 L709,554.08 L710,555.12 L711,556.14 L712,557.14 L713,558.12 L714,559.08 L715,560.02 L716,560.94 L717,561.84 L718,562.73 L719,563.59 L720,564.44 L721,565.26 L722,566.07 L723,566.86 L724,567.64 L725,568.40 L726,569.14 L727,569.86 L728,570.56 L729,571.25 L730,571.93 L731,572.58 L732,573.23 L733,573.85 L734,574.46 L735,575.06 L736,575.64 L737,576.20 L738,576.75 L739,577.29 L740,577.81 L741,578.32 L742,578.82 L743,579.30 L744,579.77 L745,580.23 L746,580.67 L747,581.10 L748,581.52 L749,581.92 L750,582.32 L751,582.70 L752,583.07 L753,583.43 L754,583.78 L755,584.12 L756,584.45 L757,584.76 L758,585.07 L759,585.37 L760,585.65 L761,585.93 L762,586.20 L763,586.46 L764,586.71 L765,586.95 L766,587.19 L767,587.41 L768,587.63 L769,587.84 L770,588.04 L771,588.23 L772,588.42 L773,588.60 L774,588.78 L775,588.94 L776,589.11 L777,589.26 L778,589.41 L779,589.56 L780,589.69 L781,589.83 L782,589.96 L783,590.08 L784,590.20 L785,590.31 L786,590.42 L787,590.53 L788,590.64 L789,590.74 L790,590.83 L791,590.93 L792,591.02 L793,591.11 L794,591.19 L795,591.28 L796,591.36 L797,591.44 L798,591.52 L799,591.60 L800,591.67 L801,591.75 L802,591.82 L803,591.90 L804,591.97 L805,592.05 L806,592.12 L807,592.20 L808,592.28 L809,592.35 L810,592.43 L811,592.51 L812,592.59 L813,592.68 L814,592.76 L815,592.85 L816,592.94 L817,593.03 L818,593.13 L819,593.23 L820,593.33 L821,593.44 L822,593.55 L823,593.66 L824,593.78"/>
<path d="M137,332.01 L138,332.30 L139,332.61 L140,332.92 L141,333.24 L142,333.56 L143,333.89 L144,334.23 L145,334.57 L146,334.92 L147,335.28 L148,335.64 L149,336.01 L150,336.38 L151,336.76 L152,337.14 L153,337.53 L154,337.92 L155,338.32 L156,338.72 L157,339.12 L158,339.53 L159,339.93 L160,340.35 L161,340.76 L162,341.18 L163,341.60 L164,342.02 L165,342.45 L166,342.87 L167,343.30 L168,343.73 L169,344.16 L170,344.59 L171,345.02 L172,345.46 L173,345.89 L174,346.32 L175,346.75 L176,347.18 L177,347.61 L178,348.04 L179,348.47 L180,348.90 L181,349.32 L182,349.75 L183,350.17 L184,350.59 L185,351.01 L186,351.42 L187,351.83 L188,352.24 L189,352.65 L190,353.05 L191,353.45 L192,353.84 L193,354.23 L194,354.62 L195,355.00 L196,355.37 L197,355.74 L198,356.11 L199,356.47 L200,356.82 L201,357.17 L202,357.51 L203,357.85 L204,358.18 L205,358.50 L206,358.82 L207,359.13 L208,359.43 L209,359.72 L210,360.01 L211,360.28 L212,360.55 L213,360.81 L214,361.06 L215,361.31 L216,361.54 L217,361.76 L218,361.98 L219,362.18 L220,362.37 L221,362.56 L222,362.73 L223,362.89 L224,363.05 L225,363.19 L226,363.32 L227,363.43 L228,363.54 L229,363.63 L230,363.71 L231,363.78 L232,363.84 L233,363.88 L234,363.91 L235,363.93 L236,363.93 L237,363.92 L238,363.90 L239,363.86 L240,363.80 L241,363.74 L242,363.65 L243,363.56 L244,363.44 L245,363.31 L246,363.17 L247,363.01 L248,362.83 L249,362.64 L250,362.43 L251,362.20 L252,361.96 L253,361.70 L254,361.42 L255,361.12 L256,360.79 L257,360.45 L258,360.09 L259,359.70 L260,359.28 L261,358.84 L262,358.37 L263,357.88 L264,357.35 L265,356.80 L266,356.21 L267,355.60 L268,354.95 L269,354.26 L270,353.54 L271,352.78 L272,351.99 L273,351.16 L274,350.28 L275,349.37 L276,348.42 L277,347.42 L278,346.38 L279,345.30 L280,344.17 L281,342.99 L282,341.77 L283,340.50 L284,339.17 L285,337.80 L286,336.38 L287,334.90 L288,333.37 L289,331.78 L290,330.14 L291,328.44 L292,326.68 L293,324.87 L294,323.00 L295,321.07 L296,319.08 L297,317.04 L298,314.95 L299,312.80 L300,310.60 L301,308.35 L302,306.04 L303,303.69 L304,301.28 L305,298.82 L306,296.31 L307,293.75 L308,291.15 L309,288.49 L310,285.79 L311,283.04 L312,280.25 L313,277.41 L314,274.52 L315,271.59 L316,268.62 L317,265.60 L318,262.54 L319,259.44 L320,256.29 L321,253.11 L322,249.88 L323,246.62 L324,243.31 L325,239.97 L326,236.59 L327,233.17 L328,229.72 L329,226.24 L330,222.75 L331,219.24 L332,215.73 L333,212.23 L334,208.74 L335,205.28 L336,201.84 L337,198.45 L338,195.10 L339,191.81 L340,188.58 L341,185.42 L342,182.34 L343,179.35 L344,176.45 L345,173.66 L346,170.98 L347,168.43 L348,166.00 L349,163.70 L350,161.55 L351,159.56 L352,157.73 L353,156.06 L354,154.56 L355,153.23 L356,152.06 L357,151.05 L358,150.19 L359,149.49 L360,148.93 L361,148.52 L362,148.25 L363,148.11 L364,148.12 L365,148.25 L366,148.51 L367,148.90 L368,149.41 L369,150.04 L370,150.78 L371,151.63 L372,152.59 L373,153.66 L374,154.83 L375,156.10 L376,157.46 L377,158.91 L378,160.45 L379,162.08 L380,163.79 L381,165.57 L382,167.43 L383,169.36 L384,171.37 L385,173.43 L386,175.56 L387,177.74 L388,179.98 L389,182.27 L390,184.61 L391,187.00 L392,189.43 L393,191.89 L394,194.39 L395,196.92 L396,199.48 L397,202.06 L398,204.67 L399,207.29 L400,209.93 L401,212.58 L402,215.24 L403,217.90 L404,220.57 L405,223.25 L406,225.92 L407,228.59 L408,231.26 L409,233.92 L410,236.58 L411,239.22 L412,241.85 L413,244.47 L414,247.07 L415,249.65 L416,252.21 L417,254.75 L418,257.26 L419,259.75 L420,262.21 L421,264.63 L422,267.02 L423,269.37 L424,271.68 L425,273.95 L426,276.17 L427,278.35 L428,280.47 L429,282.55 L430,284.58 L431,286.56 L432,288.49 L433,290.37 L434,292.20 L435,293.99 L436,295.74 L437,297.44 L438,299.10 L439,300.71 L440,302.28 L441,303.81 L442,305.29 L443,306.74 L444,308.14 L445,309.51 L446,310.84 L447,312.12 L448,313.38 L449,314.59 L450,315.77 L451,316.91 L452,318.02 L453,319.09 L454,320.13 L455,321.14 L456,322.12 L457,323.06 L458,323.97 L459,324.85 L460,325.71 L461,326.53 L462,327.32 L463,328.09 L464,328.83 L465,329.55 L466,330.23 L467,330.90 L468,331.54 L469,332.15 L470,332.74 L471,333.31 L472,333.85 L473,334.37 L474,334.86 L475,335.33 L476,335.78 L477,336.20 L478,336.59 L479,336.96 L480,337.30 L481,337.61 L482,337.90 L483,338.16 L484,338.40 L485,338.60 L486,338.78 L487,338.94 L488,339.06 L489,339.16 L490,339.23 L491,339.27 L492,339.28 L493,339.26 L494,339.21 L495,339.14 L496,339.03 L497,338.89 L498,338.72 L499,338.52 L500,338.29 L501,338.02 L502,337.72 L503,337.39 L504,337.02 L505,336.61 L506,336.17 L507,335.69 L508,335.17 L509,334.61 L510,334.02 L511,333.38 L512,332.71 L513,331.99 L514,331.23 L515,330.43 L516,329.59 L517,328.71 L518,327.77 L519,326.80 L520,325.78 L521,324.71 L522,323.60 L523,322.44 L524,321.23 L525,319.99 L526,318.71 L527,317.40 L528,316.07 L529,314.70 L530,313.32 L531,311.93 L532,310.52 L533,309.10 L534,307.68 L535,306.25 L536,304.83 L537,303.42 L538,302.01 L539,300.63 L540,299.26 L541,297.91 L542,296.59 L543,295.29 L544,294.03 L545,292.81 L546,291.63 L547,290.50 L548,289.41 L549,288.38 L550,287.41 L551,286.49 L552,285.64 L553,284.86 L554,284.15 L555,283.52 L556,282.96 L557,282.48 L558,282.08 L559,281.76 L560,281.51 L561,281.33 L562,281.23 L563,281.19 L564,281.23 L565,281.34 L566,281.52 L567,281.77 L568,282.08 L569,282.46 L570,282.90 L571,283.41 L572,283.98 L573,284.61 L574,285.31 L575,286.06 L576,286.87 L577,287.74 L578,288.67 L579,289.66 L580,290.70 L581,291.79 L582,292.93 L583,294.13 L584,295.38 L585,296.68 L586,298.03 L587,299.43 L588,300.87 L589,302.36 L590,303.89 L591,305.47 L592,307.10 L593,308.76 L594,310.47 L595,312.21 L596,314.00 L597,315.82 L598,317.68 L599,319.58 L600,321.51 L601,323.47 L602,325.47 L603,327.50 L604,329.57 L605,331.66 L606,333.78 L607,335.93 L608,338.11 L609,340.31 L610,342.54 L611,344.80 L612,347.07 L613,349.37 L614,351.69 L615,354.04 L616,356.40 L617,358.78 L618,361.18 L619,363.59 L620,366.03 L621,368.49 L622,370.96 L623,373.46 L624,375.97 L625,378.50 L626,381.05 L627,383.62 L628,386.21 L629,388.81 L630,391.44 L631,394.08 L632,396.74 L633,399.42 L634,402.11 L635,404.83 L636,407.56 L637,410.31 L638,413.08 L639,415.86 L640,418.67 L641,421.49 L642,424.33 L643,427.18 L644,430.04 L645,432.91 L646,435.79 L647,438.66 L648,441.54 L649,444.40 L650,447.26 L651,450.11 L652,452.93 L653,455.74 L654,458.52 L655,461.28 L656,464.00 L657,466.69 L658,469.35 L659,471.96 L660,474.53 L661,477.06 L662,479.55 L663,482.00 L664,484.40 L665,486.77 L666,489.10 L667,491.39 L668,493.64 L669,495.85 L670,498.03 L671,500.17 L672,502.27 L673,504.34 L674,506.37 L675,508.37 L676,510.33 L677,512.26 L678,514.15 L679,516.01 L680,517.84 L681,519.64 L682,521.40 L683,523.13 L684,524.83 L685,526.50 L686,528.14 L687,529.75 L688,531.33 L689,532.89 L690,534.41 L691,535.91 L692,537.38 L693,538.82 L694,540.23 L695,541.62 L696,542.99 L697,544.32 L698,545.64 L699,546.93 L700,548.19 L701,549.44 L702,550.65 L703,551.85 L704,553.02 L705,554.17 L706,555.30 L707,556.40 L708,557.48 L709,558.54 L710,559.58 L711,560.59 L712,561.59 L713,562.56 L714,563.52 L715,564.45 L716,565.36 L717,566.25 L718,567.13 L719,567.98 L720,568.81 L721,569.63 L722,570.42 L723,571.20 L724,571.96 L725,572.70 L726,573.42 L727,574.13 L728,574.82 L729,575.49 L730,576.14 L731,576.78 L732,577.40 L733,578.00 L734,578.59 L735,579.16 L736,579.72 L737,580.26 L738,580.78 L739,581.30 L740,581.79 L741,582.28 L742,582.74 L743,583.20 L744,583.64 L745,584.07 L746,584.48 L747,584.88 L748,585.27 L749,585.65 L750,586.01 L751,586.37 L752,586.71 L753,587.04 L754,587.35 L755,587.66 L756,587.96 L757,588.24 L758,588.52 L759,588.78 L760,589.04 L761,589.28 L762,589.52 L763,589.75 L764,589.97 L765,590.18 L766,590.38 L767,590.57 L768,590.76 L769,590.93 L770,591.10 L771,591.27 L772,591.42 L773,591.57 L774,591.71 L775,591.85 L776,591.98 L777,592.11 L778,592.23 L779,592.34 L780,592.45 L781,592.55 L782,592.65 L783,592.75 L784,592.84 L785,592.93 L786,593.01 L787,593.09 L788,593.17 L789,593.24 L790,593.31 L791,593.38 L792,593.45 L793,593.51 L794,593.58 L795,593.64 L796,593.70 L797,593.76 L798,593.82 L799,593.88 L800,593.93 L801,593.99 L802,594.05 L803,594.11 L804,594.17 L805,594.23 L806,594.29 L807,594.35 L808,594.41 L809,594.48 L810,594.55 L811,594.62 L812,594.69 L813,594.77 L814,594.84 L815,594.93 L816,595.01 L817,595.10 L818,595.19 L819,595.29 L820,595.39 L821,595.50 L822,595.61 L823,595.73 L824,595.85"/>
<path d="M137,359.90 L138,360.21 L139,360.53 L140,360.85 L141,361.19 L142,361.53 L143,361.87 L144,362.23 L145,362.59 L146,362.95 L147,363.32 L148,363.70 L149,364.08 L150,364.47 L151,364.86 L152,365.26 L153,365.66 L154,366.07 L155,366.48 L156,366.89 L157,367.31 L158,367.73 L159,368.15 L160,368.57 L161,369.00 L162,369.43 L163,369.86 L164,370.29 L165,370.72 L166,371.16 L167,371.59 L168,372.03 L169,372.46 L170,372.90 L171,373.34 L172,373.77 L173,374.21 L174,374.64 L175,375.07 L176,375.50 L177,375.93 L178,376.35 L179,376.78 L180,377.20 L181,377.62 L182,378.03 L183,378.44 L184,378.85 L185,379.26 L186,379.66 L187,380.05 L188,380.44 L189,380.83 L190,381.21 L191,381.59 L192,381.96 L193,382.32 L194,382.68 L195,383.03 L196,383.37 L197,383.71 L198,384.04 L199,384.36 L200,384.68 L201,384.99 L202,385.29 L203,385.58 L204,385.86 L205,386.13 L206,386.39 L207,386.65 L208,386.89 L209,387.12 L210,387.35 L211,387.56 L212,387.77 L213,387.97 L214,388.15 L215,388.33 L216,388.50 L217,388.66 L218,388.82 L219,388.96 L220,389.10 L221,389.22 L222,389.34 L223,389.45 L224,389.56 L225,389.65 L226,389.74 L227,389.82 L228,389.89 L229,389.96 L230,390.01 L231,390.07 L232,390.11 L233,390.15 L234,390.18 L235,390.20 L236,390.22 L237,390.23 L238,390.23 L239,390.23 L240,390.22 L241,390.20 L242,390.18 L243,390.16 L244,390.13 L245,390.09 L246,390.05 L247,390.00 L248,389.94 L249,389.88 L250,389.82 L251,389.75 L252,389.68 L253,389.60 L254,389.51 L255,389.42 L256,389.31 L257,389.19 L258,389.05 L259,388.90 L260,388.72 L261,388.53 L262,388.31 L263,388.07 L264,387.80 L265,387.50 L266,387.16 L267,386.80 L268,386.40 L269,385.96 L270,385.49 L271,384.97 L272,384.41 L273,383.81 L274,383.15 L275,382.45 L276,381.70 L277,380.90 L278,380.04 L279,379.12 L280,378.15 L281,377.11 L282,376.01 L283,374.85 L284,373.62 L285,372.33 L286,370.96 L287,369.52 L288,368.00 L289,366.41 L290,364.74 L291,362.99 L292,361.16 L293,359.24 L294,357.24 L295,355.15 L296,352.97 L297,350.71 L298,348.37 L299,345.95 L300,343.47 L301,340.91 L302,338.29 L303,335.60 L304,332.86 L305,330.06 L306,327.21 L307,324.32 L308,321.38 L309,318.40 L310,315.39 L311,312.34 L312,309.26 L313,306.16 L314,303.03 L315,299.89 L316,296.73 L317,293.56 L318,290.38 L319,287.19 L320,284.01 L321,280.83 L322,277.66 L323,274.49 L324,271.34 L325,268.21 L326,265.10 L327,262.01 L328,258.95 L329,255.92 L330,252.93 L331,249.98 L332,247.07 L333,244.20 L334,241.39 L335,238.62 L336,235.92 L337,233.27 L338,230.69 L339,228.18 L340,225.74 L341,223.37 L342,221.08 L343,218.87 L344,216.75 L345,214.72 L346,212.78 L347,210.93 L348,209.19 L349,207.55 L350,206.02 L351,204.59 L352,203.29 L353,202.10 L354,201.03 L355,200.08 L356,199.27 L357,198.58 L358,198.03 L359,197.60 L360,197.30 L361,197.11 L362,197.05 L363,197.10 L364,197.26 L365,197.54 L366,197.92 L367,198.41 L368,199.00 L369,199.69 L370,200.48 L371,201.36 L372,202.33 L373,203.39 L374,204.53 L375,205.76 L376,207.07 L377,208.46 L378,209.92 L379,211.46 L380,213.06 L381,214.73 L382,216.47 L383,218.27 L384,220.12 L385,222.03 L386,224.00 L387,226.01 L388,228.08 L389,230.18 L390,232.33 L391,234.52 L392,236.75 L393,239.01 L394,241.30 L395,243.62 L396,245.97 L397,248.34 L398,250.73 L399,253.14 L400,255.56 L401,258.00 L402,260.45 L403,262.90 L404,265.36 L405,267.81 L406,270.27 L407,272.72 L408,275.17 L409,277.61 L410,280.03 L411,282.44 L412,284.83 L413,287.21 L414,289.56 L415,291.88 L416,294.17 L417,296.44 L418,298.67 L419,300.86 L420,303.02 L421,305.14 L422,307.22 L423,309.27 L424,311.28 L425,313.26 L426,315.20 L427,317.11 L428,318.98 L429,320.81 L430,322.61 L431,324.38 L432,326.11 L433,327.80 L434,329.46 L435,331.09 L436,332.68 L437,334.24 L438,335.77 L439,337.26 L440,338.72 L441,340.14 L442,341.53 L443,342.89 L444,344.21 L445,345.51 L446,346.77 L447,347.99 L448,349.19 L449,350.35 L450,351.48 L451,352.58 L452,353.65 L453,354.68 L454,355.68 L455,356.66 L456,357.60 L457,358.51 L458,359.39 L459,360.23 L460,361.05 L461,361.84 L462,362.60 L463,363.32 L464,364.02 L465,364.69 L466,365.32 L467,365.93 L468,366.51 L469,367.06 L470,367.58 L471,368.07 L472,368.53 L473,368.96 L474,369.37 L475,369.74 L476,370.09 L477,370.41 L478,370.70 L479,370.96 L480,371.20 L481,371.41 L482,371.59 L483,371.74 L484,371.87 L485,371.97 L486,372.05 L487,372.09 L488,372.11 L489,372.11 L490,372.07 L491,372.02 L492,371.93 L493,371.82 L494,371.68 L495,371.52 L496,371.33 L497,371.11 L498,370.86 L499,370.58 L500,370.28 L501,369.94 L502,369.58 L503,369.18 L504,368.76 L505,368.30 L506,367.82 L507,367.30 L508,366.75 L509,366.17 L510,365.56 L511,364.91 L512,364.23 L513,363.52 L514,362.77 L515,361.99 L516,361.17 L517,360.32 L518,359.43 L519,358.51 L520,357.56 L521,356.58 L522,355.57 L523,354.53 L524,353.48 L525,352.41 L526,351.32 L527,350.22 L528,349.11 L529,347.99 L530,346.86 L531,345.74 L532,344.61 L533,343.49 L534,342.37 L535,341.27 L536,340.17 L537,339.09 L538,338.03 L539,336.98 L540,335.96 L541,334.96 L542,333.99 L543,333.05 L544,332.15 L545,331.28 L546,330.44 L547,329.65 L548,328.90 L549,328.19 L550,327.52 L551,326.89 L552,326.31 L553,325.77 L554,325.27 L555,324.82 L556,324.42 L557,324.06 L558,323.75 L559,323.49 L560,323.28 L561,323.12 L562,323.02 L563,322.96 L564,322.96 L565,323.01 L566,323.11 L567,323.27 L568,323.49 L569,323.76 L570,324.09 L571,324.47 L572,324.92 L573,325.43 L574,325.99 L575,326.61 L576,327.29 L577,328.03 L578,328.82 L579,329.67 L580,330.57 L581,331.53 L582,332.54 L583,333.61 L584,334.73 L585,335.90 L586,337.13 L587,338.40 L588,339.73 L589,341.11 L590,342.54 L591,344.01 L592,345.54 L593,347.12 L594,348.74 L595,350.41 L596,352.13 L597,353.89 L598,355.70 L599,357.56 L600,359.46 L601,361.40 L602,363.39 L603,365.42 L604,367.50 L605,369.62 L606,371.77 L607,373.97 L608,376.21 L609,378.50 L610,380.82 L611,383.18 L612,385.57 L613,388.00 L614,390.47 L615,392.96 L616,395.49 L617,398.04 L618,400.62 L619,403.23 L620,405.85 L621,408.50 L622,411.17 L623,413.86 L624,416.57 L625,419.29 L626,422.02 L627,424.76 L628,427.52 L629,430.28 L630,433.05 L631,435.82 L632,438.59 L633,441.37 L634,444.15 L635,446.92 L636,449.69 L637,452.46 L638,455.22 L639,457.97 L640,460.71 L641,463.43 L642,466.15 L643,468.84 L644,471.52 L645,474.18 L646,476.82 L647,479.43 L648,482.02 L649,484.58 L650,487.11 L651,489.61 L652,492.08 L653,494.52 L654,496.91 L655,499.27 L656,501.59 L657,503.86 L658,506.09 L659,508.28 L660,510.42 L661,512.51 L662,514.56 L663,516.56 L664,518.53 L665,520.44 L666,522.32 L667,524.16 L668,525.95 L669,527.71 L670,529.42 L671,531.10 L672,532.74 L673,534.35 L674,535.91 L675,537.45 L676,538.94 L677,540.41 L678,541.84 L679,543.24 L680,544.60 L681,545.94 L682,547.24 L683,548.52 L684,549.76 L685,550.98 L686,552.17 L687,553.33 L688,554.47 L689,555.58 L690,556.66 L691,557.72 L692,558.76 L693,559.77 L694,560.76 L695,561.73 L696,562.68 L697,563.60 L698,564.51 L699,565.40 L700,566.26 L701,567.11 L702,567.94 L703,568.76 L704,569.55 L705,570.33 L706,571.10 L707,571.85 L708,572.59 L709,573.31 L710,574.02 L711,574.72 L712,575.40 L713,576.08 L714,576.75 L715,577.40 L716,578.05 L717,578.68 L718,579.31 L719,579.93 L720,580.54 L721,581.14 L722,581.74 L723,582.32 L724,582.89 L725,583.46 L726,584.02 L727,584.57 L728,585.11 L729,585.64 L730,586.16 L731,586.68 L732,587.18 L733,587.68 L734,588.17 L735,588.65 L736,589.13 L737,589.59 L738,590.05 L739,590.50 L740,590.94 L741,591.38 L742,591.80 L743,592.22 L744,592.63 L745,593.04 L746,593.43 L747,593.82 L748,594.20 L749,594.57 L750,594.94 L751,595.30 L752,595.65 L753,595.99 L754,596.33 L755,596.66 L756,596.98 L757,597.30 L758,597.60 L759,597.91 L760,598.20 L761,598.49 L762,598.77 L763,599.04 L764,599.31 L765,599.57 L766,599.83 L767,600.08 L768,600.32 L769,600.55 L770,600.78 L771,601.01 L772,601.22 L773,601.43 L774,601.64 L775,601.83 L776,602.03 L777,602.21 L778,602.39 L779,602.57 L780,602.74 L781,602.90 L782,603.06 L783,603.21 L784,603.35 L785,603.49 L786,603.63 L787,603.76 L788,603.88 L789,604.00 L790,604.12 L791,604.22 L792,604.33 L793,604.43 L794,604.52 L795,604.61 L796,604.69 L797,604.77 L798,604.84 L799,604.91 L800,604.97 L801,605.03 L802,605.09 L803,605.14 L804,605.18 L805,605.22 L806,605.26 L807,605.29 L808,605.32 L809,605.34 L810,605.36 L811,605.37 L812,605.38 L813,605.39 L814,605.39 L815,605.39 L816,605.39 L817,605.38 L818,605.37 L819,605.35 L820,605.33 L821,605.31 L822,605.28 L823,605.25 L824,605.21"/>
<path d="M137,422.91 L138,423.31 L139,423.71 L140,424.12 L141,424.52 L142,424.92 L143,425.33 L144,425.74 L145,426.14 L146,426.55 L147,426.96 L148,427.37 L149,427.78 L150,428.18 L151,428.59 L152,429.00 L153,429.41 L154,429.82 L155,430.23 L156,430.64 L157,431.05 L158,431.45 L159,431.86 L160,432.27 L161,432.67 L162,433.07 L163,433.48 L164,433.88 L165,434.28 L166,434.68 L167,435.07 L168,435.47 L169,435.86 L170,436.25 L171,436.64 L172,437.03 L173,437.41 L174,437.80 L175,438.18 L176,438.56 L177,438.93 L178,439.30 L179,439.67 L180,440.04 L181,440.40 L182,440.76 L183,441.12 L184,441.47 L185,441.82 L186,442.17 L187,442.51 L188,442.85 L189,443.18 L190,443.51 L191,443.84 L192,444.16 L193,444.48 L194,444.79 L195,445.10 L196,445.41 L197,445.71 L198,446.00 L199,446.29 L200,446.57 L201,446.85 L202,447.13 L203,447.39 L204,447.66 L205,447.91 L206,448.17 L207,448.41 L208,448.65 L209,448.88 L210,449.11 L211,449.33 L212,449.55 L213,449.75 L214,449.95 L215,450.15 L216,450.34 L217,450.52 L218,450.69 L219,450.86 L220,451.02 L221,451.17 L222,451.31 L223,451.45 L224,451.58 L225,451.70 L226,451.81 L227,451.92 L228,452.02 L229,452.10 L230,452.18 L231,452.26 L232,452.32 L233,452.37 L234,452.42 L235,452.45 L236,452.48 L237,452.49 L238,452.49 L239,452.48 L240,452.46 L241,452.43 L242,452.38 L243,452.32 L244,452.24 L245,452.16 L246,452.05 L247,451.94 L248,451.80 L249,451.66 L250,451.49 L251,451.31 L252,451.11 L253,450.90 L254,450.67 L255,450.41 L256,450.15 L257,449.86 L258,449.55 L259,449.22 L260,448.88 L261,448.51 L262,448.12 L263,447.71 L264,447.28 L265,446.82 L266,446.35 L267,445.85 L268,445.33 L269,444.78 L270,444.21 L271,443.62 L272,443.00 L273,442.35 L274,441.68 L275,440.98 L276,440.26 L277,439.51 L278,438.73 L279,437.93 L280,437.09 L281,436.23 L282,435.34 L283,434.42 L284,433.47 L285,432.49 L286,431.48 L287,430.44 L288,429.37 L289,428.26 L290,427.12 L291,425.96 L292,424.75 L293,423.52 L294,422.25 L295,420.94 L296,419.61 L297,418.23 L298,416.82 L299,415.38 L300,413.90 L301,412.38 L302,410.82 L303,409.23 L304,407.59 L305,405.91 L306,404.19 L307,402.43 L308,400.63 L309,398.78 L310,396.88 L311,394.94 L312,392.96 L313,390.92 L314,388.84 L315,386.71 L316,384.53 L317,382.29 L318,380.01 L319,377.68 L320,375.30 L321,372.89 L322,370.44 L323,367.96 L324,365.46 L325,362.95 L326,360.42 L327,357.89 L328,355.36 L329,352.83 L330,350.32 L331,347.84 L332,345.39 L333,342.98 L334,340.63 L335,338.34 L336,336.11 L337,333.95 L338,331.86 L339,329.83 L340,327.87 L341,325.99 L342,324.17 L343,322.44 L344,320.77 L345,319.19 L346,317.68 L347,316.25 L348,314.91 L349,313.64 L350,312.47 L351,311.38 L352,310.37 L353,309.46 L354,308.63 L355,307.90 L356,307.26 L357,306.72 L358,306.27 L359,305.92 L360,305.67 L361,305.52 L362,305.48 L363,305.54 L364,305.70 L365,305.97 L366,306.35 L367,306.83 L368,307.41 L369,308.09 L370,308.87 L371,309.73 L372,310.68 L373,311.72 L374,312.83 L375,314.01 L376,315.27 L377,316.60 L378,317.99 L379,319.44 L380,320.95 L381,322.51 L382,324.11 L383,325.77 L384,327.47 L385,329.20 L386,330.97 L387,332.77 L388,334.60 L389,336.45 L390,338.32 L391,340.20 L392,342.10 L393,344.00 L394,345.92 L395,347.83 L396,349.75 L397,351.67 L398,353.59 L399,355.50 L400,357.42 L401,359.33 L402,361.23 L403,363.13 L404,365.03 L405,366.91 L406,368.78 L407,370.65 L408,372.50 L409,374.33 L410,376.16 L411,377.96 L412,379.75 L413,381.52 L414,383.27 L415,385.00 L416,386.71 L417,388.39 L418,390.05 L419,391.69 L420,393.30 L421,394.87 L422,396.42 L423,397.94 L424,399.43 L425,400.88 L426,402.30 L427,403.69 L428,405.04 L429,406.35 L430,407.64 L431,408.89 L432,410.10 L433,411.29 L434,412.45 L435,413.57 L436,414.67 L437,415.74 L438,416.78 L439,417.80 L440,418.79 L441,419.75 L442,420.69 L443,421.60 L444,422.50 L445,423.37 L446,424.22 L447,425.04 L448,425.85 L449,426.64 L450,427.41 L451,428.16 L452,428.89 L453,429.61 L454,430.31 L455,431.00 L456,431.67 L457,432.32 L458,432.96 L459,433.58 L460,434.18 L461,434.77 L462,435.34 L463,435.89 L464,436.42 L465,436.94 L466,437.44 L467,437.92 L468,438.38 L469,438.82 L470,439.24 L471,439.65 L472,440.03 L473,440.39 L474,440.74 L475,441.06 L476,441.36 L477,441.65 L478,441.91 L479,442.15 L480,442.37 L481,442.56 L482,442.74 L483,442.89 L484,443.02 L485,443.13 L486,443.21 L487,443.28 L488,443.31 L489,443.33 L490,443.32 L491,443.29 L492,443.23 L493,443.15 L494,443.04 L495,442.91 L496,442.76 L497,442.58 L498,442.37 L499,442.14 L500,441.88 L501,441.59 L502,441.28 L503,440.94 L504,440.58 L505,440.18 L506,439.76 L507,439.32 L508,438.84 L509,438.34 L510,437.81 L511,437.25 L512,436.66 L513,436.06 L514,435.43 L515,434.78 L516,434.11 L517,433.43 L518,432.73 L519,432.02 L520,431.30 L521,430.57 L522,429.84 L523,429.09 L524,428.35 L525,427.60 L526,426.85 L527,426.10 L528,425.36 L529,424.62 L530,423.89 L531,423.17 L532,422.45 L533,421.75 L534,421.07 L535,420.40 L536,419.75 L537,419.11 L538,418.50 L539,417.91 L540,417.35 L541,416.81 L542,416.30 L543,415.83 L544,415.38 L545,414.97 L546,414.59 L547,414.25 L548,413.95 L549,413.69 L550,413.46 L551,413.28 L552,413.14 L553,413.03 L554,412.97 L555,412.95 L556,412.98 L557,413.04 L558,413.15 L559,413.31 L560,413.51 L561,413.75 L562,414.04 L563,414.38 L564,414.76 L565,415.19 L566,415.67 L567,416.20 L568,416.78 L569,417.40 L570,418.08 L571,418.81 L572,419.59 L573,420.42 L574,421.30 L575,422.24 L576,423.23 L577,424.27 L578,425.37 L579,426.53 L580,427.74 L581,429.00 L582,430.33 L583,431.71 L584,433.15 L585,434.64 L586,436.20 L587,437.82 L588,439.49 L589,441.21 L590,442.99 L591,444.81 L592,446.69 L593,448.60 L594,450.56 L595,452.55 L596,454.58 L597,456.64 L598,458.74 L599,460.86 L600,463.01 L601,465.18 L602,467.38 L603,469.59 L604,471.81 L605,474.05 L606,476.30 L607,478.56 L608,480.83 L609,483.09 L610,485.36 L611,487.63 L612,489.89 L613,492.15 L614,494.39 L615,496.62 L616,498.84 L617,501.05 L618,503.25 L619,505.43 L620,507.59 L621,509.75 L622,511.88 L623,514.00 L624,516.11 L625,518.20 L626,520.27 L627,522.33 L628,524.36 L629,526.38 L630,528.38 L631,530.37 L632,532.33 L633,534.27 L634,536.20 L635,538.10 L636,539.98 L637,541.84 L638,543.68 L639,545.50 L640,547.29 L641,549.06 L642,550.81 L643,552.53 L644,554.23 L645,555.90 L646,557.55 L647,559.18 L648,560.77 L649,562.34 L650,563.89 L651,565.40 L652,566.89 L653,568.35 L654,569.78 L655,571.19 L656,572.56 L657,573.90 L658,575.22 L659,576.50 L660,577.75 L661,578.97 L662,580.16 L663,581.32 L664,582.44 L665,583.54 L666,584.60 L667,585.63 L668,586.64 L669,587.62 L670,588.56 L671,589.49 L672,590.38 L673,591.25 L674,592.10 L675,592.92 L676,593.72 L677,594.49 L678,595.24 L679,595.97 L680,596.68 L681,597.37 L682,598.04 L683,598.69 L684,599.32 L685,599.94 L686,600.53 L687,601.11 L688,601.68 L689,602.23 L690,602.76 L691,603.28 L692,603.79 L693,604.28 L694,604.77 L695,605.24 L696,605.70 L697,606.15 L698,606.59 L699,607.03 L700,607.45 L701,607.87 L702,608.28 L703,608.69 L704,609.09 L705,609.48 L706,609.87 L707,610.26 L708,610.64 L709,611.02 L710,611.40 L711,611.77 L712,612.15 L713,612.51 L714,612.88 L715,613.24 L716,613.60 L717,613.95 L718,614.30 L719,614.65 L720,615.00 L721,615.34 L722,615.68 L723,616.02 L724,616.35 L725,616.68 L726,617.00 L727,617.33 L728,617.64 L729,617.96 L730,618.27 L731,618.58 L732,618.89 L733,619.19 L734,619.49 L735,619.79 L736,620.08 L737,620.38 L738,620.66 L739,620.95 L740,621.23 L741,621.51 L742,621.78 L743,622.05 L744,622.32 L745,622.58 L746,622.85 L747,623.10 L748,623.36 L749,623.61 L750,623.86 L751,624.11 L752,624.35 L753,624.59 L754,624.82 L755,625.06 L756,625.29 L757,625.51 L758,625.74 L759,625.96 L760,626.17 L761,626.39 L762,626.60 L763,626.81 L764,627.01 L765,627.21 L766,627.41 L767,627.60 L768,627.79 L769,627.98 L770,628.17 L771,628.35 L772,628.53 L773,628.70 L774,628.88 L775,629.05 L776,629.21 L777,629.38 L778,629.54 L779,629.70 L780,629.86 L781,630.01 L782,630.16 L783,630.32 L784,630.46 L785,630.61 L786,630.76 L787,630.90 L788,631.05 L789,631.19 L790,631.33 L791,631.47 L792,631.61 L793,631.74 L794,631.88 L795,632.02 L796,632.15 L797,632.29 L798,632.43 L799,632.56 L800,632.70 L801,632.83 L802,632.97 L803,633.11 L804,633.24 L805,633.38 L806,633.52 L807,633.66 L808,633.80 L809,633.94 L810,634.09 L811,634.23 L812,634.38 L813,634.52 L814,634.67 L815,634.82 L816,634.97 L817,635.13 L818,635.29 L819,635.45 L820,635.61 L821,635.77 L822,635.94 L823,636.11 L824,636.28"/>
</g>
<path d="M137,551.46 L138,551.70 L139,551.94 L140,552.19 L141,552.44 L142,552.69 L143,552.94 L144,553.20 L145,553.45 L146,553.71 L147,553.97 L148,554.24 L149,554.50 L150,554.77 L151,555.03 L152,555.30 L153,555.57 L154,555.85 L155,556.12 L156,556.39 L157,556.67 L158,556.94 L159,557.22 L160,557.49 L161,557.77 L162,558.05 L163,558.33 L164,558.60 L165,558.88 L166,559.16 L167,559.44 L168,559.72 L169,559.99 L170,560.27 L171,560.55 L172,560.82 L173,561.10 L174,561.37 L175,561.65 L176,561.92 L177,562.19 L178,562.46 L179,562.73 L180,563.00 L181,563.26 L182,563.53 L183,563.79 L184,564.05 L185,564.31 L186,564.57 L187,564.82 L188,565.08 L189,565.33 L190,565.58 L191,565.82 L192,566.07 L193,566.31 L194,566.54 L195,566.78 L196,567.01 L197,567.24 L198,567.47 L199,567.69 L200,567.91 L201,568.13 L202,568.34 L203,568.55 L204,568.75 L205,568.95 L206,569.15 L207,569.34 L208,569.53 L209,569.72 L210,569.90 L211,570.07 L212,570.24 L213,570.41 L214,570.57 L215,570.73 L216,570.88 L217,571.03 L218,571.17 L219,571.31 L220,571.44 L221,571.56 L222,571.68 L223,571.80 L224,571.91 L225,572.01 L226,572.11 L227,572.20 L228,572.28 L229,572.36 L230,572.43 L231,572.50 L232,572.56 L233,572.61 L234,572.66 L235,572.69 L236,572.73 L237,572.75 L238,572.77 L239,572.78 L240,572.78 L241,572.77 L242,572.76 L243,572.74 L244,572.71 L245,572.67 L246,572.62 L247,572.57 L248,572.51 L249,572.43 L250,572.35 L251,572.26 L252,572.16 L253,572.05 L254,571.94 L255,571.81 L256,571.67 L257,571.53 L258,571.37 L259,571.20 L260,571.03 L261,570.84 L262,570.64 L263,570.43 L264,570.22 L265,569.99 L266,569.75 L267,569.50 L268,569.23 L269,568.96 L270,568.67 L271,568.38 L272,568.07 L273,567.75 L274,567.42 L275,567.08 L276,566.72 L277,566.35 L278,565.97 L279,565.58 L280,565.17 L281,564.75 L282,564.32 L283,563.88 L284,563.42 L285,562.95 L286,562.47 L287,561.97 L288,561.46 L289,560.93 L290,560.39 L291,559.84 L292,559.27 L293,558.69 L294,558.10 L295,557.48 L296,556.86 L297,556.22 L298,555.56 L299,554.90 L300,554.21 L301,553.51 L302,552.79 L303,552.06 L304,551.32 L305,550.55 L306,549.77 L307,548.98 L308,548.17 L309,547.34 L310,546.50 L311,545.64 L312,544.76 L313,543.87 L314,542.96 L315,542.03 L316,541.10 L317,540.15 L318,539.19 L319,538.22 L320,537.25 L321,536.27 L322,535.29 L323,534.32 L324,533.34 L325,532.37 L326,531.40 L327,530.44 L328,529.48 L329,528.54 L330,527.61 L331,526.70 L332,525.80 L333,524.92 L334,524.06 L335,523.22 L336,522.41 L337,521.62 L338,520.85 L339,520.12 L340,519.42 L341,518.75 L342,518.11 L343,517.51 L344,516.95 L345,516.43 L346,515.95 L347,515.51 L348,515.12 L349,514.77 L350,514.47 L351,514.20 L352,513.98 L353,513.80 L354,513.67 L355,513.57 L356,513.51 L357,513.49 L358,513.51 L359,513.56 L360,513.66 L361,513.78 L362,513.95 L363,514.15 L364,514.38 L365,514.65 L366,514.95 L367,515.29 L368,515.65 L369,516.05 L370,516.48 L371,516.93 L372,517.42 L373,517.93 L374,518.48 L375,519.05 L376,519.64 L377,520.26 L378,520.91 L379,521.57 L380,522.26 L381,522.97 L382,523.69 L383,524.44 L384,525.20 L385,525.97 L386,526.76 L387,527.57 L388,528.38 L389,529.21 L390,530.05 L391,530.90 L392,531.75 L393,532.61 L394,533.48 L395,534.36 L396,535.23 L397,536.11 L398,536.99 L399,537.87 L400,538.75 L401,539.63 L402,540.50 L403,541.37 L404,542.23 L405,543.09 L406,543.94 L407,544.79 L408,545.62 L409,546.45 L410,547.27 L411,548.09 L412,548.89 L413,549.69 L414,550.47 L415,551.25 L416,552.02 L417,552.78 L418,553.53 L419,554.27 L420,555.00 L421,555.72 L422,556.43 L423,557.13 L424,557.82 L425,558.50 L426,559.17 L427,559.83 L428,560.47 L429,561.11 L430,561.73 L431,562.34 L432,562.94 L433,563.53 L434,564.10 L435,564.66 L436,565.21 L437,565.75 L438,566.27 L439,566.78 L440,567.27 L441,567.76 L442,568.23 L443,568.68 L444,569.13 L445,569.56 L446,569.98 L447,570.39 L448,570.79 L449,571.18 L450,571.55 L451,571.92 L452,572.27 L453,572.61 L454,572.94 L455,573.26 L456,573.57 L457,573.87 L458,574.16 L459,574.44 L460,574.71 L461,574.97 L462,575.22 L463,575.46 L464,575.69 L465,575.92 L466,576.13 L467,576.34 L468,576.54 L469,576.73 L470,576.91 L471,577.08 L472,577.25 L473,577.40 L474,577.56 L475,577.70 L476,577.83 L477,577.96 L478,578.09 L479,578.20 L480,578.31 L481,578.42 L482,578.51 L483,578.60 L484,578.69 L485,578.77 L486,578.84 L487,578.91 L488,578.98 L489,579.03 L490,579.09 L491,579.14 L492,579.18 L493,579.22 L494,579.26 L495,579.30 L496,579.33 L497,579.37 L498,579.40 L499,579.43 L500,579.47 L501,579.50 L502,579.54 L503,579.59 L504,579.63 L505,579.68 L506,579.74 L507,579.80 L508,579.87 L509,579.95 L510,580.03 L511,580.12 L512,580.22 L513,580.34 L514,580.46 L515,580.60 L516,580.74 L517,580.90 L518,581.08 L519,581.26 L520,581.47 L521,581.69 L522,581.92 L523,582.17 L524,582.44 L525,582.73 L526,583.04 L527,583.37 L528,583.71 L529,584.08 L530,584.47 L531,584.89 L532,585.33 L533,585.79 L534,586.27 L535,586.78 L536,587.31 L537,587.86 L538,588.44 L539,589.03 L540,589.65 L541,590.28 L542,590.94 L543,591.61 L544,592.30 L545,593.01 L546,593.73 L547,594.47 L548,595.23 L549,596.00 L550,596.79 L551,597.58 L552,598.40 L553,599.22 L554,600.06 L555,600.91 L556,601.77 L557,602.64 L558,603.51 L559,604.40 L560,605.30 L561,606.20 L562,607.11 L563,608.03 L564,608.96 L565,609.89 L566,610.82 L567,611.76 L568,612.70 L569,613.65 L570,614.59 L571,615.54 L572,616.49 L573,617.45 L574,618.40 L575,619.35 L576,620.30 L577,621.24 L578,622.19 L579,623.13 L580,624.07 L581,625.00 L582,625.92 L583,626.84 L584,627.76 L585,628.66 L586,629.56 L587,630.45 L588,631.33 L589,632.19 L590,633.05 L591,633.90 L592,634.73 L593,635.55 L594,636.36 L595,637.15 L596,637.93 L597,638.70 L598,639.45 L599,640.19 L600,640.91 L601,641.63 L602,642.33 L603,643.02 L604,643.70 L605,644.36 L606,645.02 L607,645.67 L608,646.31 L609,646.93 L610,647.55 L611,648.16 L612,648.77 L613,649.36 L614,649.95 L615,650.53 L616,651.10 L617,651.66 L618,652.22 L619,652.77 L620,653.31 L621,653.85 L622,654.38 L623,654.90 L624,655.41 L625,655.92 L626,656.42 L627,656.92 L628,657.41 L629,657.89 L630,658.36 L631,658.83 L632,659.29 L633,659.75 L634,660.20 L635,660.64 L636,661.08 L637,661.51 L638,661.94 L639,662.36 L640,662.77 L641,663.18 L642,663.58 L643,663.98 L644,664.37 L645,664.76 L646,665.14 L647,665.51 L648,665.88 L649,666.25 L650,666.60 L651,666.96 L652,667.31 L653,667.65 L654,667.99 L655,668.32 L656,668.65 L657,668.98 L658,669.30 L659,669.61 L660,669.93 L661,670.23 L662,670.53 L663,670.83 L664,671.13 L665,671.42 L666,671.70 L667,671.98 L668,672.26 L669,672.53 L670,672.80 L671,673.07 L672,673.33 L673,673.59 L674,673.84 L675,674.10 L676,674.34 L677,674.59 L678,674.83 L679,675.07 L680,675.30 L681,675.53 L682,675.76 L683,675.99 L684,676.21 L685,676.43 L686,676.65 L687,676.86 L688,677.07 L689,677.28 L690,677.49 L691,677.69 L692,677.89 L693,678.09 L694,678.29 L695,678.48 L696,678.68 L697,678.87 L698,679.05 L699,679.24 L700,679.42 L701,679.61 L702,679.79 L703,679.97 L704,680.15 L705,680.32 L706,680.50 L707,680.67 L708,680.84 L709,681.01 L710,681.18 L711,681.35 L712,681.52 L713,681.68 L714,681.85 L715,682.01 L716,682.18 L717,682.34 L718,682.50 L719,682.66 L720,682.82 L721,682.98 L722,683.14 L723,683.30 L724,683.46 L725,683.62 L726,683.77 L727,683.93 L728,684.09 L729,684.24 L730,684.39 L731,684.55 L732,684.70 L733,684.85 L734,685.00 L735,685.15 L736,685.30 L737,685.45 L738,685.60 L739,685.74 L740,685.89 L741,686.04 L742,686.18 L743,686.32 L744,686.46 L745,686.61 L746,686.75 L747,686.89 L748,687.02 L749,687.16 L750,687.30 L751,687.43 L752,687.57 L753,687.70 L754,687.83 L755,687.97 L756,688.10 L757,688.23 L758,688.35 L759,688.48 L760,688.61 L761,688.73 L762,688.86 L763,688.98 L764,689.10 L765,689.22 L766,689.34 L767,689.46 L768,689.57 L769,689.69 L770,689.80 L771,689.92 L772,690.03 L773,690.14 L774,690.25 L775,690.36 L776,690.46 L777,690.57 L778,690.67 L779,690.78 L780,690.88 L781,690.98 L782,691.08 L783,691.17 L784,691.27 L785,691.36 L786,691.46 L787,691.55 L788,691.64 L789,691.73 L790,691.82 L791,691.90 L792,691.99 L793,692.07 L794,692.15 L795,692.23 L796,692.31 L797,692.39 L798,692.46 L799,692.53 L800,692.61 L801,692.68 L802,692.75 L803,692.81 L804,692.88 L805,692.94 L806,693.01 L807,693.07 L808,693.13 L809,693.18 L810,693.24 L811,693.29 L812,693.34 L813,693.40 L814,693.44 L815,693.49 L816,693.54 L817,693.58 L818,693.62 L819,693.66 L820,693.70 L821,693.74 L822,693.77 L823,693.80 L824,693.83" fill="none" stroke="#000" stroke-width="2.1"/>
<path d="M137,270.11 L138,270.61 L139,271.12 L140,271.64 L141,272.15 L142,272.67 L143,273.19 L144,273.72 L145,274.24 L146,274.77 L147,275.30 L148,275.84 L149,276.37 L150,276.90 L151,277.44 L152,277.98 L153,278.52 L154,279.06 L155,279.60 L156,280.14 L157,280.68 L158,281.22 L159,281.76 L160,282.30 L161,282.84 L162,283.38 L163,283.92 L164,284.45 L165,284.99 L166,285.53 L167,286.06 L168,286.59 L169,287.12 L170,287.65 L171,288.17 L172,288.70 L173,289.22 L174,289.74 L175,290.25 L176,290.76 L177,291.27 L178,291.78 L179,292.28 L180,292.78 L181,293.27 L182,293.76 L183,294.25 L184,294.73 L185,295.21 L186,295.68 L187,296.14 L188,296.61 L189,297.06 L190,297.51 L191,297.96 L192,298.40 L193,298.83 L194,299.26 L195,299.68 L196,300.10 L197,300.50 L198,300.91 L199,301.30 L200,301.69 L201,302.07 L202,302.44 L203,302.80 L204,303.16 L205,303.51 L206,303.85 L207,304.18 L208,304.50 L209,304.82 L210,305.12 L211,305.42 L212,305.71 L213,305.98 L214,306.25 L215,306.51 L216,306.76 L217,307.00 L218,307.22 L219,307.44 L220,307.65 L221,307.84 L222,308.03 L223,308.20 L224,308.36 L225,308.51 L226,308.65 L227,308.78 L228,308.90 L229,309.00 L230,309.09 L231,309.17 L232,309.23 L233,309.28 L234,309.32 L235,309.35 L236,309.36 L237,309.36 L238,309.35 L239,309.32 L240,309.28 L241,309.22 L242,309.15 L243,309.06 L244,308.96 L245,308.84 L246,308.71 L247,308.57 L248,308.40 L249,308.23 L250,308.03 L251,307.82 L252,307.60 L253,307.35 L254,307.09 L255,306.81 L256,306.51 L257,306.18 L258,305.83 L259,305.46 L260,305.05 L261,304.62 L262,304.16 L263,303.67 L264,303.15 L265,302.60 L266,302.01 L267,301.38 L268,300.72 L269,300.01 L270,299.27 L271,298.49 L272,297.66 L273,296.79 L274,295.88 L275,294.91 L276,293.90 L277,292.84 L278,291.73 L279,290.57 L280,289.35 L281,288.07 L282,286.72 L283,285.31 L284,283.81 L285,282.24 L286,280.58 L287,278.83 L288,276.98 L289,275.04 L290,272.99 L291,270.84 L292,268.57 L293,266.18 L294,263.66 L295,261.02 L296,258.25 L297,255.34 L298,252.32 L299,249.18 L300,245.94 L301,242.61 L302,239.20 L303,235.72 L304,232.18 L305,228.60 L306,224.98 L307,221.34 L308,217.67 L309,214.01 L310,210.35 L311,206.69 L312,203.03 L313,199.36 L314,195.68 L315,191.98 L316,188.25 L317,184.49 L318,180.69 L319,176.85 L320,172.96 L321,169.02 L322,165.03 L323,161.00 L324,156.94 L325,152.86 L326,148.75 L327,144.64 L328,140.53 L329,136.42 L330,132.33 L331,128.25 L332,124.21 L333,120.20 L334,116.23 L335,112.31 L336,108.45 L337,104.65 L338,100.93 L339,97.28 L340,93.72 L341,90.25 L342,86.88 L343,83.60 L344,80.42 L345,77.34 L346,74.38 L347,71.52 L348,68.79 L349,66.17 L350,63.68 L351,61.32 L352,59.09 L353,56.99 L354,55.04 L355,53.23 L356,51.57 L357,50.07 L358,48.72 L359,47.53 L360,46.50 L361,45.64 L362,44.96 L363,44.45 L364,44.12 L365,43.98 L366,44.02 L367,44.25 L368,44.66 L369,45.24 L370,45.99 L371,46.90 L372,47.96 L373,49.17 L374,50.53 L375,52.02 L376,53.64 L377,55.39 L378,57.25 L379,59.23 L380,61.31 L381,63.49 L382,65.77 L383,68.13 L384,70.58 L385,73.10 L386,75.69 L387,78.34 L388,81.05 L389,83.81 L390,86.62 L391,89.47 L392,92.35 L393,95.25 L394,98.18 L395,101.12 L396,104.07 L397,107.03 L398,109.99 L399,112.96 L400,115.93 L401,118.91 L402,121.89 L403,124.86 L404,127.84 L405,130.82 L406,133.79 L407,136.76 L408,139.72 L409,142.68 L410,145.63 L411,148.57 L412,151.50 L413,154.43 L414,157.33 L415,160.23 L416,163.11 L417,165.98 L418,168.83 L419,171.66 L420,174.48 L421,177.27 L422,180.04 L423,182.77 L424,185.47 L425,188.13 L426,190.75 L427,193.33 L428,195.85 L429,198.32 L430,200.73 L431,203.08 L432,205.37 L433,207.58 L434,209.72 L435,211.79 L436,213.77 L437,215.66 L438,217.48 L439,219.22 L440,220.88 L441,222.48 L442,224.01 L443,225.48 L444,226.90 L445,228.26 L446,229.58 L447,230.85 L448,232.08 L449,233.27 L450,234.43 L451,235.57 L452,236.68 L453,237.77 L454,238.84 L455,239.90 L456,240.95 L457,241.99 L458,243.01 L459,244.01 L460,245.01 L461,245.98 L462,246.94 L463,247.88 L464,248.80 L465,249.71 L466,250.59 L467,251.46 L468,252.30 L469,253.12 L470,253.93 L471,254.71 L472,255.46 L473,256.19 L474,256.90 L475,257.58 L476,258.24 L477,258.87 L478,259.47 L479,260.05 L480,260.60 L481,261.12 L482,261.60 L483,262.06 L484,262.47 L485,262.85 L486,263.19 L487,263.49 L488,263.74 L489,263.95 L490,264.12 L491,264.23 L492,264.29 L493,264.30 L494,264.25 L495,264.15 L496,263.98 L497,263.76 L498,263.47 L499,263.12 L500,262.70 L501,262.21 L502,261.65 L503,261.02 L504,260.31 L505,259.53 L506,258.68 L507,257.76 L508,256.79 L509,255.75 L510,254.66 L511,253.51 L512,252.32 L513,251.08 L514,249.81 L515,248.49 L516,247.14 L517,245.77 L518,244.36 L519,242.93 L520,241.48 L521,240.02 L522,238.54 L523,237.06 L524,235.57 L525,234.07 L526,232.58 L527,231.10 L528,229.62 L529,228.16 L530,226.71 L531,225.28 L532,223.88 L533,222.50 L534,221.15 L535,219.84 L536,218.56 L537,217.33 L538,216.13 L539,214.99 L540,213.90 L541,212.86 L542,211.87 L543,210.94 L544,210.06 L545,209.24 L546,208.48 L547,207.77 L548,207.13 L549,206.55 L550,206.04 L551,205.58 L552,205.20 L553,204.88 L554,204.63 L555,204.45 L556,204.34 L557,204.30 L558,204.34 L559,204.45 L560,204.63 L561,204.90 L562,205.24 L563,205.66 L564,206.17 L565,206.75 L566,207.42 L567,208.18 L568,209.02 L569,209.95 L570,210.97 L571,212.08 L572,213.28 L573,214.57 L574,215.96 L575,217.44 L576,219.02 L577,220.69 L578,222.46 L579,224.33 L580,226.29 L581,228.32 L582,230.44 L583,232.64 L584,234.91 L585,237.25 L586,239.65 L587,242.11 L588,244.63 L589,247.20 L590,249.81 L591,252.47 L592,255.17 L593,257.91 L594,260.68 L595,263.47 L596,266.29 L597,269.13 L598,271.99 L599,274.86 L600,277.74 L601,280.63 L602,283.52 L603,286.42 L604,289.32 L605,292.21 L606,295.09 L607,297.97 L608,300.84 L609,303.69 L610,306.53 L611,309.35 L612,312.17 L613,314.98 L614,317.78 L615,320.57 L616,323.36 L617,326.15 L618,328.93 L619,331.71 L620,334.49 L621,337.28 L622,340.06 L623,342.86 L624,345.65 L625,348.46 L626,351.27 L627,354.09 L628,356.92 L629,359.76 L630,362.62 L631,365.49 L632,368.38 L633,371.28 L634,374.20 L635,377.14 L636,380.11 L637,383.09 L638,386.10 L639,389.13 L640,392.19 L641,395.28 L642,398.38 L643,401.49 L644,404.61 L645,407.74 L646,410.87 L647,413.99 L648,417.10 L649,420.20 L650,423.28 L651,426.34 L652,429.37 L653,432.36 L654,435.32 L655,438.24 L656,441.13 L657,443.97 L658,446.78 L659,449.54 L660,452.27 L661,454.95 L662,457.59 L663,460.18 L664,462.73 L665,465.23 L666,467.69 L667,470.10 L668,472.46 L669,474.78 L670,477.04 L671,479.25 L672,481.42 L673,483.54 L674,485.61 L675,487.63 L676,489.61 L677,491.54 L678,493.43 L679,495.29 L680,497.10 L681,498.87 L682,500.60 L683,502.29 L684,503.95 L685,505.58 L686,507.16 L687,508.72 L688,510.25 L689,511.74 L690,513.20 L691,514.64 L692,516.04 L693,517.42 L694,518.78 L695,520.11 L696,521.42 L697,522.70 L698,523.96 L699,525.21 L700,526.43 L701,527.64 L702,528.83 L703,530.00 L704,531.15 L705,532.28 L706,533.40 L707,534.50 L708,535.59 L709,536.65 L710,537.70 L711,538.74 L712,539.75 L713,540.76 L714,541.74 L715,542.71 L716,543.66 L717,544.60 L718,545.53 L719,546.43 L720,547.33 L721,548.20 L722,549.07 L723,549.92 L724,550.75 L725,551.57 L726,552.38 L727,553.17 L728,553.95 L729,554.71 L730,555.46 L731,556.20 L732,556.92 L733,557.63 L734,558.33 L735,559.02 L736,559.69 L737,560.35 L738,561.00 L739,561.64 L740,562.26 L741,562.88 L742,563.48 L743,564.07 L744,564.64 L745,565.21 L746,565.76 L747,566.31 L748,566.84 L749,567.36 L750,567.87 L751,568.37 L752,568.86 L753,569.34 L754,569.81 L755,570.27 L756,570.72 L757,571.16 L758,571.60 L759,572.02 L760,572.43 L761,572.83 L762,573.23 L763,573.61 L764,573.99 L765,574.35 L766,574.71 L767,575.06 L768,575.41 L769,575.74 L770,576.07 L771,576.38 L772,576.69 L773,577.00 L774,577.29 L775,577.58 L776,577.86 L777,578.14 L778,578.41 L779,578.67 L780,578.92 L781,579.17 L782,579.41 L783,579.65 L784,579.88 L785,580.10 L786,580.32 L787,580.53 L788,580.74 L789,580.94 L790,581.13 L791,581.32 L792,581.51 L793,581.69 L794,581.87 L795,582.04 L796,582.21 L797,582.37 L798,582.53 L799,582.69 L800,582.84 L801,582.98 L802,583.13 L803,583.27 L804,583.41 L805,583.54 L806,583.67 L807,583.80 L808,583.93 L809,584.05 L810,584.17 L811,584.29 L812,584.40 L813,584.52 L814,584.63 L815,584.74 L816,584.85 L817,584.96 L818,585.06 L819,585.17 L820,585.27 L821,585.37 L822,585.47 L823,585.57 L824,585.67" fill="none" stroke="#0000ff" stroke-width="3.5"/>


<path d="M137.0,22.09999999999991 V736.0 H824.0" fill="none" stroke="#000" stroke-width="2.6" stroke-linecap="square"/><path d="M137.0,736.00 h-14 M137.0,671.10 h-7 M137.0,606.20 h-14 M137.0,541.30 h-7 M137.0,476.40 h-14 M137.0,411.50 h-7 M137.0,346.60 h-14 M137.0,281.70 h-7 M137.0,216.80 h-14 M137.0,151.90 h-7 M137.0,87.00 h-14 M137.0,22.10 h-7 M137.00,736.0 v14 M222.88,736.0 v7 M308.75,736.0 v14 M394.62,736.0 v7 M480.50,736.0 v14 M566.38,736.0 v7 M652.25,736.0 v14 M738.12,736.0 v7 M824.00,736.0 v14" fill="none" stroke="#000" stroke-width="2.6" stroke-linecap="round"/><g font-family="&apos;Liberation Sans&apos;, sans-serif" font-size="29" fill="#000"><text transform="translate(112.4,743.6) scale(0.965,1)" text-anchor="end">0.0</text><text transform="translate(112.4,613.8) scale(0.965,1)" text-anchor="end">0.2</text><text transform="translate(112.4,484.0) scale(0.965,1)" text-anchor="end">0.4</text><text transform="translate(112.4,354.2) scale(0.965,1)" text-anchor="end">0.6</text><text transform="translate(112.4,224.4) scale(0.965,1)" text-anchor="end">0.8</text><text transform="translate(112.4,94.6) scale(0.965,1)" text-anchor="end">.0</text><text transform="translate(136.8,782.6) scale(0.96,1.03)" text-anchor="middle">400</text><text transform="translate(308.6,782.6) scale(0.96,1.03)" text-anchor="middle">500</text><text transform="translate(480.3,782.6) scale(0.96,1.03)" text-anchor="middle">600</text><text transform="translate(652.0,782.6) scale(0.96,1.03)" text-anchor="middle">700</text><text transform="translate(823.8,782.6) scale(0.96,1.03)" text-anchor="middle">800</text></g><text x="481" y="833.2" text-anchor="middle" font-family="&apos;Liberation Sans&apos;, sans-serif" font-size="31.7">Wavelength (nm)</text><text transform="translate(34,382.3) rotate(-90)" text-anchor="middle" font-family="&apos;Liberation Sans&apos;, sans-serif" font-size="31.5">Absorbance</text><path d="M365.5,25.9 V735.0" stroke="#000" stroke-width="1.4" stroke-dasharray="2.5,3.555" fill="none"/><path d="M558.2,22.1 V735.0" stroke="#000" stroke-width="1.8" stroke-dasharray="5.4,4.41" fill="none"/>
<path d="M608.8,169.4 L579.2,211.4 M510.2,585.3 L481.5,627.3" stroke="#000" stroke-width="1.3" fill="none"/><text x="593.5" y="158.7" font-family="&apos;Liberation Sans&apos;, sans-serif" font-size="31.5">2 h</text><text x="468.6" y="658.4" font-family="&apos;Liberation Sans&apos;, sans-serif" font-size="31.5">min</text><path d="M763,0 L583,0 L583,1147 Q518,1085 412,1023 Q306,961 222,930 L222,1104 Q373,1175 486,1276 Q599,1377 646,1472 L763,1472 Z" transform="translate(442.4,658.4) scale(0.015479,-0.015479)" fill="#000"/><path d="M763,0 L583,0 L583,1147 Q518,1085 412,1023 Q306,961 222,930 L222,1104 Q373,1175 486,1276 Q599,1377 646,1472 L763,1472 Z" transform="translate(72.7,94.50) scale(0.013965,-0.013965)" fill="#000"/><path d="M581.2,605.6 A355.2,355.2 0 0 0 625.5,256.5" stroke="#000" stroke-width="1.35" fill="none"/><path d="M617,240.5 L621.6,259.3 L625.8,256.8 L630.6,255 Z" fill="#000" stroke="#000" stroke-width="0.8" stroke-linejoin="round"/>
</svg></body></html>
